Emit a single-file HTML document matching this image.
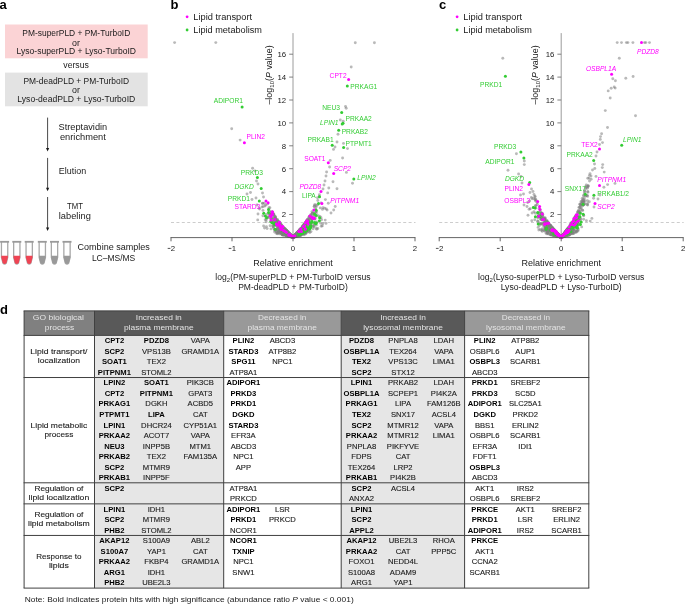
<!DOCTYPE html>
<html><head><meta charset="utf-8"><title>Figure</title>
<style>
html,body{margin:0;padding:0;background:#fff;}
body{width:685px;height:604px;overflow:hidden;}
svg{display:block;font-family:"Liberation Sans",sans-serif;will-change:transform;transform:translateZ(0);}
</style></head><body>
<svg width="685" height="604" viewBox="0 0 685 604" fill="#1a1a1a">
<text x="-0.40" y="9.10" font-size="13" font-weight="bold" fill="#000">a</text>
<rect x="5.00" y="24.50" width="142.70" height="33.80" fill="#fbd3d5"/>
<rect x="5.00" y="72.60" width="142.70" height="33.70" fill="#e3e3e3"/>
<text x="76.30" y="36.12" font-size="8.15" text-anchor="middle" textLength="107.9" lengthAdjust="spacingAndGlyphs">PM-superPLD + PM-TurboID</text>
<text x="76.00" y="45.52" font-size="8.15" text-anchor="middle" textLength="7.9" lengthAdjust="spacingAndGlyphs">or</text>
<text x="76.30" y="53.92" font-size="8.15" text-anchor="middle" textLength="119.4" lengthAdjust="spacingAndGlyphs">Lyso-superPLD + Lyso-TurboID</text>
<text x="76.10" y="68.22" font-size="8.15" text-anchor="middle" textLength="25.6" lengthAdjust="spacingAndGlyphs">versus</text>
<text x="76.30" y="84.12" font-size="8.15" text-anchor="middle" textLength="105.7" lengthAdjust="spacingAndGlyphs">PM-deadPLD + PM-TurboID</text>
<text x="76.00" y="93.32" font-size="8.15" text-anchor="middle" textLength="7.9" lengthAdjust="spacingAndGlyphs">or</text>
<text x="76.30" y="101.92" font-size="8.15" text-anchor="middle" textLength="117.9" lengthAdjust="spacingAndGlyphs">Lyso-deadPLD + Lyso-TurboID</text>
<line x1="47.60" y1="117.60" x2="47.60" y2="149.50" stroke="#1a1a1a" stroke-width="0.8"/>
<path d="M46.00 147.90 L47.60 151.50 L49.20 147.90 Z" fill="#1a1a1a"/>
<line x1="47.60" y1="157.90" x2="47.60" y2="189.30" stroke="#1a1a1a" stroke-width="0.8"/>
<path d="M46.00 187.70 L47.60 191.30 L49.20 187.70 Z" fill="#1a1a1a"/>
<line x1="47.60" y1="197.00" x2="47.60" y2="229.00" stroke="#1a1a1a" stroke-width="0.8"/>
<path d="M46.00 227.40 L47.60 231.00 L49.20 227.40 Z" fill="#1a1a1a"/>
<text x="82.90" y="129.92" font-size="8.15" text-anchor="middle" textLength="48.6" lengthAdjust="spacingAndGlyphs">Streptavidin</text>
<text x="82.90" y="139.72" font-size="8.15" text-anchor="middle" textLength="45.9" lengthAdjust="spacingAndGlyphs">enrichment</text>
<text x="58.80" y="174.32" font-size="8.15" textLength="27.3" lengthAdjust="spacingAndGlyphs">Elution</text>
<text x="75.00" y="209.32" font-size="8.15" text-anchor="middle" textLength="15.9" lengthAdjust="spacingAndGlyphs">TMT</text>
<text x="74.80" y="218.92" font-size="8.15" text-anchor="middle" textLength="32.0" lengthAdjust="spacingAndGlyphs">labeling</text>
<text x="113.70" y="249.52" font-size="8.15" text-anchor="middle" textLength="72.3" lengthAdjust="spacingAndGlyphs">Combine samples</text>
<text x="113.60" y="260.52" font-size="8.15" text-anchor="middle" textLength="43.4" lengthAdjust="spacingAndGlyphs">LC–MS/MS</text>
<path d="M1.45 242.00 L1.45 257.40 L2.90 263.10 Q4.60 265.00 6.30 263.10 L7.75 257.40 L7.75 242.00" fill="none" stroke="#a8a8a8" stroke-width="1.3" stroke-linejoin="round"/>
<path d="M1.30 255.8 L7.90 255.8 L7.90 257.60 L6.50 263.00 Q4.60 264.90 2.70 263.00 L1.30 257.60 Z" fill="#ef4454"/>
<rect x="0.10" y="240.90" width="9.00" height="1.80" fill="#9a9a9a"/>
<path d="M13.65 242.00 L13.65 257.40 L15.10 263.10 Q16.80 265.00 18.50 263.10 L19.95 257.40 L19.95 242.00" fill="none" stroke="#a8a8a8" stroke-width="1.3" stroke-linejoin="round"/>
<path d="M13.50 255.8 L20.10 255.8 L20.10 257.60 L18.70 263.00 Q16.80 264.90 14.90 263.00 L13.50 257.60 Z" fill="#ef4454"/>
<rect x="12.30" y="240.90" width="9.00" height="1.80" fill="#9a9a9a"/>
<path d="M26.05 242.00 L26.05 257.40 L27.50 263.10 Q29.20 265.00 30.90 263.10 L32.35 257.40 L32.35 242.00" fill="none" stroke="#a8a8a8" stroke-width="1.3" stroke-linejoin="round"/>
<path d="M25.90 255.8 L32.50 255.8 L32.50 257.60 L31.10 263.00 Q29.20 264.90 27.30 263.00 L25.90 257.60 Z" fill="#ef4454"/>
<rect x="24.70" y="240.90" width="9.00" height="1.80" fill="#9a9a9a"/>
<path d="M39.15 242.00 L39.15 257.40 L40.60 263.10 Q42.30 265.00 44.00 263.10 L45.45 257.40 L45.45 242.00" fill="none" stroke="#a8a8a8" stroke-width="1.3" stroke-linejoin="round"/>
<path d="M39.00 255.8 L45.60 255.8 L45.60 257.60 L44.20 263.00 Q42.30 264.90 40.40 263.00 L39.00 257.60 Z" fill="#999999"/>
<rect x="37.80" y="240.90" width="9.00" height="1.80" fill="#9a9a9a"/>
<path d="M51.35 242.00 L51.35 257.40 L52.80 263.10 Q54.50 265.00 56.20 263.10 L57.65 257.40 L57.65 242.00" fill="none" stroke="#a8a8a8" stroke-width="1.3" stroke-linejoin="round"/>
<path d="M51.20 255.8 L57.80 255.8 L57.80 257.60 L56.40 263.00 Q54.50 264.90 52.60 263.00 L51.20 257.60 Z" fill="#999999"/>
<rect x="50.00" y="240.90" width="9.00" height="1.80" fill="#9a9a9a"/>
<path d="M63.85 242.00 L63.85 257.40 L65.30 263.10 Q67.00 265.00 68.70 263.10 L70.15 257.40 L70.15 242.00" fill="none" stroke="#a8a8a8" stroke-width="1.3" stroke-linejoin="round"/>
<path d="M63.70 255.8 L70.30 255.8 L70.30 257.60 L68.90 263.00 Q67.00 264.90 65.10 263.00 L63.70 257.60 Z" fill="#999999"/>
<rect x="62.50" y="240.90" width="9.00" height="1.80" fill="#9a9a9a"/>
<line x1="171.00" y1="222.50" x2="415.50" y2="222.50" stroke="#c0c0c0" stroke-width="0.8" stroke-dasharray="3 2.4"/>
<line x1="293.00" y1="33.10" x2="293.00" y2="237.40" stroke="#9c9c9c" stroke-width="1"/>
<line x1="289.20" y1="214.50" x2="293.00" y2="214.50" stroke="#737373" stroke-width="0.9"/>
<text x="286.20" y="217.39" font-size="7.8" text-anchor="end">2</text>
<line x1="289.20" y1="191.60" x2="293.00" y2="191.60" stroke="#737373" stroke-width="0.9"/>
<text x="286.20" y="194.49" font-size="7.8" text-anchor="end">4</text>
<line x1="289.20" y1="168.70" x2="293.00" y2="168.70" stroke="#737373" stroke-width="0.9"/>
<text x="286.20" y="171.59" font-size="7.8" text-anchor="end">6</text>
<line x1="289.20" y1="145.80" x2="293.00" y2="145.80" stroke="#737373" stroke-width="0.9"/>
<text x="286.20" y="148.69" font-size="7.8" text-anchor="end">8</text>
<line x1="289.20" y1="122.90" x2="293.00" y2="122.90" stroke="#737373" stroke-width="0.9"/>
<text x="286.20" y="125.79" font-size="7.8" text-anchor="end">10</text>
<line x1="289.20" y1="100.00" x2="293.00" y2="100.00" stroke="#737373" stroke-width="0.9"/>
<text x="286.20" y="102.89" font-size="7.8" text-anchor="end">12</text>
<line x1="289.20" y1="77.10" x2="293.00" y2="77.10" stroke="#737373" stroke-width="0.9"/>
<text x="286.20" y="79.99" font-size="7.8" text-anchor="end">14</text>
<line x1="289.20" y1="54.20" x2="293.00" y2="54.20" stroke="#737373" stroke-width="0.9"/>
<text x="286.20" y="57.09" font-size="7.8" text-anchor="end">16</text>
<g fill="#808080" fill-opacity="0.55">
<circle cx="282.7" cy="228.8" r="1.45"/>
<circle cx="295.4" cy="235.4" r="1.45"/>
<circle cx="294.1" cy="237.0" r="1.45"/>
<circle cx="306.7" cy="220.5" r="1.45"/>
<circle cx="305.3" cy="232.5" r="1.45"/>
<circle cx="283.6" cy="233.8" r="1.45"/>
<circle cx="292.6" cy="237.2" r="1.45"/>
<circle cx="301.5" cy="231.4" r="1.45"/>
<circle cx="300.1" cy="229.1" r="1.45"/>
<circle cx="314.3" cy="206.6" r="1.45"/>
<circle cx="289.7" cy="236.5" r="1.45"/>
<circle cx="298.9" cy="233.1" r="1.45"/>
<circle cx="293.0" cy="237.4" r="1.45"/>
<circle cx="292.1" cy="236.6" r="1.45"/>
<circle cx="291.9" cy="236.2" r="1.45"/>
<circle cx="294.5" cy="236.9" r="1.45"/>
<circle cx="273.0" cy="221.2" r="1.45"/>
<circle cx="290.4" cy="235.5" r="1.45"/>
<circle cx="280.1" cy="229.6" r="1.45"/>
<circle cx="289.1" cy="233.4" r="1.45"/>
<circle cx="295.7" cy="234.6" r="1.45"/>
<circle cx="294.2" cy="236.2" r="1.45"/>
<circle cx="289.3" cy="233.7" r="1.45"/>
<circle cx="291.8" cy="236.9" r="1.45"/>
<circle cx="298.4" cy="231.3" r="1.45"/>
<circle cx="282.3" cy="227.5" r="1.45"/>
<circle cx="290.9" cy="235.3" r="1.45"/>
<circle cx="276.2" cy="220.3" r="1.45"/>
<circle cx="303.7" cy="233.8" r="1.45"/>
<circle cx="277.7" cy="222.1" r="1.45"/>
<circle cx="297.0" cy="233.7" r="1.45"/>
<circle cx="289.8" cy="234.3" r="1.45"/>
<circle cx="296.8" cy="233.0" r="1.45"/>
<circle cx="285.6" cy="234.7" r="1.45"/>
<circle cx="282.4" cy="231.7" r="1.45"/>
<circle cx="306.6" cy="232.1" r="1.45"/>
<circle cx="292.8" cy="237.2" r="1.45"/>
<circle cx="280.3" cy="226.2" r="1.45"/>
<circle cx="283.1" cy="229.5" r="1.45"/>
<circle cx="311.3" cy="217.6" r="1.45"/>
<circle cx="278.5" cy="223.1" r="1.45"/>
<circle cx="316.1" cy="211.5" r="1.45"/>
<circle cx="282.1" cy="234.2" r="1.45"/>
<circle cx="308.1" cy="222.3" r="1.45"/>
<circle cx="299.7" cy="230.7" r="1.45"/>
<circle cx="275.6" cy="223.4" r="1.45"/>
<circle cx="289.7" cy="235.3" r="1.45"/>
<circle cx="322.3" cy="225.9" r="1.45"/>
<circle cx="278.8" cy="231.9" r="1.45"/>
<circle cx="305.5" cy="223.3" r="1.45"/>
<circle cx="279.3" cy="228.8" r="1.45"/>
<circle cx="284.4" cy="229.7" r="1.45"/>
<circle cx="307.4" cy="219.6" r="1.45"/>
<circle cx="289.0" cy="235.1" r="1.45"/>
<circle cx="300.9" cy="229.3" r="1.45"/>
<circle cx="300.0" cy="235.6" r="1.45"/>
<circle cx="293.5" cy="236.9" r="1.45"/>
<circle cx="297.3" cy="232.9" r="1.45"/>
<circle cx="292.7" cy="237.1" r="1.45"/>
<circle cx="291.1" cy="235.9" r="1.45"/>
<circle cx="280.6" cy="225.6" r="1.45"/>
<circle cx="306.4" cy="227.7" r="1.45"/>
<circle cx="292.9" cy="237.3" r="1.45"/>
<circle cx="289.0" cy="234.1" r="1.45"/>
<circle cx="304.0" cy="227.8" r="1.45"/>
<circle cx="294.1" cy="236.4" r="1.45"/>
<circle cx="294.6" cy="236.1" r="1.45"/>
<circle cx="298.5" cy="231.6" r="1.45"/>
<circle cx="277.0" cy="222.4" r="1.45"/>
<circle cx="264.2" cy="203.2" r="1.45"/>
<circle cx="311.1" cy="215.1" r="1.45"/>
<circle cx="298.0" cy="234.2" r="1.45"/>
<circle cx="309.9" cy="232.5" r="1.45"/>
<circle cx="293.8" cy="236.6" r="1.45"/>
<circle cx="294.8" cy="236.1" r="1.45"/>
<circle cx="314.2" cy="206.4" r="1.45"/>
<circle cx="289.9" cy="235.9" r="1.45"/>
<circle cx="304.8" cy="224.8" r="1.45"/>
<circle cx="297.3" cy="232.9" r="1.45"/>
<circle cx="295.7" cy="234.7" r="1.45"/>
<circle cx="301.6" cy="233.8" r="1.45"/>
<circle cx="301.1" cy="235.3" r="1.45"/>
<circle cx="301.4" cy="229.1" r="1.45"/>
<circle cx="300.8" cy="235.1" r="1.45"/>
<circle cx="299.2" cy="231.2" r="1.45"/>
<circle cx="291.3" cy="235.8" r="1.45"/>
<circle cx="300.5" cy="234.3" r="1.45"/>
<circle cx="290.3" cy="235.2" r="1.45"/>
<circle cx="287.5" cy="235.7" r="1.45"/>
<circle cx="294.5" cy="236.7" r="1.45"/>
<circle cx="283.5" cy="232.3" r="1.45"/>
<circle cx="283.6" cy="233.7" r="1.45"/>
<circle cx="304.8" cy="224.7" r="1.45"/>
<circle cx="315.5" cy="209.1" r="1.45"/>
<circle cx="320.0" cy="216.4" r="1.45"/>
<circle cx="295.9" cy="234.3" r="1.45"/>
<circle cx="294.7" cy="235.9" r="1.45"/>
<circle cx="291.7" cy="236.4" r="1.45"/>
<circle cx="286.5" cy="235.9" r="1.45"/>
<circle cx="278.6" cy="223.6" r="1.45"/>
<circle cx="294.4" cy="236.1" r="1.45"/>
<circle cx="306.4" cy="233.1" r="1.45"/>
<circle cx="292.5" cy="237.1" r="1.45"/>
<circle cx="294.8" cy="236.6" r="1.45"/>
<circle cx="294.2" cy="236.1" r="1.45"/>
<circle cx="274.9" cy="225.0" r="1.45"/>
<circle cx="299.5" cy="235.8" r="1.45"/>
<circle cx="314.6" cy="218.7" r="1.45"/>
<circle cx="299.0" cy="235.1" r="1.45"/>
<circle cx="293.2" cy="237.2" r="1.45"/>
<circle cx="304.5" cy="227.9" r="1.45"/>
<circle cx="296.5" cy="234.5" r="1.45"/>
<circle cx="310.4" cy="222.8" r="1.45"/>
<circle cx="306.8" cy="224.3" r="1.45"/>
<circle cx="299.0" cy="231.5" r="1.45"/>
<circle cx="292.9" cy="237.3" r="1.45"/>
<circle cx="296.1" cy="234.1" r="1.45"/>
<circle cx="297.8" cy="233.7" r="1.45"/>
<circle cx="298.7" cy="232.0" r="1.45"/>
<circle cx="281.0" cy="227.3" r="1.45"/>
<circle cx="286.6" cy="234.9" r="1.45"/>
<circle cx="291.7" cy="236.1" r="1.45"/>
<circle cx="301.2" cy="233.5" r="1.45"/>
<circle cx="312.2" cy="219.1" r="1.45"/>
<circle cx="293.5" cy="236.9" r="1.45"/>
<circle cx="285.0" cy="232.2" r="1.45"/>
<circle cx="293.7" cy="236.8" r="1.45"/>
<circle cx="298.3" cy="232.9" r="1.45"/>
<circle cx="296.9" cy="233.4" r="1.45"/>
<circle cx="292.8" cy="237.4" r="1.45"/>
<circle cx="275.4" cy="218.2" r="1.45"/>
<circle cx="293.6" cy="236.8" r="1.45"/>
<circle cx="299.5" cy="229.9" r="1.45"/>
<circle cx="283.7" cy="227.6" r="1.45"/>
<circle cx="300.3" cy="229.8" r="1.45"/>
<circle cx="280.7" cy="232.4" r="1.45"/>
<circle cx="283.6" cy="231.7" r="1.45"/>
<circle cx="300.0" cy="231.9" r="1.45"/>
<circle cx="274.2" cy="214.9" r="1.45"/>
<circle cx="308.4" cy="231.7" r="1.45"/>
<circle cx="310.8" cy="226.1" r="1.45"/>
<circle cx="278.5" cy="226.2" r="1.45"/>
<circle cx="309.2" cy="229.1" r="1.45"/>
<circle cx="289.0" cy="234.4" r="1.45"/>
<circle cx="283.2" cy="234.5" r="1.45"/>
<circle cx="302.3" cy="232.0" r="1.45"/>
<circle cx="290.0" cy="234.8" r="1.45"/>
<circle cx="293.9" cy="236.5" r="1.45"/>
<circle cx="310.0" cy="225.6" r="1.45"/>
<circle cx="272.2" cy="217.8" r="1.45"/>
<circle cx="297.6" cy="233.1" r="1.45"/>
<circle cx="299.5" cy="235.3" r="1.45"/>
<circle cx="293.9" cy="236.7" r="1.45"/>
<circle cx="278.5" cy="223.7" r="1.45"/>
<circle cx="290.0" cy="236.5" r="1.45"/>
<circle cx="276.8" cy="229.3" r="1.45"/>
<circle cx="287.5" cy="231.8" r="1.45"/>
<circle cx="302.8" cy="226.8" r="1.45"/>
<circle cx="286.6" cy="231.3" r="1.45"/>
<circle cx="287.3" cy="234.2" r="1.45"/>
<circle cx="290.3" cy="234.9" r="1.45"/>
<circle cx="314.0" cy="226.6" r="1.45"/>
<circle cx="317.7" cy="228.5" r="1.45"/>
<circle cx="302.1" cy="227.0" r="1.45"/>
<circle cx="311.9" cy="220.7" r="1.45"/>
<circle cx="294.0" cy="236.5" r="1.45"/>
<circle cx="294.0" cy="237.0" r="1.45"/>
<circle cx="305.1" cy="231.8" r="1.45"/>
<circle cx="301.5" cy="228.3" r="1.45"/>
<circle cx="287.8" cy="232.4" r="1.45"/>
<circle cx="307.8" cy="222.5" r="1.45"/>
<circle cx="299.1" cy="231.6" r="1.45"/>
<circle cx="313.8" cy="216.8" r="1.45"/>
<circle cx="304.8" cy="226.3" r="1.45"/>
<circle cx="299.3" cy="235.0" r="1.45"/>
<circle cx="290.7" cy="236.1" r="1.45"/>
<circle cx="288.4" cy="233.8" r="1.45"/>
<circle cx="295.3" cy="235.9" r="1.45"/>
<circle cx="320.8" cy="223.2" r="1.45"/>
<circle cx="289.9" cy="234.8" r="1.45"/>
<circle cx="295.9" cy="235.9" r="1.45"/>
<circle cx="275.3" cy="223.9" r="1.45"/>
<circle cx="300.6" cy="229.3" r="1.45"/>
<circle cx="297.9" cy="231.9" r="1.45"/>
<circle cx="289.9" cy="234.1" r="1.45"/>
<circle cx="298.6" cy="233.4" r="1.45"/>
<circle cx="296.1" cy="235.3" r="1.45"/>
<circle cx="273.1" cy="214.7" r="1.45"/>
<circle cx="288.1" cy="232.7" r="1.45"/>
<circle cx="304.7" cy="224.1" r="1.45"/>
<circle cx="283.4" cy="228.9" r="1.45"/>
<circle cx="294.2" cy="236.6" r="1.45"/>
<circle cx="303.2" cy="226.2" r="1.45"/>
<circle cx="273.5" cy="215.1" r="1.45"/>
<circle cx="271.1" cy="218.4" r="1.45"/>
<circle cx="295.0" cy="235.2" r="1.45"/>
<circle cx="288.4" cy="233.6" r="1.45"/>
<circle cx="278.5" cy="228.7" r="1.45"/>
<circle cx="305.3" cy="229.8" r="1.45"/>
<circle cx="296.1" cy="235.3" r="1.45"/>
<circle cx="295.7" cy="236.0" r="1.45"/>
<circle cx="283.3" cy="232.4" r="1.45"/>
<circle cx="279.2" cy="231.7" r="1.45"/>
<circle cx="297.6" cy="232.8" r="1.45"/>
<circle cx="307.9" cy="221.1" r="1.45"/>
<circle cx="291.1" cy="235.9" r="1.45"/>
<circle cx="295.3" cy="235.1" r="1.45"/>
<circle cx="294.1" cy="237.0" r="1.45"/>
<circle cx="286.5" cy="230.7" r="1.45"/>
<circle cx="284.0" cy="229.5" r="1.45"/>
<circle cx="298.7" cy="233.9" r="1.45"/>
<circle cx="286.6" cy="230.5" r="1.45"/>
<circle cx="305.5" cy="234.1" r="1.45"/>
<circle cx="287.8" cy="235.8" r="1.45"/>
<circle cx="284.1" cy="228.9" r="1.45"/>
<circle cx="274.8" cy="221.0" r="1.45"/>
<circle cx="298.0" cy="235.5" r="1.45"/>
<circle cx="307.6" cy="221.9" r="1.45"/>
<circle cx="295.6" cy="236.2" r="1.45"/>
<circle cx="306.8" cy="221.0" r="1.45"/>
<circle cx="285.2" cy="229.1" r="1.45"/>
<circle cx="263.0" cy="210.4" r="1.45"/>
<circle cx="294.5" cy="235.8" r="1.45"/>
<circle cx="282.3" cy="230.6" r="1.45"/>
<circle cx="283.1" cy="235.0" r="1.45"/>
<circle cx="305.4" cy="226.1" r="1.45"/>
<circle cx="298.6" cy="231.9" r="1.45"/>
<circle cx="290.2" cy="236.4" r="1.45"/>
<circle cx="282.4" cy="230.3" r="1.45"/>
<circle cx="282.5" cy="229.3" r="1.45"/>
<circle cx="279.1" cy="222.0" r="1.45"/>
<circle cx="300.4" cy="231.4" r="1.45"/>
<circle cx="309.4" cy="229.9" r="1.45"/>
<circle cx="315.4" cy="218.1" r="1.45"/>
<circle cx="320.3" cy="207.9" r="1.45"/>
<circle cx="263.6" cy="225.9" r="1.45"/>
<circle cx="297.2" cy="236.1" r="1.45"/>
<circle cx="285.6" cy="233.2" r="1.45"/>
<circle cx="278.1" cy="230.7" r="1.45"/>
<circle cx="286.7" cy="235.7" r="1.45"/>
<circle cx="316.3" cy="205.7" r="1.45"/>
<circle cx="275.8" cy="218.6" r="1.45"/>
<circle cx="273.3" cy="222.1" r="1.45"/>
<circle cx="293.0" cy="237.4" r="1.45"/>
<circle cx="292.2" cy="236.6" r="1.45"/>
<circle cx="282.0" cy="234.7" r="1.45"/>
<circle cx="297.3" cy="232.7" r="1.45"/>
<circle cx="300.4" cy="233.6" r="1.45"/>
<circle cx="290.6" cy="235.3" r="1.45"/>
<circle cx="295.6" cy="236.3" r="1.45"/>
<circle cx="293.6" cy="236.9" r="1.45"/>
<circle cx="325.2" cy="220.1" r="1.45"/>
<circle cx="288.4" cy="232.9" r="1.45"/>
<circle cx="290.5" cy="235.4" r="1.45"/>
<circle cx="298.4" cy="231.6" r="1.45"/>
<circle cx="296.0" cy="234.1" r="1.45"/>
<circle cx="296.8" cy="236.2" r="1.45"/>
<circle cx="299.7" cy="232.5" r="1.45"/>
<circle cx="281.5" cy="232.3" r="1.45"/>
<circle cx="294.1" cy="236.4" r="1.45"/>
<circle cx="288.9" cy="235.8" r="1.45"/>
<circle cx="285.2" cy="231.9" r="1.45"/>
<circle cx="290.5" cy="235.5" r="1.45"/>
<circle cx="279.6" cy="226.7" r="1.45"/>
<circle cx="301.2" cy="228.8" r="1.45"/>
<circle cx="295.2" cy="235.4" r="1.45"/>
<circle cx="281.3" cy="230.2" r="1.45"/>
<circle cx="310.9" cy="214.4" r="1.45"/>
<circle cx="282.1" cy="234.7" r="1.45"/>
<circle cx="307.5" cy="220.9" r="1.45"/>
<circle cx="290.9" cy="236.1" r="1.45"/>
<circle cx="285.7" cy="230.8" r="1.45"/>
<circle cx="263.2" cy="206.6" r="1.45"/>
<circle cx="291.0" cy="236.9" r="1.45"/>
<circle cx="280.8" cy="231.8" r="1.45"/>
<circle cx="294.1" cy="236.4" r="1.45"/>
<circle cx="289.3" cy="234.4" r="1.45"/>
<circle cx="310.9" cy="225.0" r="1.45"/>
<circle cx="289.9" cy="234.8" r="1.45"/>
<circle cx="285.4" cy="229.6" r="1.45"/>
<circle cx="289.6" cy="234.1" r="1.45"/>
<circle cx="286.1" cy="235.7" r="1.45"/>
<circle cx="309.7" cy="219.3" r="1.45"/>
<circle cx="289.3" cy="235.8" r="1.45"/>
<circle cx="259.3" cy="208.1" r="1.45"/>
<circle cx="293.5" cy="237.0" r="1.45"/>
<circle cx="287.7" cy="232.3" r="1.45"/>
<circle cx="318.2" cy="215.8" r="1.45"/>
<circle cx="298.6" cy="231.1" r="1.45"/>
<circle cx="283.0" cy="233.5" r="1.45"/>
<circle cx="285.1" cy="232.6" r="1.45"/>
<circle cx="306.2" cy="224.0" r="1.45"/>
<circle cx="287.0" cy="232.5" r="1.45"/>
<circle cx="289.0" cy="235.9" r="1.45"/>
<circle cx="286.8" cy="230.8" r="1.45"/>
<circle cx="290.9" cy="235.5" r="1.45"/>
<circle cx="274.8" cy="216.5" r="1.45"/>
<circle cx="286.9" cy="231.4" r="1.45"/>
<circle cx="274.6" cy="232.0" r="1.45"/>
<circle cx="289.6" cy="236.2" r="1.45"/>
<circle cx="293.4" cy="237.2" r="1.45"/>
<circle cx="294.7" cy="235.5" r="1.45"/>
<circle cx="276.8" cy="231.4" r="1.45"/>
<circle cx="288.9" cy="233.7" r="1.45"/>
<circle cx="296.0" cy="235.7" r="1.45"/>
<circle cx="292.5" cy="237.0" r="1.45"/>
<circle cx="312.2" cy="213.5" r="1.45"/>
<circle cx="279.1" cy="222.5" r="1.45"/>
<circle cx="280.5" cy="229.7" r="1.45"/>
<circle cx="292.2" cy="237.0" r="1.45"/>
<circle cx="288.9" cy="235.1" r="1.45"/>
<circle cx="290.7" cy="236.4" r="1.45"/>
<circle cx="287.8" cy="235.6" r="1.45"/>
<circle cx="307.0" cy="224.0" r="1.45"/>
<circle cx="286.8" cy="235.7" r="1.45"/>
<circle cx="292.3" cy="236.9" r="1.45"/>
<circle cx="288.1" cy="236.2" r="1.45"/>
<circle cx="265.2" cy="219.7" r="1.45"/>
<circle cx="295.4" cy="235.5" r="1.45"/>
<circle cx="298.2" cy="231.6" r="1.45"/>
<circle cx="304.4" cy="230.1" r="1.45"/>
<circle cx="289.0" cy="233.6" r="1.45"/>
<circle cx="293.5" cy="237.1" r="1.45"/>
<circle cx="287.4" cy="232.1" r="1.45"/>
<circle cx="290.3" cy="235.2" r="1.45"/>
<circle cx="293.0" cy="237.4" r="1.45"/>
<circle cx="284.5" cy="231.5" r="1.45"/>
<circle cx="302.5" cy="228.2" r="1.45"/>
<circle cx="265.8" cy="205.0" r="1.45"/>
<circle cx="295.0" cy="236.0" r="1.45"/>
<circle cx="298.3" cy="232.4" r="1.45"/>
<circle cx="296.1" cy="235.7" r="1.45"/>
<circle cx="284.0" cy="234.9" r="1.45"/>
<circle cx="291.7" cy="236.0" r="1.45"/>
<circle cx="285.5" cy="230.2" r="1.45"/>
<circle cx="316.6" cy="222.0" r="1.45"/>
<circle cx="311.4" cy="218.1" r="1.45"/>
<circle cx="277.3" cy="228.8" r="1.45"/>
<circle cx="314.4" cy="204.9" r="1.45"/>
<circle cx="299.3" cy="232.0" r="1.45"/>
<circle cx="294.6" cy="236.1" r="1.45"/>
<circle cx="290.4" cy="235.5" r="1.45"/>
<circle cx="278.4" cy="225.5" r="1.45"/>
<circle cx="277.4" cy="233.1" r="1.45"/>
<circle cx="276.6" cy="220.6" r="1.45"/>
<circle cx="283.2" cy="232.1" r="1.45"/>
<circle cx="272.8" cy="215.0" r="1.45"/>
<circle cx="286.8" cy="231.9" r="1.45"/>
<circle cx="298.7" cy="233.1" r="1.45"/>
<circle cx="294.8" cy="236.8" r="1.45"/>
<circle cx="296.4" cy="236.2" r="1.45"/>
<circle cx="292.8" cy="237.3" r="1.45"/>
<circle cx="296.7" cy="234.8" r="1.45"/>
<circle cx="289.2" cy="236.4" r="1.45"/>
<circle cx="297.3" cy="235.7" r="1.45"/>
<circle cx="267.7" cy="217.3" r="1.45"/>
<circle cx="298.8" cy="233.0" r="1.45"/>
<circle cx="304.3" cy="224.4" r="1.45"/>
<circle cx="292.0" cy="236.6" r="1.45"/>
<circle cx="284.0" cy="233.8" r="1.45"/>
<circle cx="293.1" cy="237.3" r="1.45"/>
<circle cx="308.4" cy="220.9" r="1.45"/>
<circle cx="309.9" cy="216.5" r="1.45"/>
<circle cx="277.7" cy="220.9" r="1.45"/>
<circle cx="282.2" cy="231.4" r="1.45"/>
<circle cx="279.6" cy="225.0" r="1.45"/>
<circle cx="288.9" cy="233.9" r="1.45"/>
<circle cx="291.8" cy="236.3" r="1.45"/>
<circle cx="276.0" cy="222.4" r="1.45"/>
<circle cx="291.6" cy="236.7" r="1.45"/>
<circle cx="292.9" cy="237.3" r="1.45"/>
<circle cx="283.4" cy="228.1" r="1.45"/>
<circle cx="275.4" cy="216.8" r="1.45"/>
<circle cx="286.4" cy="233.1" r="1.45"/>
<circle cx="289.0" cy="233.2" r="1.45"/>
<circle cx="290.5" cy="234.7" r="1.45"/>
<circle cx="280.4" cy="227.2" r="1.45"/>
<circle cx="281.0" cy="226.3" r="1.45"/>
<circle cx="302.7" cy="227.5" r="1.45"/>
<circle cx="300.0" cy="233.0" r="1.45"/>
<circle cx="289.7" cy="235.1" r="1.45"/>
<circle cx="293.4" cy="237.2" r="1.45"/>
<circle cx="303.5" cy="227.7" r="1.45"/>
<circle cx="285.1" cy="228.9" r="1.45"/>
<circle cx="289.7" cy="234.4" r="1.45"/>
<circle cx="293.8" cy="236.7" r="1.45"/>
<circle cx="296.3" cy="234.4" r="1.45"/>
<circle cx="295.5" cy="235.3" r="1.45"/>
<circle cx="282.9" cy="227.2" r="1.45"/>
<circle cx="289.5" cy="234.4" r="1.45"/>
<circle cx="291.7" cy="236.7" r="1.45"/>
<circle cx="313.8" cy="226.6" r="1.45"/>
<circle cx="295.7" cy="234.6" r="1.45"/>
<circle cx="295.5" cy="235.8" r="1.45"/>
<circle cx="287.8" cy="233.4" r="1.45"/>
<circle cx="281.4" cy="233.0" r="1.45"/>
<circle cx="278.2" cy="232.2" r="1.45"/>
<circle cx="306.6" cy="222.2" r="1.45"/>
<circle cx="291.0" cy="236.2" r="1.45"/>
<circle cx="299.1" cy="233.1" r="1.45"/>
<circle cx="297.9" cy="232.4" r="1.45"/>
<circle cx="282.2" cy="226.8" r="1.45"/>
<circle cx="268.9" cy="217.5" r="1.45"/>
<circle cx="298.7" cy="231.9" r="1.45"/>
<circle cx="286.2" cy="233.3" r="1.45"/>
<circle cx="297.0" cy="233.9" r="1.45"/>
<circle cx="286.4" cy="230.8" r="1.45"/>
<circle cx="286.2" cy="231.0" r="1.45"/>
<circle cx="303.4" cy="234.0" r="1.45"/>
<circle cx="294.1" cy="236.8" r="1.45"/>
<circle cx="305.8" cy="222.8" r="1.45"/>
<circle cx="293.3" cy="237.2" r="1.45"/>
<circle cx="285.2" cy="231.1" r="1.45"/>
<circle cx="270.9" cy="214.4" r="1.45"/>
<circle cx="293.8" cy="236.9" r="1.45"/>
<circle cx="295.9" cy="234.5" r="1.45"/>
<circle cx="287.2" cy="234.2" r="1.45"/>
<circle cx="294.0" cy="236.5" r="1.45"/>
<circle cx="308.7" cy="220.4" r="1.45"/>
<circle cx="310.3" cy="224.5" r="1.45"/>
<circle cx="283.4" cy="234.4" r="1.45"/>
<circle cx="297.2" cy="235.9" r="1.45"/>
<circle cx="294.6" cy="236.2" r="1.45"/>
<circle cx="274.2" cy="225.4" r="1.45"/>
<circle cx="289.9" cy="235.2" r="1.45"/>
<circle cx="301.6" cy="230.4" r="1.45"/>
<circle cx="292.9" cy="237.3" r="1.45"/>
<circle cx="307.5" cy="226.0" r="1.45"/>
<circle cx="291.5" cy="235.9" r="1.45"/>
<circle cx="314.8" cy="219.3" r="1.45"/>
<circle cx="289.2" cy="233.6" r="1.45"/>
<circle cx="284.6" cy="229.1" r="1.45"/>
<circle cx="302.7" cy="226.9" r="1.45"/>
<circle cx="288.5" cy="232.7" r="1.45"/>
<circle cx="287.3" cy="233.8" r="1.45"/>
<circle cx="286.0" cy="235.6" r="1.45"/>
<circle cx="293.7" cy="236.8" r="1.45"/>
<circle cx="289.8" cy="235.7" r="1.45"/>
<circle cx="284.7" cy="230.2" r="1.45"/>
<circle cx="292.9" cy="237.3" r="1.45"/>
<circle cx="281.7" cy="227.2" r="1.45"/>
<circle cx="288.5" cy="234.1" r="1.45"/>
<circle cx="284.4" cy="229.9" r="1.45"/>
<circle cx="291.8" cy="236.8" r="1.45"/>
<circle cx="299.4" cy="231.4" r="1.45"/>
<circle cx="288.8" cy="236.2" r="1.45"/>
<circle cx="313.6" cy="223.4" r="1.45"/>
<circle cx="311.0" cy="231.6" r="1.45"/>
<circle cx="293.6" cy="237.0" r="1.45"/>
<circle cx="304.8" cy="223.8" r="1.45"/>
<circle cx="303.0" cy="228.0" r="1.45"/>
<circle cx="278.8" cy="222.1" r="1.45"/>
<circle cx="299.7" cy="229.8" r="1.45"/>
<circle cx="285.6" cy="235.0" r="1.45"/>
<circle cx="276.4" cy="231.7" r="1.45"/>
<circle cx="305.7" cy="232.8" r="1.45"/>
<circle cx="288.4" cy="234.5" r="1.45"/>
<circle cx="286.3" cy="231.1" r="1.45"/>
<circle cx="267.1" cy="228.6" r="1.45"/>
<circle cx="287.1" cy="231.3" r="1.45"/>
<circle cx="278.4" cy="223.5" r="1.45"/>
<circle cx="276.0" cy="224.0" r="1.45"/>
<circle cx="287.7" cy="234.6" r="1.45"/>
<circle cx="301.5" cy="230.8" r="1.45"/>
<circle cx="298.1" cy="233.9" r="1.45"/>
<circle cx="297.6" cy="235.3" r="1.45"/>
<circle cx="276.6" cy="229.6" r="1.45"/>
<circle cx="271.2" cy="214.5" r="1.45"/>
<circle cx="281.0" cy="224.2" r="1.45"/>
<circle cx="300.1" cy="234.2" r="1.45"/>
<circle cx="294.3" cy="236.1" r="1.45"/>
<circle cx="278.0" cy="226.2" r="1.45"/>
<circle cx="290.9" cy="235.5" r="1.45"/>
<circle cx="312.0" cy="215.6" r="1.45"/>
<circle cx="290.2" cy="235.3" r="1.45"/>
<circle cx="274.9" cy="217.6" r="1.45"/>
<circle cx="306.5" cy="221.1" r="1.45"/>
<circle cx="297.0" cy="232.8" r="1.45"/>
<circle cx="292.7" cy="237.3" r="1.45"/>
<circle cx="289.4" cy="235.1" r="1.45"/>
<circle cx="288.8" cy="234.6" r="1.45"/>
<circle cx="295.0" cy="235.4" r="1.45"/>
<circle cx="303.9" cy="227.1" r="1.45"/>
<circle cx="305.5" cy="222.4" r="1.45"/>
<circle cx="285.5" cy="231.0" r="1.45"/>
<circle cx="301.2" cy="232.8" r="1.45"/>
<circle cx="257.7" cy="219.9" r="1.45"/>
<circle cx="294.2" cy="237.0" r="1.45"/>
<circle cx="297.3" cy="233.1" r="1.45"/>
<circle cx="279.3" cy="233.9" r="1.45"/>
<circle cx="315.4" cy="204.8" r="1.45"/>
<circle cx="295.4" cy="236.1" r="1.45"/>
<circle cx="290.2" cy="234.4" r="1.45"/>
<circle cx="284.7" cy="232.1" r="1.45"/>
<circle cx="294.7" cy="236.5" r="1.45"/>
<circle cx="325.4" cy="199.6" r="1.45"/>
<circle cx="293.2" cy="237.2" r="1.45"/>
<circle cx="304.0" cy="224.9" r="1.45"/>
<circle cx="283.8" cy="228.8" r="1.45"/>
<circle cx="291.5" cy="235.9" r="1.45"/>
<circle cx="270.8" cy="218.6" r="1.45"/>
<circle cx="309.4" cy="216.6" r="1.45"/>
<circle cx="292.1" cy="236.8" r="1.45"/>
<circle cx="287.9" cy="236.2" r="1.45"/>
<circle cx="296.5" cy="234.8" r="1.45"/>
<circle cx="278.9" cy="231.1" r="1.45"/>
<circle cx="295.2" cy="236.3" r="1.45"/>
<circle cx="273.8" cy="228.4" r="1.45"/>
<circle cx="296.5" cy="235.7" r="1.45"/>
<circle cx="295.4" cy="236.2" r="1.45"/>
<circle cx="276.8" cy="221.5" r="1.45"/>
<circle cx="293.9" cy="236.4" r="1.45"/>
<circle cx="289.9" cy="234.1" r="1.45"/>
<circle cx="287.5" cy="232.6" r="1.45"/>
<circle cx="273.5" cy="213.8" r="1.45"/>
<circle cx="273.4" cy="227.1" r="1.45"/>
<circle cx="308.7" cy="220.3" r="1.45"/>
<circle cx="284.3" cy="235.0" r="1.45"/>
<circle cx="294.8" cy="235.5" r="1.45"/>
<circle cx="277.3" cy="219.8" r="1.45"/>
<circle cx="317.8" cy="200.5" r="1.45"/>
<circle cx="287.2" cy="234.8" r="1.45"/>
<circle cx="293.9" cy="236.9" r="1.45"/>
<circle cx="288.4" cy="235.9" r="1.45"/>
<circle cx="302.0" cy="228.8" r="1.45"/>
<circle cx="327.1" cy="210.1" r="1.45"/>
<circle cx="288.4" cy="233.4" r="1.45"/>
<circle cx="288.0" cy="235.0" r="1.45"/>
<circle cx="281.4" cy="226.0" r="1.45"/>
<circle cx="290.4" cy="234.6" r="1.45"/>
<circle cx="298.9" cy="235.1" r="1.45"/>
<circle cx="276.3" cy="233.2" r="1.45"/>
<circle cx="272.9" cy="219.1" r="1.45"/>
<circle cx="290.5" cy="236.2" r="1.45"/>
<circle cx="289.2" cy="235.4" r="1.45"/>
<circle cx="280.8" cy="230.7" r="1.45"/>
<circle cx="303.1" cy="229.9" r="1.45"/>
<circle cx="287.9" cy="231.9" r="1.45"/>
<circle cx="290.7" cy="235.1" r="1.45"/>
<circle cx="282.0" cy="225.9" r="1.45"/>
<circle cx="291.7" cy="236.7" r="1.45"/>
<circle cx="301.0" cy="229.9" r="1.45"/>
<circle cx="284.4" cy="231.2" r="1.45"/>
<circle cx="300.2" cy="232.4" r="1.45"/>
<circle cx="280.2" cy="223.1" r="1.45"/>
<circle cx="285.7" cy="230.7" r="1.45"/>
<circle cx="282.9" cy="231.1" r="1.45"/>
<circle cx="284.8" cy="229.6" r="1.45"/>
<circle cx="297.9" cy="235.3" r="1.45"/>
<circle cx="311.9" cy="218.2" r="1.45"/>
<circle cx="307.4" cy="222.0" r="1.45"/>
<circle cx="295.2" cy="234.9" r="1.45"/>
<circle cx="293.3" cy="237.3" r="1.45"/>
<circle cx="303.9" cy="226.1" r="1.45"/>
<circle cx="305.0" cy="226.6" r="1.45"/>
<circle cx="297.3" cy="233.6" r="1.45"/>
<circle cx="294.6" cy="236.3" r="1.45"/>
<circle cx="310.8" cy="217.5" r="1.45"/>
<circle cx="292.7" cy="237.1" r="1.45"/>
<circle cx="279.7" cy="223.5" r="1.45"/>
<circle cx="289.0" cy="234.3" r="1.45"/>
<circle cx="297.0" cy="233.8" r="1.45"/>
<circle cx="297.7" cy="234.0" r="1.45"/>
<circle cx="292.5" cy="237.0" r="1.45"/>
<circle cx="296.3" cy="234.8" r="1.45"/>
<circle cx="288.0" cy="236.1" r="1.45"/>
<circle cx="283.6" cy="227.7" r="1.45"/>
<circle cx="299.2" cy="234.6" r="1.45"/>
<circle cx="285.9" cy="231.2" r="1.45"/>
<circle cx="304.9" cy="224.7" r="1.45"/>
<circle cx="295.4" cy="234.8" r="1.45"/>
<circle cx="291.0" cy="236.5" r="1.45"/>
<circle cx="308.0" cy="221.9" r="1.45"/>
<circle cx="307.2" cy="227.7" r="1.45"/>
<circle cx="284.9" cy="229.1" r="1.45"/>
<circle cx="289.1" cy="235.1" r="1.45"/>
<circle cx="286.1" cy="231.4" r="1.45"/>
<circle cx="279.9" cy="227.1" r="1.45"/>
<circle cx="277.5" cy="233.0" r="1.45"/>
<circle cx="292.8" cy="237.3" r="1.45"/>
<circle cx="291.6" cy="235.9" r="1.45"/>
<circle cx="300.7" cy="233.3" r="1.45"/>
<circle cx="294.5" cy="236.7" r="1.45"/>
<circle cx="301.2" cy="232.4" r="1.45"/>
<circle cx="296.4" cy="233.6" r="1.45"/>
<circle cx="285.8" cy="233.9" r="1.45"/>
<circle cx="299.1" cy="231.5" r="1.45"/>
<circle cx="285.0" cy="230.5" r="1.45"/>
<circle cx="287.1" cy="233.2" r="1.45"/>
<circle cx="279.1" cy="222.3" r="1.45"/>
<circle cx="276.9" cy="221.6" r="1.45"/>
<circle cx="279.7" cy="225.1" r="1.45"/>
<circle cx="277.4" cy="227.7" r="1.45"/>
<circle cx="296.5" cy="235.9" r="1.45"/>
<circle cx="262.5" cy="203.3" r="1.45"/>
<circle cx="298.8" cy="232.2" r="1.45"/>
<circle cx="308.9" cy="229.2" r="1.45"/>
<circle cx="302.5" cy="226.3" r="1.45"/>
<circle cx="274.0" cy="219.6" r="1.45"/>
<circle cx="296.7" cy="234.7" r="1.45"/>
<circle cx="290.7" cy="235.1" r="1.45"/>
<circle cx="297.0" cy="233.9" r="1.45"/>
<circle cx="291.0" cy="236.2" r="1.45"/>
<circle cx="288.5" cy="233.7" r="1.45"/>
<circle cx="298.5" cy="234.2" r="1.45"/>
<circle cx="293.3" cy="237.2" r="1.45"/>
<circle cx="288.3" cy="233.0" r="1.45"/>
<circle cx="291.4" cy="236.0" r="1.45"/>
<circle cx="296.6" cy="234.2" r="1.45"/>
<circle cx="306.9" cy="221.6" r="1.45"/>
<circle cx="285.0" cy="232.6" r="1.45"/>
<circle cx="302.8" cy="226.0" r="1.45"/>
<circle cx="289.8" cy="236.3" r="1.45"/>
<circle cx="297.8" cy="234.3" r="1.45"/>
<circle cx="321.6" cy="219.7" r="1.45"/>
<circle cx="277.7" cy="221.2" r="1.45"/>
<circle cx="296.0" cy="236.1" r="1.45"/>
<circle cx="293.6" cy="237.2" r="1.45"/>
<circle cx="302.1" cy="234.5" r="1.45"/>
<circle cx="287.5" cy="233.4" r="1.45"/>
<circle cx="291.7" cy="236.3" r="1.45"/>
<circle cx="289.0" cy="234.1" r="1.45"/>
<circle cx="285.1" cy="231.8" r="1.45"/>
<circle cx="287.4" cy="234.8" r="1.45"/>
<circle cx="292.8" cy="237.3" r="1.45"/>
<circle cx="291.5" cy="236.2" r="1.45"/>
<circle cx="284.0" cy="228.5" r="1.45"/>
<circle cx="304.3" cy="227.1" r="1.45"/>
<circle cx="299.2" cy="233.0" r="1.45"/>
<circle cx="283.6" cy="228.9" r="1.45"/>
<circle cx="295.9" cy="235.9" r="1.45"/>
<circle cx="273.1" cy="226.7" r="1.45"/>
<circle cx="267.6" cy="204.1" r="1.45"/>
<circle cx="286.7" cy="231.2" r="1.45"/>
<circle cx="301.4" cy="228.7" r="1.45"/>
<circle cx="291.0" cy="235.8" r="1.45"/>
<circle cx="282.7" cy="229.7" r="1.45"/>
<circle cx="303.1" cy="230.6" r="1.45"/>
<circle cx="306.0" cy="228.4" r="1.45"/>
<circle cx="297.8" cy="233.5" r="1.45"/>
<circle cx="289.9" cy="236.1" r="1.45"/>
<circle cx="275.0" cy="216.7" r="1.45"/>
<circle cx="294.2" cy="236.8" r="1.45"/>
<circle cx="307.9" cy="221.0" r="1.45"/>
<circle cx="292.6" cy="237.0" r="1.45"/>
<circle cx="290.8" cy="235.1" r="1.45"/>
<circle cx="289.2" cy="233.7" r="1.45"/>
<circle cx="280.4" cy="223.9" r="1.45"/>
<circle cx="282.6" cy="227.7" r="1.45"/>
<circle cx="277.3" cy="226.5" r="1.45"/>
<circle cx="296.2" cy="233.9" r="1.45"/>
<circle cx="293.8" cy="237.0" r="1.45"/>
<circle cx="269.7" cy="213.9" r="1.45"/>
<circle cx="298.6" cy="231.1" r="1.45"/>
<circle cx="292.2" cy="237.0" r="1.45"/>
<circle cx="293.6" cy="236.7" r="1.45"/>
<circle cx="288.0" cy="233.7" r="1.45"/>
<circle cx="295.3" cy="235.8" r="1.45"/>
<circle cx="302.6" cy="233.4" r="1.45"/>
<circle cx="293.9" cy="236.4" r="1.45"/>
<circle cx="269.7" cy="210.9" r="1.45"/>
<circle cx="293.6" cy="236.7" r="1.45"/>
<circle cx="290.8" cy="236.9" r="1.45"/>
<circle cx="298.6" cy="235.9" r="1.45"/>
<circle cx="303.7" cy="225.9" r="1.45"/>
<circle cx="290.3" cy="236.4" r="1.45"/>
<circle cx="295.1" cy="235.8" r="1.45"/>
<circle cx="291.0" cy="236.1" r="1.45"/>
<circle cx="285.0" cy="231.3" r="1.45"/>
<circle cx="287.9" cy="232.3" r="1.45"/>
<circle cx="298.8" cy="231.0" r="1.45"/>
<circle cx="286.9" cy="231.0" r="1.45"/>
<circle cx="277.6" cy="222.3" r="1.45"/>
<circle cx="275.6" cy="217.7" r="1.45"/>
<circle cx="323.0" cy="207.8" r="1.45"/>
<circle cx="309.8" cy="216.1" r="1.45"/>
<circle cx="316.3" cy="211.8" r="1.45"/>
<circle cx="319.4" cy="196.5" r="1.45"/>
<circle cx="305.4" cy="224.1" r="1.45"/>
<circle cx="294.6" cy="235.8" r="1.45"/>
<circle cx="280.6" cy="231.0" r="1.45"/>
<circle cx="295.5" cy="234.8" r="1.45"/>
<circle cx="296.5" cy="234.3" r="1.45"/>
<circle cx="269.3" cy="215.3" r="1.45"/>
<circle cx="293.0" cy="237.4" r="1.45"/>
<circle cx="289.0" cy="233.2" r="1.45"/>
<circle cx="296.1" cy="234.6" r="1.45"/>
<circle cx="324.7" cy="208.3" r="1.45"/>
<circle cx="288.3" cy="232.6" r="1.45"/>
<circle cx="278.5" cy="223.6" r="1.45"/>
<circle cx="295.6" cy="236.4" r="1.45"/>
<circle cx="286.3" cy="231.7" r="1.45"/>
<circle cx="306.0" cy="222.6" r="1.45"/>
<circle cx="285.3" cy="229.3" r="1.45"/>
<circle cx="302.2" cy="227.3" r="1.45"/>
<circle cx="293.3" cy="237.3" r="1.45"/>
<circle cx="292.2" cy="237.1" r="1.45"/>
<circle cx="313.1" cy="228.7" r="1.45"/>
<circle cx="308.1" cy="219.6" r="1.45"/>
<circle cx="303.1" cy="228.3" r="1.45"/>
<circle cx="274.4" cy="224.6" r="1.45"/>
<circle cx="284.9" cy="231.4" r="1.45"/>
<circle cx="301.3" cy="234.4" r="1.45"/>
<circle cx="306.3" cy="228.9" r="1.45"/>
<circle cx="297.0" cy="234.6" r="1.45"/>
<circle cx="298.8" cy="231.9" r="1.45"/>
<circle cx="287.5" cy="231.5" r="1.45"/>
<circle cx="286.6" cy="232.3" r="1.45"/>
<circle cx="291.0" cy="235.9" r="1.45"/>
<circle cx="299.8" cy="233.4" r="1.45"/>
<circle cx="295.8" cy="234.4" r="1.45"/>
<circle cx="291.2" cy="235.6" r="1.45"/>
<circle cx="293.8" cy="237.1" r="1.45"/>
<circle cx="281.4" cy="225.2" r="1.45"/>
<circle cx="291.1" cy="235.4" r="1.45"/>
<circle cx="300.4" cy="229.1" r="1.45"/>
<circle cx="295.7" cy="235.3" r="1.45"/>
<circle cx="288.5" cy="232.9" r="1.45"/>
<circle cx="297.5" cy="233.7" r="1.45"/>
<circle cx="284.2" cy="231.3" r="1.45"/>
<circle cx="316.2" cy="213.5" r="1.45"/>
<circle cx="290.7" cy="235.4" r="1.45"/>
<circle cx="297.8" cy="233.2" r="1.45"/>
<circle cx="300.2" cy="235.1" r="1.45"/>
<circle cx="271.1" cy="216.0" r="1.45"/>
<circle cx="287.2" cy="231.3" r="1.45"/>
<circle cx="294.6" cy="235.9" r="1.45"/>
<circle cx="303.9" cy="226.4" r="1.45"/>
<circle cx="299.1" cy="233.9" r="1.45"/>
<circle cx="287.3" cy="234.4" r="1.45"/>
<circle cx="296.4" cy="236.3" r="1.45"/>
<circle cx="322.5" cy="209.4" r="1.45"/>
<circle cx="291.1" cy="235.5" r="1.45"/>
<circle cx="289.3" cy="234.8" r="1.45"/>
<circle cx="266.7" cy="214.3" r="1.45"/>
<circle cx="288.7" cy="235.4" r="1.45"/>
<circle cx="293.4" cy="237.0" r="1.45"/>
<circle cx="290.3" cy="236.6" r="1.45"/>
<circle cx="303.7" cy="230.2" r="1.45"/>
<circle cx="297.5" cy="234.6" r="1.45"/>
<circle cx="294.1" cy="237.0" r="1.45"/>
<circle cx="286.4" cy="230.3" r="1.45"/>
<circle cx="319.4" cy="194.8" r="1.45"/>
<circle cx="300.4" cy="229.2" r="1.45"/>
<circle cx="299.2" cy="231.8" r="1.45"/>
<circle cx="302.8" cy="227.1" r="1.45"/>
<circle cx="294.1" cy="237.1" r="1.45"/>
<circle cx="285.8" cy="232.3" r="1.45"/>
<circle cx="274.1" cy="217.6" r="1.45"/>
<circle cx="293.0" cy="237.4" r="1.45"/>
<circle cx="293.8" cy="236.6" r="1.45"/>
<circle cx="305.7" cy="227.7" r="1.45"/>
<circle cx="285.2" cy="231.2" r="1.45"/>
<circle cx="291.1" cy="236.1" r="1.45"/>
<circle cx="293.0" cy="237.4" r="1.45"/>
<circle cx="271.1" cy="212.6" r="1.45"/>
<circle cx="275.3" cy="219.1" r="1.45"/>
<circle cx="290.7" cy="235.2" r="1.45"/>
<circle cx="300.4" cy="233.2" r="1.45"/>
<circle cx="279.9" cy="223.3" r="1.45"/>
<circle cx="299.7" cy="232.9" r="1.45"/>
<circle cx="285.4" cy="231.1" r="1.45"/>
<circle cx="282.5" cy="234.7" r="1.45"/>
<circle cx="287.4" cy="235.8" r="1.45"/>
<circle cx="288.3" cy="234.0" r="1.45"/>
<circle cx="298.6" cy="235.5" r="1.45"/>
<circle cx="274.9" cy="220.6" r="1.45"/>
<circle cx="294.0" cy="236.9" r="1.45"/>
<circle cx="308.5" cy="226.3" r="1.45"/>
<circle cx="285.0" cy="229.0" r="1.45"/>
<circle cx="272.2" cy="221.3" r="1.45"/>
<circle cx="295.2" cy="235.6" r="1.45"/>
<circle cx="272.6" cy="225.8" r="1.45"/>
<circle cx="270.1" cy="225.7" r="1.45"/>
<circle cx="316.2" cy="228.4" r="1.45"/>
<circle cx="288.7" cy="232.9" r="1.45"/>
<circle cx="312.8" cy="226.0" r="1.45"/>
<circle cx="297.8" cy="236.0" r="1.45"/>
<circle cx="286.3" cy="233.6" r="1.45"/>
<circle cx="297.0" cy="233.9" r="1.45"/>
<circle cx="284.5" cy="233.6" r="1.45"/>
<circle cx="288.6" cy="236.0" r="1.45"/>
<circle cx="284.8" cy="229.4" r="1.45"/>
<circle cx="285.7" cy="235.7" r="1.45"/>
<circle cx="273.7" cy="223.6" r="1.45"/>
<circle cx="275.6" cy="220.2" r="1.45"/>
<circle cx="301.6" cy="229.3" r="1.45"/>
<circle cx="293.6" cy="236.8" r="1.45"/>
<circle cx="293.6" cy="237.1" r="1.45"/>
<circle cx="295.1" cy="236.6" r="1.45"/>
<circle cx="300.8" cy="229.9" r="1.45"/>
<circle cx="266.1" cy="221.7" r="1.45"/>
<circle cx="317.5" cy="197.7" r="1.45"/>
<circle cx="293.7" cy="236.6" r="1.45"/>
<circle cx="293.4" cy="237.2" r="1.45"/>
<circle cx="279.0" cy="229.9" r="1.45"/>
<circle cx="285.0" cy="231.5" r="1.45"/>
<circle cx="296.0" cy="235.4" r="1.45"/>
<circle cx="303.8" cy="224.5" r="1.45"/>
<circle cx="292.8" cy="237.3" r="1.45"/>
<circle cx="314.3" cy="224.7" r="1.45"/>
<circle cx="273.7" cy="214.1" r="1.45"/>
<circle cx="300.4" cy="229.5" r="1.45"/>
<circle cx="301.3" cy="231.4" r="1.45"/>
<circle cx="297.5" cy="235.7" r="1.45"/>
<circle cx="295.8" cy="234.3" r="1.45"/>
<circle cx="276.5" cy="223.9" r="1.45"/>
<circle cx="293.5" cy="236.9" r="1.45"/>
<circle cx="264.9" cy="206.0" r="1.45"/>
<circle cx="298.3" cy="235.8" r="1.45"/>
<circle cx="307.9" cy="220.4" r="1.45"/>
<circle cx="290.1" cy="235.1" r="1.45"/>
<circle cx="294.3" cy="236.6" r="1.45"/>
<circle cx="289.8" cy="235.5" r="1.45"/>
<circle cx="321.3" cy="226.3" r="1.45"/>
<circle cx="303.9" cy="226.2" r="1.45"/>
<circle cx="292.1" cy="237.2" r="1.45"/>
<circle cx="321.0" cy="202.9" r="1.45"/>
<circle cx="312.4" cy="213.3" r="1.45"/>
<circle cx="292.8" cy="237.3" r="1.45"/>
<circle cx="304.0" cy="234.7" r="1.45"/>
<circle cx="304.4" cy="228.1" r="1.45"/>
<circle cx="264.5" cy="228.1" r="1.45"/>
<circle cx="287.6" cy="232.8" r="1.45"/>
<circle cx="289.0" cy="236.2" r="1.45"/>
<circle cx="286.7" cy="232.8" r="1.45"/>
<circle cx="272.7" cy="212.1" r="1.45"/>
<circle cx="283.5" cy="235.2" r="1.45"/>
<circle cx="283.4" cy="232.4" r="1.45"/>
<circle cx="271.8" cy="211.7" r="1.45"/>
<circle cx="308.7" cy="231.3" r="1.45"/>
<circle cx="314.2" cy="213.3" r="1.45"/>
<circle cx="295.0" cy="235.8" r="1.45"/>
<circle cx="294.7" cy="235.7" r="1.45"/>
<circle cx="298.6" cy="232.5" r="1.45"/>
<circle cx="289.9" cy="235.1" r="1.45"/>
<circle cx="279.3" cy="221.9" r="1.45"/>
<circle cx="293.9" cy="236.4" r="1.45"/>
<circle cx="277.2" cy="233.7" r="1.45"/>
<circle cx="293.7" cy="236.9" r="1.45"/>
<circle cx="300.9" cy="235.3" r="1.45"/>
<circle cx="293.5" cy="236.9" r="1.45"/>
<circle cx="294.4" cy="235.8" r="1.45"/>
<circle cx="303.0" cy="230.1" r="1.45"/>
<circle cx="288.8" cy="233.6" r="1.45"/>
<circle cx="274.5" cy="229.6" r="1.45"/>
<circle cx="293.7" cy="237.2" r="1.45"/>
<circle cx="304.3" cy="224.3" r="1.45"/>
<circle cx="291.0" cy="236.1" r="1.45"/>
<circle cx="287.3" cy="232.0" r="1.45"/>
<circle cx="271.0" cy="228.9" r="1.45"/>
<circle cx="281.2" cy="228.2" r="1.45"/>
<circle cx="278.5" cy="222.2" r="1.45"/>
<circle cx="296.3" cy="233.7" r="1.45"/>
<circle cx="322.8" cy="223.7" r="1.45"/>
<circle cx="262.9" cy="215.7" r="1.45"/>
<circle cx="266.4" cy="226.6" r="1.45"/>
<circle cx="290.1" cy="235.3" r="1.45"/>
<circle cx="294.2" cy="237.1" r="1.45"/>
<circle cx="272.3" cy="214.5" r="1.45"/>
<circle cx="286.7" cy="232.3" r="1.45"/>
<circle cx="307.5" cy="219.2" r="1.45"/>
<circle cx="295.9" cy="235.4" r="1.45"/>
<circle cx="282.9" cy="229.1" r="1.45"/>
<circle cx="292.4" cy="236.7" r="1.45"/>
<circle cx="326.0" cy="223.4" r="1.45"/>
<circle cx="291.9" cy="236.4" r="1.45"/>
<circle cx="280.1" cy="232.9" r="1.45"/>
<circle cx="305.0" cy="224.8" r="1.45"/>
<circle cx="294.7" cy="236.8" r="1.45"/>
<circle cx="292.6" cy="237.1" r="1.45"/>
<circle cx="262.6" cy="203.4" r="1.45"/>
<circle cx="295.8" cy="236.6" r="1.45"/>
<circle cx="300.4" cy="229.1" r="1.45"/>
<circle cx="317.8" cy="204.8" r="1.45"/>
<circle cx="281.0" cy="227.5" r="1.45"/>
<circle cx="301.2" cy="231.1" r="1.45"/>
<circle cx="285.3" cy="232.9" r="1.45"/>
<circle cx="308.6" cy="221.7" r="1.45"/>
<circle cx="273.5" cy="224.9" r="1.45"/>
<circle cx="285.3" cy="234.9" r="1.45"/>
<circle cx="286.1" cy="230.9" r="1.45"/>
<circle cx="316.4" cy="225.1" r="1.45"/>
<circle cx="270.1" cy="214.2" r="1.45"/>
<circle cx="293.6" cy="237.0" r="1.45"/>
<circle cx="326.3" cy="208.9" r="1.45"/>
<circle cx="282.8" cy="226.9" r="1.45"/>
<circle cx="290.1" cy="236.7" r="1.45"/>
<circle cx="316.8" cy="229.2" r="1.45"/>
<circle cx="296.3" cy="233.8" r="1.45"/>
<circle cx="296.8" cy="235.5" r="1.45"/>
<circle cx="296.5" cy="233.6" r="1.45"/>
<circle cx="280.0" cy="233.1" r="1.45"/>
<circle cx="281.2" cy="233.7" r="1.45"/>
<circle cx="294.8" cy="235.4" r="1.45"/>
<circle cx="313.4" cy="212.8" r="1.45"/>
<circle cx="303.7" cy="227.0" r="1.45"/>
<circle cx="287.0" cy="234.8" r="1.45"/>
<circle cx="316.1" cy="207.1" r="1.45"/>
<circle cx="292.6" cy="237.2" r="1.45"/>
<circle cx="302.2" cy="230.0" r="1.45"/>
<circle cx="306.1" cy="226.9" r="1.45"/>
<circle cx="291.3" cy="235.8" r="1.45"/>
<circle cx="297.0" cy="234.5" r="1.45"/>
<circle cx="290.5" cy="235.1" r="1.45"/>
<circle cx="290.2" cy="236.6" r="1.45"/>
<circle cx="295.2" cy="235.7" r="1.45"/>
<circle cx="300.6" cy="233.5" r="1.45"/>
<circle cx="278.4" cy="224.1" r="1.45"/>
<circle cx="302.2" cy="227.4" r="1.45"/>
<circle cx="287.2" cy="232.4" r="1.45"/>
<circle cx="295.4" cy="235.3" r="1.45"/>
<circle cx="304.3" cy="233.7" r="1.45"/>
<circle cx="281.8" cy="225.4" r="1.45"/>
<circle cx="310.7" cy="219.2" r="1.45"/>
<circle cx="304.7" cy="227.0" r="1.45"/>
<circle cx="294.1" cy="236.4" r="1.45"/>
<circle cx="290.7" cy="236.2" r="1.45"/>
<circle cx="299.9" cy="232.8" r="1.45"/>
<circle cx="287.5" cy="232.0" r="1.45"/>
<circle cx="283.3" cy="230.6" r="1.45"/>
<circle cx="303.6" cy="225.2" r="1.45"/>
<circle cx="296.7" cy="233.6" r="1.45"/>
<circle cx="279.9" cy="231.0" r="1.45"/>
<circle cx="289.7" cy="235.5" r="1.45"/>
<circle cx="296.7" cy="234.9" r="1.45"/>
<circle cx="311.9" cy="211.7" r="1.45"/>
<circle cx="297.7" cy="233.1" r="1.45"/>
<circle cx="278.6" cy="222.6" r="1.45"/>
<circle cx="267.5" cy="217.4" r="1.45"/>
<circle cx="301.6" cy="230.9" r="1.45"/>
<circle cx="308.7" cy="217.5" r="1.45"/>
<circle cx="292.3" cy="236.7" r="1.45"/>
<circle cx="284.4" cy="228.6" r="1.45"/>
<circle cx="290.7" cy="236.8" r="1.45"/>
<circle cx="284.5" cy="230.4" r="1.45"/>
<circle cx="321.0" cy="217.8" r="1.45"/>
<circle cx="284.8" cy="229.1" r="1.45"/>
<circle cx="290.2" cy="234.8" r="1.45"/>
<circle cx="281.9" cy="232.6" r="1.45"/>
<circle cx="284.2" cy="233.7" r="1.45"/>
<circle cx="303.2" cy="229.1" r="1.45"/>
<circle cx="297.7" cy="233.2" r="1.45"/>
<circle cx="291.9" cy="237.1" r="1.45"/>
<circle cx="291.9" cy="237.0" r="1.45"/>
<circle cx="274.8" cy="230.5" r="1.45"/>
<circle cx="299.8" cy="231.3" r="1.45"/>
<circle cx="310.8" cy="218.2" r="1.45"/>
<circle cx="291.3" cy="236.8" r="1.45"/>
<circle cx="296.9" cy="233.2" r="1.45"/>
<circle cx="271.8" cy="218.6" r="1.45"/>
<circle cx="286.6" cy="232.4" r="1.45"/>
<circle cx="306.5" cy="227.0" r="1.45"/>
<circle cx="286.8" cy="231.3" r="1.45"/>
<circle cx="284.8" cy="234.6" r="1.45"/>
<circle cx="296.4" cy="235.8" r="1.45"/>
<circle cx="299.5" cy="233.3" r="1.45"/>
<circle cx="302.3" cy="230.9" r="1.45"/>
<circle cx="288.6" cy="234.2" r="1.45"/>
<circle cx="280.6" cy="232.1" r="1.45"/>
<circle cx="292.7" cy="237.1" r="1.45"/>
<circle cx="298.3" cy="232.5" r="1.45"/>
<circle cx="293.5" cy="236.9" r="1.45"/>
<circle cx="309.9" cy="224.2" r="1.45"/>
<circle cx="303.7" cy="232.9" r="1.45"/>
<circle cx="290.4" cy="235.5" r="1.45"/>
<circle cx="280.3" cy="227.2" r="1.45"/>
<circle cx="269.9" cy="207.7" r="1.45"/>
<circle cx="310.1" cy="223.2" r="1.45"/>
<circle cx="291.6" cy="236.8" r="1.45"/>
<circle cx="302.2" cy="231.5" r="1.45"/>
<circle cx="288.5" cy="232.9" r="1.45"/>
<circle cx="288.3" cy="234.6" r="1.45"/>
<circle cx="309.3" cy="217.7" r="1.45"/>
<circle cx="308.0" cy="222.3" r="1.45"/>
<circle cx="297.4" cy="232.6" r="1.45"/>
<circle cx="282.8" cy="232.0" r="1.45"/>
<circle cx="288.9" cy="233.1" r="1.45"/>
<circle cx="266.4" cy="219.6" r="1.45"/>
<circle cx="306.0" cy="223.8" r="1.45"/>
<circle cx="295.3" cy="236.7" r="1.45"/>
<circle cx="284.4" cy="228.8" r="1.45"/>
<circle cx="289.3" cy="234.7" r="1.45"/>
<circle cx="307.5" cy="220.1" r="1.45"/>
<circle cx="302.7" cy="229.3" r="1.45"/>
<circle cx="288.7" cy="234.2" r="1.45"/>
<circle cx="306.2" cy="221.7" r="1.45"/>
<circle cx="290.1" cy="235.1" r="1.45"/>
<circle cx="296.4" cy="235.1" r="1.45"/>
<circle cx="282.1" cy="232.6" r="1.45"/>
<circle cx="292.7" cy="237.1" r="1.45"/>
<circle cx="298.0" cy="233.2" r="1.45"/>
<circle cx="295.3" cy="235.0" r="1.45"/>
<circle cx="287.9" cy="235.6" r="1.45"/>
<circle cx="291.8" cy="236.3" r="1.45"/>
<circle cx="277.4" cy="219.6" r="1.45"/>
<circle cx="307.2" cy="226.6" r="1.45"/>
<circle cx="281.8" cy="231.3" r="1.45"/>
<circle cx="280.8" cy="226.4" r="1.45"/>
<circle cx="286.1" cy="230.9" r="1.45"/>
<circle cx="294.9" cy="236.6" r="1.45"/>
<circle cx="299.2" cy="231.9" r="1.45"/>
<circle cx="289.0" cy="233.2" r="1.45"/>
<circle cx="289.5" cy="234.6" r="1.45"/>
<circle cx="294.0" cy="236.5" r="1.45"/>
<circle cx="278.3" cy="232.7" r="1.45"/>
<circle cx="290.6" cy="236.5" r="1.45"/>
<circle cx="291.5" cy="236.4" r="1.45"/>
<circle cx="295.0" cy="235.6" r="1.45"/>
<circle cx="291.1" cy="236.5" r="1.45"/>
<circle cx="301.2" cy="232.6" r="1.45"/>
<circle cx="271.5" cy="212.5" r="1.45"/>
<circle cx="285.9" cy="234.9" r="1.45"/>
<circle cx="303.7" cy="233.1" r="1.45"/>
<circle cx="299.8" cy="235.5" r="1.45"/>
<circle cx="291.5" cy="235.8" r="1.45"/>
<circle cx="288.8" cy="233.6" r="1.45"/>
<circle cx="293.0" cy="237.4" r="1.45"/>
<circle cx="294.3" cy="236.4" r="1.45"/>
<circle cx="279.8" cy="226.5" r="1.45"/>
<circle cx="284.6" cy="231.7" r="1.45"/>
<circle cx="289.5" cy="233.7" r="1.45"/>
<circle cx="284.9" cy="230.8" r="1.45"/>
<circle cx="286.7" cy="232.0" r="1.45"/>
<circle cx="285.1" cy="231.8" r="1.45"/>
<circle cx="315.9" cy="209.9" r="1.45"/>
<circle cx="279.5" cy="224.7" r="1.45"/>
<circle cx="299.2" cy="234.8" r="1.45"/>
<circle cx="301.4" cy="230.6" r="1.45"/>
<circle cx="305.2" cy="223.0" r="1.45"/>
<circle cx="284.1" cy="234.2" r="1.45"/>
<circle cx="290.4" cy="236.7" r="1.45"/>
<circle cx="305.7" cy="222.3" r="1.45"/>
<circle cx="285.4" cy="230.4" r="1.45"/>
<circle cx="300.3" cy="229.0" r="1.45"/>
<circle cx="276.5" cy="221.3" r="1.45"/>
<circle cx="294.4" cy="236.0" r="1.45"/>
<circle cx="304.7" cy="230.4" r="1.45"/>
<circle cx="294.4" cy="236.5" r="1.45"/>
<circle cx="304.5" cy="233.7" r="1.45"/>
<circle cx="314.4" cy="215.0" r="1.45"/>
<circle cx="275.6" cy="230.4" r="1.45"/>
<circle cx="290.8" cy="235.0" r="1.45"/>
<circle cx="268.9" cy="207.8" r="1.45"/>
<circle cx="294.0" cy="236.5" r="1.45"/>
<circle cx="301.1" cy="230.8" r="1.45"/>
<circle cx="285.6" cy="230.7" r="1.45"/>
<circle cx="297.9" cy="233.5" r="1.45"/>
<circle cx="307.9" cy="221.2" r="1.45"/>
<circle cx="290.0" cy="235.8" r="1.45"/>
<circle cx="174.6" cy="42.6" r="1.45"/>
<circle cx="215.8" cy="42.6" r="1.45"/>
<circle cx="355.3" cy="42.7" r="1.45"/>
<circle cx="374.4" cy="42.7" r="1.45"/>
<circle cx="351.2" cy="67.0" r="1.45"/>
<circle cx="231.7" cy="128.8" r="1.45"/>
<circle cx="240.1" cy="140.1" r="1.45"/>
<circle cx="345.5" cy="106.5" r="1.45"/>
<circle cx="346.2" cy="108.3" r="1.45"/>
<circle cx="340.3" cy="120.0" r="1.45"/>
<circle cx="343.2" cy="121.2" r="1.45"/>
<circle cx="338.0" cy="134.2" r="1.45"/>
<circle cx="337.0" cy="142.0" r="1.45"/>
<circle cx="335.0" cy="147.0" r="1.45"/>
<circle cx="333.5" cy="149.4" r="1.45"/>
<circle cx="343.5" cy="143.4" r="1.45"/>
<circle cx="347.5" cy="148.6" r="1.45"/>
<circle cx="342.6" cy="158.0" r="1.45"/>
<circle cx="330.2" cy="160.4" r="1.45"/>
<circle cx="329.6" cy="167.0" r="1.45"/>
<circle cx="326.6" cy="172.0" r="1.45"/>
<circle cx="326.0" cy="176.0" r="1.45"/>
<circle cx="346.4" cy="172.4" r="1.45"/>
<circle cx="352.5" cy="183.2" r="1.45"/>
<circle cx="337.0" cy="188.8" r="1.45"/>
<circle cx="333.0" cy="181.7" r="1.45"/>
<circle cx="328.8" cy="188.0" r="1.45"/>
<circle cx="327.7" cy="192.9" r="1.45"/>
<circle cx="328.3" cy="203.2" r="1.45"/>
<circle cx="335.2" cy="206.5" r="1.45"/>
<circle cx="333.7" cy="210.0" r="1.45"/>
<circle cx="331.0" cy="213.0" r="1.45"/>
<circle cx="324.0" cy="185.0" r="1.45"/>
<circle cx="323.0" cy="189.0" r="1.45"/>
<circle cx="325.0" cy="181.0" r="1.45"/>
<circle cx="252.6" cy="168.3" r="1.45"/>
<circle cx="255.0" cy="171.0" r="1.45"/>
<circle cx="256.5" cy="181.0" r="1.45"/>
<circle cx="258.0" cy="184.0" r="1.45"/>
<circle cx="247.0" cy="194.0" r="1.45"/>
<circle cx="250.5" cy="192.5" r="1.45"/>
<circle cx="262.5" cy="193.0" r="1.45"/>
<circle cx="263.5" cy="197.0" r="1.45"/>
<circle cx="252.0" cy="199.5" r="1.45"/>
<circle cx="256.0" cy="198.0" r="1.45"/>
<circle cx="257.0" cy="205.0" r="1.45"/>
<circle cx="259.5" cy="209.0" r="1.45"/>
<circle cx="258.0" cy="214.0" r="1.45"/>
<circle cx="262.0" cy="207.0" r="1.45"/>
</g>
<circle cx="310.3" cy="226.3" r="1.5" fill="#33cc33"/>
<circle cx="268.5" cy="212.6" r="1.5" fill="#33cc33"/>
<circle cx="315.6" cy="223.8" r="1.5" fill="#33cc33"/>
<circle cx="308.3" cy="228.0" r="1.5" fill="#33cc33"/>
<circle cx="302.5" cy="233.4" r="1.5" fill="#33cc33"/>
<circle cx="299.0" cy="234.8" r="1.5" fill="#33cc33"/>
<circle cx="311.5" cy="222.5" r="1.5" fill="#33cc33"/>
<circle cx="274.1" cy="224.1" r="1.5" fill="#33cc33"/>
<circle cx="302.9" cy="232.5" r="1.5" fill="#33cc33"/>
<circle cx="306.2" cy="227.4" r="1.5" fill="#33cc33"/>
<circle cx="304.1" cy="229.0" r="1.5" fill="#33cc33"/>
<circle cx="314.7" cy="222.5" r="1.5" fill="#33cc33"/>
<circle cx="314.5" cy="213.9" r="1.5" fill="#33cc33"/>
<circle cx="318.5" cy="203.6" r="1.5" fill="#33cc33"/>
<circle cx="306.0" cy="229.8" r="1.5" fill="#33cc33"/>
<circle cx="300.8" cy="233.5" r="1.5" fill="#33cc33"/>
<circle cx="271.9" cy="222.8" r="1.5" fill="#33cc33"/>
<circle cx="316.1" cy="215.6" r="1.5" fill="#33cc33"/>
<circle cx="305.1" cy="231.9" r="1.5" fill="#33cc33"/>
<circle cx="266.5" cy="217.8" r="1.5" fill="#33cc33"/>
<circle cx="263.8" cy="213.2" r="1.5" fill="#33cc33"/>
<circle cx="308.1" cy="222.3" r="1.5" fill="#33cc33"/>
<circle cx="276.2" cy="224.7" r="1.5" fill="#33cc33"/>
<circle cx="265.4" cy="215.9" r="1.5" fill="#33cc33"/>
<circle cx="299.7" cy="234.4" r="1.5" fill="#33cc33"/>
<circle cx="268.5" cy="209.5" r="1.5" fill="#33cc33"/>
<circle cx="309.9" cy="228.9" r="1.5" fill="#33cc33"/>
<circle cx="309.3" cy="222.7" r="1.5" fill="#33cc33"/>
<circle cx="310.7" cy="227.6" r="1.5" fill="#33cc33"/>
<circle cx="285.7" cy="233.1" r="1.5" fill="#33cc33"/>
<circle cx="319.4" cy="220.7" r="1.5" fill="#33cc33"/>
<circle cx="300.6" cy="233.9" r="1.5" fill="#33cc33"/>
<circle cx="302.8" cy="230.3" r="1.5" fill="#33cc33"/>
<circle cx="306.9" cy="228.6" r="1.5" fill="#33cc33"/>
<circle cx="270.8" cy="221.5" r="1.5" fill="#33cc33"/>
<circle cx="316.4" cy="222.9" r="1.5" fill="#33cc33"/>
<circle cx="305.8" cy="225.2" r="1.5" fill="#33cc33"/>
<circle cx="302.3" cy="231.3" r="1.5" fill="#33cc33"/>
<circle cx="275.2" cy="229.3" r="1.5" fill="#33cc33"/>
<circle cx="275.3" cy="225.0" r="1.5" fill="#33cc33"/>
<circle cx="311.0" cy="225.7" r="1.5" fill="#33cc33"/>
<circle cx="299.1" cy="232.2" r="1.5" fill="#33cc33"/>
<circle cx="301.8" cy="232.4" r="1.5" fill="#33cc33"/>
<circle cx="300.0" cy="231.1" r="1.5" fill="#33cc33"/>
<circle cx="307.1" cy="230.6" r="1.5" fill="#33cc33"/>
<circle cx="319.6" cy="217.8" r="1.5" fill="#33cc33"/>
<circle cx="274.4" cy="223.2" r="1.5" fill="#33cc33"/>
<circle cx="282.4" cy="230.2" r="1.5" fill="#33cc33"/>
<circle cx="298.5" cy="233.1" r="1.5" fill="#33cc33"/>
<circle cx="316.1" cy="210.2" r="1.5" fill="#33cc33"/>
<circle cx="304.9" cy="228.4" r="1.5" fill="#33cc33"/>
<circle cx="312.0" cy="221.6" r="1.5" fill="#33cc33"/>
<circle cx="289.0" cy="234.9" r="1.5" fill="#ff00ff"/>
<circle cx="281.0" cy="229.5" r="1.5" fill="#ff00ff"/>
<circle cx="313.8" cy="218.1" r="1.5" fill="#ff00ff"/>
<circle cx="305.2" cy="229.1" r="1.5" fill="#ff00ff"/>
<circle cx="286.4" cy="232.4" r="1.5" fill="#ff00ff"/>
<circle cx="288.9" cy="234.9" r="1.5" fill="#ff00ff"/>
<circle cx="283.5" cy="230.6" r="1.5" fill="#ff00ff"/>
<circle cx="311.9" cy="217.2" r="1.5" fill="#ff00ff"/>
<circle cx="299.0" cy="231.2" r="1.5" fill="#ff00ff"/>
<circle cx="299.0" cy="231.2" r="1.5" fill="#ff00ff"/>
<circle cx="290.4" cy="235.3" r="1.5" fill="#ff00ff"/>
<circle cx="277.3" cy="225.3" r="1.5" fill="#ff00ff"/>
<circle cx="274.8" cy="219.6" r="1.5" fill="#ff00ff"/>
<circle cx="307.7" cy="221.4" r="1.5" fill="#ff00ff"/>
<circle cx="306.8" cy="220.7" r="1.5" fill="#ff00ff"/>
<circle cx="278.9" cy="224.4" r="1.5" fill="#ff00ff"/>
<circle cx="271.0" cy="216.8" r="1.5" fill="#ff00ff"/>
<circle cx="283.0" cy="229.9" r="1.5" fill="#ff00ff"/>
<circle cx="305.5" cy="228.9" r="1.5" fill="#ff00ff"/>
<circle cx="280.0" cy="226.6" r="1.5" fill="#ff00ff"/>
<circle cx="301.5" cy="231.4" r="1.5" fill="#ff00ff"/>
<circle cx="314.2" cy="218.2" r="1.5" fill="#ff00ff"/>
<circle cx="280.1" cy="225.4" r="1.5" fill="#ff00ff"/>
<circle cx="282.9" cy="226.4" r="1.5" fill="#ff00ff"/>
<circle cx="300.8" cy="229.1" r="1.5" fill="#ff00ff"/>
<circle cx="309.8" cy="215.9" r="1.5" fill="#ff00ff"/>
<circle cx="289.6" cy="235.0" r="1.5" fill="#ff00ff"/>
<circle cx="312.9" cy="218.6" r="1.5" fill="#ff00ff"/>
<circle cx="272.5" cy="214.4" r="1.5" fill="#ff00ff"/>
<circle cx="272.4" cy="211.7" r="1.5" fill="#ff00ff"/>
<circle cx="270.3" cy="215.7" r="1.5" fill="#ff00ff"/>
<circle cx="276.4" cy="224.0" r="1.5" fill="#ff00ff"/>
<circle cx="272.1" cy="212.5" r="1.5" fill="#ff00ff"/>
<circle cx="294.1" cy="236.3" r="1.5" fill="#ff00ff"/>
<circle cx="313.8" cy="210.1" r="1.5" fill="#ff00ff"/>
<circle cx="291.7" cy="236.5" r="1.5" fill="#ff00ff"/>
<circle cx="281.2" cy="228.3" r="1.5" fill="#ff00ff"/>
<circle cx="291.9" cy="236.4" r="1.5" fill="#ff00ff"/>
<circle cx="294.6" cy="235.9" r="1.5" fill="#ff00ff"/>
<circle cx="299.1" cy="231.7" r="1.5" fill="#ff00ff"/>
<circle cx="293.2" cy="237.2" r="1.5" fill="#ff00ff"/>
<circle cx="308.0" cy="224.0" r="1.5" fill="#ff00ff"/>
<circle cx="271.0" cy="220.1" r="1.5" fill="#ff00ff"/>
<circle cx="279.4" cy="222.2" r="1.5" fill="#ff00ff"/>
<circle cx="290.1" cy="235.0" r="1.5" fill="#ff00ff"/>
<circle cx="303.7" cy="226.5" r="1.5" fill="#ff00ff"/>
<circle cx="289.8" cy="234.6" r="1.5" fill="#ff00ff"/>
<circle cx="294.1" cy="236.6" r="1.5" fill="#ff00ff"/>
<circle cx="285.1" cy="231.4" r="1.5" fill="#ff00ff"/>
<circle cx="292.1" cy="236.6" r="1.5" fill="#ff00ff"/>
<circle cx="305.4" cy="222.7" r="1.5" fill="#ff00ff"/>
<circle cx="280.1" cy="226.9" r="1.5" fill="#ff00ff"/>
<circle cx="304.6" cy="225.8" r="1.5" fill="#ff00ff"/>
<circle cx="313.7" cy="218.4" r="1.5" fill="#ff00ff"/>
<circle cx="291.9" cy="236.4" r="1.5" fill="#ff00ff"/>
<circle cx="293.0" cy="236.9" r="1.7" fill="#ff00ff"/>
<line x1="170.60" y1="237.60" x2="415.40" y2="237.60" stroke="#555555" stroke-width="0.9"/>
<line x1="171.00" y1="237.40" x2="171.00" y2="241.30" stroke="#555555" stroke-width="0.9"/>
<text x="172.95" y="250.69" font-size="7.8" text-anchor="middle">2</text>
<line x1="167.70" y1="248.40" x2="170.40" y2="248.40" stroke="#1a1a1a" stroke-width="0.75"/>
<line x1="232.00" y1="237.40" x2="232.00" y2="241.30" stroke="#555555" stroke-width="0.9"/>
<text x="233.95" y="250.69" font-size="7.8" text-anchor="middle">1</text>
<line x1="228.70" y1="248.40" x2="231.40" y2="248.40" stroke="#1a1a1a" stroke-width="0.75"/>
<line x1="293.00" y1="237.40" x2="293.00" y2="241.30" stroke="#555555" stroke-width="0.9"/>
<text x="293.00" y="250.69" font-size="7.8" text-anchor="middle">0</text>
<line x1="354.00" y1="237.40" x2="354.00" y2="241.30" stroke="#555555" stroke-width="0.9"/>
<text x="354.00" y="250.69" font-size="7.8" text-anchor="middle">1</text>
<line x1="415.00" y1="237.40" x2="415.00" y2="241.30" stroke="#555555" stroke-width="0.9"/>
<text x="415.00" y="250.69" font-size="7.8" text-anchor="middle">2</text>
<circle cx="348.6" cy="79.5" r="1.5" fill="#ff00ff"/>
<text x="346.60" y="77.58" font-size="6.65" text-anchor="end" fill="#ff00ff">CPT2</text>
<circle cx="347.3" cy="86.0" r="1.5" fill="#33cc33"/>
<text x="350.30" y="88.98" font-size="6.65" fill="#33cc33">PRKAG1</text>
<circle cx="341.7" cy="112.5" r="1.5" fill="#33cc33"/>
<text x="340.00" y="110.38" font-size="6.65" text-anchor="end" fill="#33cc33">NEU3</text>
<circle cx="343.0" cy="123.3" r="1.5" fill="#33cc33"/>
<text x="345.60" y="120.88" font-size="6.65" fill="#33cc33">PRKAA2</text>
<circle cx="342.2" cy="124.0" r="1.5" fill="#33cc33"/>
<text x="338.50" y="124.98" font-size="6.65" text-anchor="end" font-style="italic" fill="#33cc33">LPIN1</text>
<circle cx="338.7" cy="130.2" r="1.5" fill="#33cc33"/>
<text x="341.70" y="134.08" font-size="6.65" fill="#33cc33">PRKAB2</text>
<circle cx="332.2" cy="145.2" r="1.5" fill="#33cc33"/>
<text x="333.70" y="142.18" font-size="6.65" text-anchor="end" fill="#33cc33">PRKAB1</text>
<circle cx="343.6" cy="147.6" r="1.5" fill="#33cc33"/>
<text x="345.60" y="145.88" font-size="6.65" fill="#33cc33">PTPMT1</text>
<circle cx="328.3" cy="162.7" r="1.5" fill="#ff00ff"/>
<text x="325.50" y="160.98" font-size="6.65" text-anchor="end" fill="#ff00ff">SOAT1</text>
<circle cx="333.7" cy="173.5" r="1.5" fill="#ff00ff"/>
<text x="333.70" y="171.18" font-size="6.65" font-style="italic" fill="#ff00ff">SCP2</text>
<circle cx="353.8" cy="179.1" r="1.5" fill="#33cc33"/>
<text x="357.20" y="179.98" font-size="6.65" font-style="italic" fill="#33cc33">LPIN2</text>
<circle cx="321.0" cy="191.4" r="1.5" fill="#ff00ff"/>
<text x="321.20" y="188.78" font-size="6.65" text-anchor="end" font-style="italic" fill="#ff00ff">PDZD8</text>
<circle cx="319.5" cy="196.8" r="1.5" fill="#33cc33"/>
<text x="315.80" y="198.28" font-size="6.65" text-anchor="end" fill="#33cc33">LIPA</text>
<circle cx="321.9" cy="203.4" r="1.5" fill="#ff00ff"/>
<text x="330.30" y="202.98" font-size="6.65" font-style="italic" fill="#ff00ff">PITPNM1</text>
<circle cx="242.1" cy="107.0" r="1.5" fill="#33cc33"/>
<text x="242.90" y="103.18" font-size="6.65" text-anchor="end" fill="#33cc33">ADIPOR1</text>
<circle cx="244.4" cy="142.7" r="1.5" fill="#ff00ff"/>
<text x="246.60" y="139.08" font-size="6.65" fill="#ff00ff">PLIN2</text>
<circle cx="257.4" cy="177.6" r="1.5" fill="#33cc33"/>
<text x="263.00" y="175.28" font-size="6.65" text-anchor="end" fill="#33cc33">PRKD3</text>
<circle cx="261.2" cy="188.6" r="1.5" fill="#33cc33"/>
<text x="253.70" y="188.78" font-size="6.65" text-anchor="end" font-style="italic" fill="#33cc33">DGKD</text>
<circle cx="259.3" cy="200.9" r="1.5" fill="#33cc33"/>
<text x="250.00" y="200.68" font-size="6.65" text-anchor="end" fill="#33cc33">PRKD1</text>
<circle cx="266.0" cy="201.1" r="1.5" fill="#ff00ff"/>
<circle cx="268.1" cy="202.8" r="1.5" fill="#ff00ff"/>
<text x="260.20" y="209.28" font-size="6.65" text-anchor="end" fill="#ff00ff">STARD3</text>
<text transform="translate(272.3,75.0) rotate(-90)" font-size="8.9" text-anchor="middle">–log<tspan font-size="6.2" dy="1.6">10</tspan><tspan dy="-1.6">(</tspan><tspan font-style="italic">P</tspan> value)</text>
<text x="293.00" y="266.39" font-size="8.9" text-anchor="middle" textLength="79.4" lengthAdjust="spacingAndGlyphs">Relative enrichment</text>
<text x="293.0" y="280.2" font-size="8.9" text-anchor="middle" textLength="155.3" lengthAdjust="spacingAndGlyphs">log<tspan font-size="6.2" dy="1.6">2</tspan><tspan dy="-1.6">(PM-superPLD + PM-TurboID versus</tspan></text>
<text x="293.00" y="289.79" font-size="8.9" text-anchor="middle" textLength="109.7" lengthAdjust="spacingAndGlyphs">PM-deadPLD + PM-TurboID)</text>
<circle cx="187.1" cy="16.8" r="1.4" fill="#ff00ff"/>
<text x="193.30" y="19.79" font-size="8.9" textLength="58.8" lengthAdjust="spacingAndGlyphs">Lipid transport</text>
<circle cx="187.1" cy="30.0" r="1.4" fill="#33cc33"/>
<text x="193.30" y="33.39" font-size="8.9" textLength="68.6" lengthAdjust="spacingAndGlyphs">Lipid metabolism</text>
<text x="170.50" y="9.10" font-size="13" font-weight="bold" fill="#000">b</text>
<line x1="439.20" y1="222.50" x2="683.70" y2="222.50" stroke="#c0c0c0" stroke-width="0.8" stroke-dasharray="3 2.4"/>
<line x1="561.20" y1="33.10" x2="561.20" y2="237.40" stroke="#9c9c9c" stroke-width="1"/>
<line x1="557.40" y1="214.50" x2="561.20" y2="214.50" stroke="#737373" stroke-width="0.9"/>
<text x="554.40" y="217.39" font-size="7.8" text-anchor="end">2</text>
<line x1="557.40" y1="191.60" x2="561.20" y2="191.60" stroke="#737373" stroke-width="0.9"/>
<text x="554.40" y="194.49" font-size="7.8" text-anchor="end">4</text>
<line x1="557.40" y1="168.70" x2="561.20" y2="168.70" stroke="#737373" stroke-width="0.9"/>
<text x="554.40" y="171.59" font-size="7.8" text-anchor="end">6</text>
<line x1="557.40" y1="145.80" x2="561.20" y2="145.80" stroke="#737373" stroke-width="0.9"/>
<text x="554.40" y="148.69" font-size="7.8" text-anchor="end">8</text>
<line x1="557.40" y1="122.90" x2="561.20" y2="122.90" stroke="#737373" stroke-width="0.9"/>
<text x="554.40" y="125.79" font-size="7.8" text-anchor="end">10</text>
<line x1="557.40" y1="100.00" x2="561.20" y2="100.00" stroke="#737373" stroke-width="0.9"/>
<text x="554.40" y="102.89" font-size="7.8" text-anchor="end">12</text>
<line x1="557.40" y1="77.10" x2="561.20" y2="77.10" stroke="#737373" stroke-width="0.9"/>
<text x="554.40" y="79.99" font-size="7.8" text-anchor="end">14</text>
<line x1="557.40" y1="54.20" x2="561.20" y2="54.20" stroke="#737373" stroke-width="0.9"/>
<text x="554.40" y="57.09" font-size="7.8" text-anchor="end">16</text>
<g fill="#808080" fill-opacity="0.55">
<circle cx="562.6" cy="236.3" r="1.45"/>
<circle cx="553.9" cy="235.2" r="1.45"/>
<circle cx="566.7" cy="231.5" r="1.45"/>
<circle cx="560.5" cy="236.7" r="1.45"/>
<circle cx="571.9" cy="222.4" r="1.45"/>
<circle cx="544.0" cy="223.4" r="1.45"/>
<circle cx="565.0" cy="234.4" r="1.45"/>
<circle cx="570.1" cy="228.6" r="1.45"/>
<circle cx="558.8" cy="235.1" r="1.45"/>
<circle cx="559.7" cy="237.0" r="1.45"/>
<circle cx="550.9" cy="226.9" r="1.45"/>
<circle cx="556.8" cy="233.3" r="1.45"/>
<circle cx="564.2" cy="234.0" r="1.45"/>
<circle cx="578.8" cy="218.1" r="1.45"/>
<circle cx="570.2" cy="228.4" r="1.45"/>
<circle cx="554.7" cy="231.2" r="1.45"/>
<circle cx="565.4" cy="234.3" r="1.45"/>
<circle cx="558.6" cy="235.7" r="1.45"/>
<circle cx="563.1" cy="235.3" r="1.45"/>
<circle cx="554.6" cy="230.6" r="1.45"/>
<circle cx="556.1" cy="232.6" r="1.45"/>
<circle cx="566.5" cy="231.2" r="1.45"/>
<circle cx="563.9" cy="235.4" r="1.45"/>
<circle cx="569.3" cy="227.9" r="1.45"/>
<circle cx="549.2" cy="228.3" r="1.45"/>
<circle cx="564.0" cy="235.0" r="1.45"/>
<circle cx="551.2" cy="233.0" r="1.45"/>
<circle cx="567.5" cy="230.7" r="1.45"/>
<circle cx="555.5" cy="232.6" r="1.45"/>
<circle cx="547.4" cy="228.2" r="1.45"/>
<circle cx="560.2" cy="236.7" r="1.45"/>
<circle cx="568.9" cy="230.9" r="1.45"/>
<circle cx="568.1" cy="231.0" r="1.45"/>
<circle cx="570.5" cy="231.5" r="1.45"/>
<circle cx="556.9" cy="233.0" r="1.45"/>
<circle cx="540.8" cy="219.3" r="1.45"/>
<circle cx="557.3" cy="235.7" r="1.45"/>
<circle cx="538.1" cy="227.4" r="1.45"/>
<circle cx="559.6" cy="236.4" r="1.45"/>
<circle cx="564.2" cy="234.0" r="1.45"/>
<circle cx="561.6" cy="236.8" r="1.45"/>
<circle cx="539.3" cy="212.2" r="1.45"/>
<circle cx="547.5" cy="233.1" r="1.45"/>
<circle cx="571.8" cy="222.5" r="1.45"/>
<circle cx="563.2" cy="235.5" r="1.45"/>
<circle cx="545.3" cy="222.5" r="1.45"/>
<circle cx="575.9" cy="219.5" r="1.45"/>
<circle cx="570.1" cy="233.6" r="1.45"/>
<circle cx="537.8" cy="218.1" r="1.45"/>
<circle cx="549.5" cy="225.4" r="1.45"/>
<circle cx="555.8" cy="232.5" r="1.45"/>
<circle cx="564.9" cy="235.2" r="1.45"/>
<circle cx="555.4" cy="231.3" r="1.45"/>
<circle cx="561.6" cy="237.0" r="1.45"/>
<circle cx="568.8" cy="231.9" r="1.45"/>
<circle cx="556.6" cy="233.0" r="1.45"/>
<circle cx="566.5" cy="234.1" r="1.45"/>
<circle cx="567.1" cy="230.5" r="1.45"/>
<circle cx="570.9" cy="228.0" r="1.45"/>
<circle cx="566.8" cy="230.7" r="1.45"/>
<circle cx="555.4" cy="235.9" r="1.45"/>
<circle cx="573.5" cy="229.9" r="1.45"/>
<circle cx="550.1" cy="228.8" r="1.45"/>
<circle cx="569.0" cy="234.7" r="1.45"/>
<circle cx="559.3" cy="236.4" r="1.45"/>
<circle cx="575.0" cy="224.5" r="1.45"/>
<circle cx="556.1" cy="231.7" r="1.45"/>
<circle cx="551.7" cy="228.4" r="1.45"/>
<circle cx="542.4" cy="215.3" r="1.45"/>
<circle cx="547.1" cy="221.3" r="1.45"/>
<circle cx="540.0" cy="229.4" r="1.45"/>
<circle cx="573.9" cy="220.3" r="1.45"/>
<circle cx="568.3" cy="231.0" r="1.45"/>
<circle cx="571.6" cy="224.2" r="1.45"/>
<circle cx="561.9" cy="236.7" r="1.45"/>
<circle cx="558.2" cy="235.0" r="1.45"/>
<circle cx="541.2" cy="216.8" r="1.45"/>
<circle cx="571.3" cy="225.4" r="1.45"/>
<circle cx="550.6" cy="226.3" r="1.45"/>
<circle cx="538.1" cy="221.2" r="1.45"/>
<circle cx="570.6" cy="225.7" r="1.45"/>
<circle cx="541.5" cy="213.0" r="1.45"/>
<circle cx="566.8" cy="231.0" r="1.45"/>
<circle cx="568.9" cy="227.5" r="1.45"/>
<circle cx="579.4" cy="215.5" r="1.45"/>
<circle cx="573.8" cy="220.4" r="1.45"/>
<circle cx="562.6" cy="236.5" r="1.45"/>
<circle cx="552.8" cy="228.1" r="1.45"/>
<circle cx="555.6" cy="231.7" r="1.45"/>
<circle cx="559.1" cy="236.5" r="1.45"/>
<circle cx="550.4" cy="225.7" r="1.45"/>
<circle cx="551.3" cy="228.3" r="1.45"/>
<circle cx="560.5" cy="236.9" r="1.45"/>
<circle cx="545.0" cy="221.1" r="1.45"/>
<circle cx="560.0" cy="236.6" r="1.45"/>
<circle cx="566.4" cy="233.9" r="1.45"/>
<circle cx="563.1" cy="234.9" r="1.45"/>
<circle cx="576.2" cy="231.0" r="1.45"/>
<circle cx="575.9" cy="216.0" r="1.45"/>
<circle cx="571.2" cy="223.5" r="1.45"/>
<circle cx="556.9" cy="234.4" r="1.45"/>
<circle cx="571.3" cy="227.5" r="1.45"/>
<circle cx="566.3" cy="231.6" r="1.45"/>
<circle cx="559.2" cy="236.3" r="1.45"/>
<circle cx="560.2" cy="236.8" r="1.45"/>
<circle cx="576.3" cy="217.4" r="1.45"/>
<circle cx="559.7" cy="236.8" r="1.45"/>
<circle cx="566.7" cy="230.8" r="1.45"/>
<circle cx="560.0" cy="236.4" r="1.45"/>
<circle cx="562.8" cy="236.4" r="1.45"/>
<circle cx="574.3" cy="225.1" r="1.45"/>
<circle cx="580.1" cy="220.2" r="1.45"/>
<circle cx="542.3" cy="231.4" r="1.45"/>
<circle cx="559.7" cy="235.9" r="1.45"/>
<circle cx="559.9" cy="236.7" r="1.45"/>
<circle cx="574.9" cy="221.4" r="1.45"/>
<circle cx="580.2" cy="212.0" r="1.45"/>
<circle cx="552.7" cy="229.7" r="1.45"/>
<circle cx="574.3" cy="220.3" r="1.45"/>
<circle cx="561.6" cy="236.9" r="1.45"/>
<circle cx="580.0" cy="224.3" r="1.45"/>
<circle cx="571.9" cy="233.9" r="1.45"/>
<circle cx="569.8" cy="225.8" r="1.45"/>
<circle cx="575.4" cy="221.0" r="1.45"/>
<circle cx="552.3" cy="230.5" r="1.45"/>
<circle cx="542.4" cy="228.7" r="1.45"/>
<circle cx="561.2" cy="237.4" r="1.45"/>
<circle cx="563.2" cy="234.8" r="1.45"/>
<circle cx="564.7" cy="236.1" r="1.45"/>
<circle cx="558.6" cy="234.9" r="1.45"/>
<circle cx="551.8" cy="229.2" r="1.45"/>
<circle cx="555.6" cy="232.4" r="1.45"/>
<circle cx="553.2" cy="235.0" r="1.45"/>
<circle cx="564.3" cy="233.3" r="1.45"/>
<circle cx="560.0" cy="237.0" r="1.45"/>
<circle cx="559.4" cy="235.6" r="1.45"/>
<circle cx="568.0" cy="229.5" r="1.45"/>
<circle cx="560.6" cy="237.3" r="1.45"/>
<circle cx="571.0" cy="226.4" r="1.45"/>
<circle cx="550.7" cy="227.9" r="1.45"/>
<circle cx="569.1" cy="228.0" r="1.45"/>
<circle cx="578.3" cy="229.7" r="1.45"/>
<circle cx="579.7" cy="204.3" r="1.45"/>
<circle cx="564.9" cy="232.4" r="1.45"/>
<circle cx="561.8" cy="236.7" r="1.45"/>
<circle cx="551.0" cy="226.7" r="1.45"/>
<circle cx="560.0" cy="236.9" r="1.45"/>
<circle cx="559.8" cy="236.4" r="1.45"/>
<circle cx="557.5" cy="236.2" r="1.45"/>
<circle cx="584.3" cy="198.6" r="1.45"/>
<circle cx="545.4" cy="222.1" r="1.45"/>
<circle cx="564.2" cy="235.5" r="1.45"/>
<circle cx="576.3" cy="216.5" r="1.45"/>
<circle cx="558.6" cy="236.3" r="1.45"/>
<circle cx="555.9" cy="231.8" r="1.45"/>
<circle cx="569.3" cy="229.3" r="1.45"/>
<circle cx="541.6" cy="213.6" r="1.45"/>
<circle cx="562.0" cy="236.6" r="1.45"/>
<circle cx="583.8" cy="201.6" r="1.45"/>
<circle cx="593.6" cy="198.3" r="1.45"/>
<circle cx="561.4" cy="237.3" r="1.45"/>
<circle cx="570.9" cy="232.9" r="1.45"/>
<circle cx="544.4" cy="220.9" r="1.45"/>
<circle cx="558.1" cy="236.2" r="1.45"/>
<circle cx="565.4" cy="233.1" r="1.45"/>
<circle cx="556.3" cy="232.2" r="1.45"/>
<circle cx="556.8" cy="235.2" r="1.45"/>
<circle cx="540.5" cy="215.1" r="1.45"/>
<circle cx="551.0" cy="229.5" r="1.45"/>
<circle cx="549.7" cy="226.3" r="1.45"/>
<circle cx="566.4" cy="230.4" r="1.45"/>
<circle cx="547.1" cy="224.0" r="1.45"/>
<circle cx="556.9" cy="236.4" r="1.45"/>
<circle cx="566.1" cy="230.9" r="1.45"/>
<circle cx="577.8" cy="223.6" r="1.45"/>
<circle cx="575.5" cy="230.6" r="1.45"/>
<circle cx="556.6" cy="235.9" r="1.45"/>
<circle cx="562.7" cy="237.0" r="1.45"/>
<circle cx="571.0" cy="224.2" r="1.45"/>
<circle cx="575.0" cy="217.1" r="1.45"/>
<circle cx="557.9" cy="234.8" r="1.45"/>
<circle cx="565.7" cy="231.5" r="1.45"/>
<circle cx="557.2" cy="235.7" r="1.45"/>
<circle cx="567.9" cy="230.1" r="1.45"/>
<circle cx="554.8" cy="231.7" r="1.45"/>
<circle cx="565.5" cy="231.6" r="1.45"/>
<circle cx="547.5" cy="223.1" r="1.45"/>
<circle cx="587.6" cy="196.4" r="1.45"/>
<circle cx="550.8" cy="229.2" r="1.45"/>
<circle cx="542.4" cy="217.9" r="1.45"/>
<circle cx="555.5" cy="232.5" r="1.45"/>
<circle cx="562.9" cy="235.9" r="1.45"/>
<circle cx="567.1" cy="230.9" r="1.45"/>
<circle cx="572.0" cy="229.3" r="1.45"/>
<circle cx="547.5" cy="233.2" r="1.45"/>
<circle cx="560.5" cy="237.0" r="1.45"/>
<circle cx="553.9" cy="234.2" r="1.45"/>
<circle cx="557.1" cy="234.6" r="1.45"/>
<circle cx="561.8" cy="236.9" r="1.45"/>
<circle cx="571.2" cy="223.6" r="1.45"/>
<circle cx="578.6" cy="211.5" r="1.45"/>
<circle cx="566.1" cy="230.9" r="1.45"/>
<circle cx="527.7" cy="202.5" r="1.45"/>
<circle cx="567.3" cy="230.5" r="1.45"/>
<circle cx="556.9" cy="236.4" r="1.45"/>
<circle cx="560.7" cy="237.1" r="1.45"/>
<circle cx="553.7" cy="234.1" r="1.45"/>
<circle cx="565.2" cy="232.2" r="1.45"/>
<circle cx="563.9" cy="234.9" r="1.45"/>
<circle cx="551.9" cy="233.0" r="1.45"/>
<circle cx="560.6" cy="236.8" r="1.45"/>
<circle cx="565.2" cy="232.9" r="1.45"/>
<circle cx="555.2" cy="231.8" r="1.45"/>
<circle cx="562.7" cy="236.7" r="1.45"/>
<circle cx="559.5" cy="236.6" r="1.45"/>
<circle cx="554.8" cy="235.8" r="1.45"/>
<circle cx="561.6" cy="237.0" r="1.45"/>
<circle cx="559.3" cy="236.0" r="1.45"/>
<circle cx="549.3" cy="228.2" r="1.45"/>
<circle cx="538.0" cy="214.5" r="1.45"/>
<circle cx="560.5" cy="236.8" r="1.45"/>
<circle cx="555.5" cy="231.1" r="1.45"/>
<circle cx="567.8" cy="233.6" r="1.45"/>
<circle cx="575.1" cy="220.3" r="1.45"/>
<circle cx="559.2" cy="235.2" r="1.45"/>
<circle cx="584.5" cy="204.3" r="1.45"/>
<circle cx="545.2" cy="227.9" r="1.45"/>
<circle cx="568.1" cy="229.4" r="1.45"/>
<circle cx="557.2" cy="235.8" r="1.45"/>
<circle cx="554.2" cy="231.7" r="1.45"/>
<circle cx="561.7" cy="237.2" r="1.45"/>
<circle cx="553.8" cy="230.0" r="1.45"/>
<circle cx="541.2" cy="215.9" r="1.45"/>
<circle cx="561.8" cy="237.0" r="1.45"/>
<circle cx="561.8" cy="236.8" r="1.45"/>
<circle cx="550.6" cy="229.8" r="1.45"/>
<circle cx="532.1" cy="213.0" r="1.45"/>
<circle cx="557.1" cy="234.1" r="1.45"/>
<circle cx="557.8" cy="234.0" r="1.45"/>
<circle cx="577.8" cy="218.5" r="1.45"/>
<circle cx="565.0" cy="235.3" r="1.45"/>
<circle cx="552.5" cy="233.9" r="1.45"/>
<circle cx="560.9" cy="237.3" r="1.45"/>
<circle cx="577.8" cy="217.8" r="1.45"/>
<circle cx="560.3" cy="236.5" r="1.45"/>
<circle cx="562.8" cy="235.8" r="1.45"/>
<circle cx="563.0" cy="236.2" r="1.45"/>
<circle cx="578.3" cy="223.0" r="1.45"/>
<circle cx="563.1" cy="235.2" r="1.45"/>
<circle cx="567.6" cy="235.2" r="1.45"/>
<circle cx="564.3" cy="233.5" r="1.45"/>
<circle cx="555.1" cy="234.5" r="1.45"/>
<circle cx="573.8" cy="233.6" r="1.45"/>
<circle cx="559.0" cy="236.6" r="1.45"/>
<circle cx="567.6" cy="229.2" r="1.45"/>
<circle cx="548.2" cy="231.4" r="1.45"/>
<circle cx="568.7" cy="228.4" r="1.45"/>
<circle cx="557.0" cy="234.7" r="1.45"/>
<circle cx="562.8" cy="236.7" r="1.45"/>
<circle cx="546.7" cy="222.4" r="1.45"/>
<circle cx="560.8" cy="237.1" r="1.45"/>
<circle cx="544.9" cy="222.9" r="1.45"/>
<circle cx="543.2" cy="217.7" r="1.45"/>
<circle cx="576.6" cy="219.6" r="1.45"/>
<circle cx="560.8" cy="237.1" r="1.45"/>
<circle cx="568.0" cy="235.4" r="1.45"/>
<circle cx="569.6" cy="230.6" r="1.45"/>
<circle cx="567.6" cy="230.1" r="1.45"/>
<circle cx="540.1" cy="223.5" r="1.45"/>
<circle cx="552.5" cy="235.4" r="1.45"/>
<circle cx="574.9" cy="217.3" r="1.45"/>
<circle cx="563.9" cy="235.3" r="1.45"/>
<circle cx="562.2" cy="236.1" r="1.45"/>
<circle cx="544.8" cy="218.0" r="1.45"/>
<circle cx="567.4" cy="231.0" r="1.45"/>
<circle cx="561.0" cy="237.2" r="1.45"/>
<circle cx="577.2" cy="230.8" r="1.45"/>
<circle cx="558.0" cy="234.0" r="1.45"/>
<circle cx="565.0" cy="235.7" r="1.45"/>
<circle cx="561.9" cy="237.1" r="1.45"/>
<circle cx="544.2" cy="230.5" r="1.45"/>
<circle cx="534.8" cy="219.7" r="1.45"/>
<circle cx="534.0" cy="211.8" r="1.45"/>
<circle cx="565.5" cy="232.4" r="1.45"/>
<circle cx="558.2" cy="234.6" r="1.45"/>
<circle cx="572.0" cy="224.4" r="1.45"/>
<circle cx="562.5" cy="236.7" r="1.45"/>
<circle cx="559.3" cy="235.8" r="1.45"/>
<circle cx="551.8" cy="228.3" r="1.45"/>
<circle cx="573.4" cy="233.0" r="1.45"/>
<circle cx="558.6" cy="234.5" r="1.45"/>
<circle cx="554.6" cy="230.1" r="1.45"/>
<circle cx="546.7" cy="221.3" r="1.45"/>
<circle cx="575.7" cy="220.6" r="1.45"/>
<circle cx="566.1" cy="232.7" r="1.45"/>
<circle cx="570.2" cy="230.1" r="1.45"/>
<circle cx="566.0" cy="235.8" r="1.45"/>
<circle cx="559.2" cy="236.3" r="1.45"/>
<circle cx="566.3" cy="231.2" r="1.45"/>
<circle cx="587.8" cy="178.3" r="1.45"/>
<circle cx="561.2" cy="237.4" r="1.45"/>
<circle cx="565.2" cy="233.3" r="1.45"/>
<circle cx="541.6" cy="224.1" r="1.45"/>
<circle cx="582.9" cy="205.6" r="1.45"/>
<circle cx="567.2" cy="232.6" r="1.45"/>
<circle cx="563.6" cy="235.5" r="1.45"/>
<circle cx="551.0" cy="229.9" r="1.45"/>
<circle cx="558.7" cy="235.2" r="1.45"/>
<circle cx="575.7" cy="220.6" r="1.45"/>
<circle cx="561.3" cy="237.3" r="1.45"/>
<circle cx="587.7" cy="205.0" r="1.45"/>
<circle cx="558.6" cy="234.8" r="1.45"/>
<circle cx="578.9" cy="212.6" r="1.45"/>
<circle cx="552.9" cy="233.3" r="1.45"/>
<circle cx="561.2" cy="237.4" r="1.45"/>
<circle cx="533.5" cy="207.4" r="1.45"/>
<circle cx="550.0" cy="234.5" r="1.45"/>
<circle cx="561.5" cy="237.2" r="1.45"/>
<circle cx="563.2" cy="236.3" r="1.45"/>
<circle cx="584.3" cy="193.0" r="1.45"/>
<circle cx="562.7" cy="236.6" r="1.45"/>
<circle cx="556.8" cy="234.1" r="1.45"/>
<circle cx="556.3" cy="235.1" r="1.45"/>
<circle cx="564.6" cy="233.0" r="1.45"/>
<circle cx="552.5" cy="232.3" r="1.45"/>
<circle cx="572.0" cy="223.4" r="1.45"/>
<circle cx="551.0" cy="228.1" r="1.45"/>
<circle cx="568.1" cy="234.9" r="1.45"/>
<circle cx="558.5" cy="234.8" r="1.45"/>
<circle cx="552.9" cy="228.2" r="1.45"/>
<circle cx="568.2" cy="229.3" r="1.45"/>
<circle cx="567.4" cy="230.0" r="1.45"/>
<circle cx="568.5" cy="230.6" r="1.45"/>
<circle cx="564.1" cy="235.7" r="1.45"/>
<circle cx="568.2" cy="228.1" r="1.45"/>
<circle cx="565.4" cy="232.0" r="1.45"/>
<circle cx="567.5" cy="234.2" r="1.45"/>
<circle cx="580.6" cy="218.4" r="1.45"/>
<circle cx="557.0" cy="233.7" r="1.45"/>
<circle cx="562.1" cy="236.8" r="1.45"/>
<circle cx="559.8" cy="236.6" r="1.45"/>
<circle cx="562.5" cy="236.4" r="1.45"/>
<circle cx="561.8" cy="236.7" r="1.45"/>
<circle cx="540.9" cy="218.9" r="1.45"/>
<circle cx="556.1" cy="231.8" r="1.45"/>
<circle cx="558.7" cy="236.0" r="1.45"/>
<circle cx="560.7" cy="236.8" r="1.45"/>
<circle cx="550.1" cy="225.3" r="1.45"/>
<circle cx="561.7" cy="236.8" r="1.45"/>
<circle cx="562.4" cy="236.4" r="1.45"/>
<circle cx="558.8" cy="236.5" r="1.45"/>
<circle cx="562.1" cy="236.3" r="1.45"/>
<circle cx="554.9" cy="233.2" r="1.45"/>
<circle cx="540.6" cy="211.8" r="1.45"/>
<circle cx="557.1" cy="234.1" r="1.45"/>
<circle cx="569.4" cy="232.9" r="1.45"/>
<circle cx="568.8" cy="230.0" r="1.45"/>
<circle cx="562.6" cy="236.1" r="1.45"/>
<circle cx="555.6" cy="233.4" r="1.45"/>
<circle cx="564.3" cy="235.9" r="1.45"/>
<circle cx="565.7" cy="235.3" r="1.45"/>
<circle cx="587.2" cy="204.8" r="1.45"/>
<circle cx="557.9" cy="234.2" r="1.45"/>
<circle cx="564.0" cy="236.2" r="1.45"/>
<circle cx="550.8" cy="234.0" r="1.45"/>
<circle cx="537.8" cy="216.8" r="1.45"/>
<circle cx="563.2" cy="234.9" r="1.45"/>
<circle cx="569.4" cy="235.1" r="1.45"/>
<circle cx="555.9" cy="234.1" r="1.45"/>
<circle cx="572.1" cy="227.9" r="1.45"/>
<circle cx="564.0" cy="235.9" r="1.45"/>
<circle cx="549.7" cy="229.6" r="1.45"/>
<circle cx="553.2" cy="230.8" r="1.45"/>
<circle cx="561.2" cy="237.4" r="1.45"/>
<circle cx="558.7" cy="234.8" r="1.45"/>
<circle cx="531.8" cy="220.8" r="1.45"/>
<circle cx="556.8" cy="233.1" r="1.45"/>
<circle cx="557.9" cy="234.5" r="1.45"/>
<circle cx="567.3" cy="232.0" r="1.45"/>
<circle cx="574.0" cy="221.1" r="1.45"/>
<circle cx="566.4" cy="233.6" r="1.45"/>
<circle cx="578.2" cy="219.3" r="1.45"/>
<circle cx="574.4" cy="226.0" r="1.45"/>
<circle cx="557.4" cy="233.6" r="1.45"/>
<circle cx="591.9" cy="218.4" r="1.45"/>
<circle cx="548.5" cy="226.1" r="1.45"/>
<circle cx="561.9" cy="236.7" r="1.45"/>
<circle cx="541.1" cy="213.7" r="1.45"/>
<circle cx="547.8" cy="225.3" r="1.45"/>
<circle cx="565.1" cy="233.4" r="1.45"/>
<circle cx="554.8" cy="235.2" r="1.45"/>
<circle cx="577.9" cy="228.3" r="1.45"/>
<circle cx="563.7" cy="234.8" r="1.45"/>
<circle cx="564.0" cy="236.1" r="1.45"/>
<circle cx="577.4" cy="223.2" r="1.45"/>
<circle cx="569.9" cy="231.1" r="1.45"/>
<circle cx="561.2" cy="237.4" r="1.45"/>
<circle cx="569.4" cy="231.3" r="1.45"/>
<circle cx="550.6" cy="225.4" r="1.45"/>
<circle cx="564.1" cy="235.2" r="1.45"/>
<circle cx="581.7" cy="203.8" r="1.45"/>
<circle cx="560.5" cy="236.8" r="1.45"/>
<circle cx="561.6" cy="237.0" r="1.45"/>
<circle cx="572.8" cy="229.9" r="1.45"/>
<circle cx="565.2" cy="233.4" r="1.45"/>
<circle cx="565.1" cy="232.1" r="1.45"/>
<circle cx="560.8" cy="237.0" r="1.45"/>
<circle cx="566.2" cy="232.5" r="1.45"/>
<circle cx="552.5" cy="229.9" r="1.45"/>
<circle cx="576.2" cy="218.7" r="1.45"/>
<circle cx="563.8" cy="234.7" r="1.45"/>
<circle cx="561.3" cy="237.3" r="1.45"/>
<circle cx="553.5" cy="235.5" r="1.45"/>
<circle cx="543.7" cy="218.0" r="1.45"/>
<circle cx="548.2" cy="234.1" r="1.45"/>
<circle cx="564.6" cy="233.8" r="1.45"/>
<circle cx="563.3" cy="234.9" r="1.45"/>
<circle cx="565.3" cy="232.0" r="1.45"/>
<circle cx="552.7" cy="229.2" r="1.45"/>
<circle cx="565.8" cy="234.6" r="1.45"/>
<circle cx="554.2" cy="230.5" r="1.45"/>
<circle cx="573.3" cy="223.0" r="1.45"/>
<circle cx="557.5" cy="236.2" r="1.45"/>
<circle cx="572.5" cy="226.2" r="1.45"/>
<circle cx="552.3" cy="229.9" r="1.45"/>
<circle cx="560.1" cy="236.4" r="1.45"/>
<circle cx="561.4" cy="237.3" r="1.45"/>
<circle cx="561.2" cy="237.4" r="1.45"/>
<circle cx="565.3" cy="232.0" r="1.45"/>
<circle cx="558.9" cy="235.0" r="1.45"/>
<circle cx="572.4" cy="229.3" r="1.45"/>
<circle cx="566.8" cy="235.4" r="1.45"/>
<circle cx="561.8" cy="236.7" r="1.45"/>
<circle cx="566.3" cy="233.5" r="1.45"/>
<circle cx="539.5" cy="225.6" r="1.45"/>
<circle cx="546.9" cy="229.7" r="1.45"/>
<circle cx="564.9" cy="233.1" r="1.45"/>
<circle cx="547.1" cy="220.7" r="1.45"/>
<circle cx="551.6" cy="232.4" r="1.45"/>
<circle cx="568.5" cy="231.7" r="1.45"/>
<circle cx="565.2" cy="233.6" r="1.45"/>
<circle cx="565.1" cy="235.1" r="1.45"/>
<circle cx="565.3" cy="233.3" r="1.45"/>
<circle cx="535.3" cy="213.2" r="1.45"/>
<circle cx="561.8" cy="236.8" r="1.45"/>
<circle cx="567.0" cy="230.1" r="1.45"/>
<circle cx="564.2" cy="236.5" r="1.45"/>
<circle cx="556.0" cy="233.0" r="1.45"/>
<circle cx="554.0" cy="232.5" r="1.45"/>
<circle cx="558.3" cy="235.2" r="1.45"/>
<circle cx="563.5" cy="235.3" r="1.45"/>
<circle cx="555.1" cy="232.6" r="1.45"/>
<circle cx="562.4" cy="236.0" r="1.45"/>
<circle cx="562.6" cy="236.8" r="1.45"/>
<circle cx="548.3" cy="226.2" r="1.45"/>
<circle cx="548.0" cy="226.6" r="1.45"/>
<circle cx="563.9" cy="234.5" r="1.45"/>
<circle cx="560.8" cy="237.0" r="1.45"/>
<circle cx="554.2" cy="231.5" r="1.45"/>
<circle cx="542.0" cy="229.9" r="1.45"/>
<circle cx="566.6" cy="232.6" r="1.45"/>
<circle cx="568.1" cy="228.1" r="1.45"/>
<circle cx="549.2" cy="225.5" r="1.45"/>
<circle cx="560.6" cy="236.7" r="1.45"/>
<circle cx="549.6" cy="225.5" r="1.45"/>
<circle cx="558.7" cy="234.9" r="1.45"/>
<circle cx="557.5" cy="235.7" r="1.45"/>
<circle cx="559.2" cy="236.7" r="1.45"/>
<circle cx="546.7" cy="223.4" r="1.45"/>
<circle cx="556.8" cy="234.2" r="1.45"/>
<circle cx="544.6" cy="219.4" r="1.45"/>
<circle cx="550.2" cy="231.5" r="1.45"/>
<circle cx="563.9" cy="233.8" r="1.45"/>
<circle cx="550.1" cy="228.6" r="1.45"/>
<circle cx="562.5" cy="235.7" r="1.45"/>
<circle cx="555.2" cy="231.3" r="1.45"/>
<circle cx="563.2" cy="234.7" r="1.45"/>
<circle cx="564.5" cy="233.7" r="1.45"/>
<circle cx="560.2" cy="236.7" r="1.45"/>
<circle cx="564.3" cy="233.3" r="1.45"/>
<circle cx="567.8" cy="235.5" r="1.45"/>
<circle cx="544.6" cy="222.8" r="1.45"/>
<circle cx="564.7" cy="232.7" r="1.45"/>
<circle cx="563.3" cy="234.9" r="1.45"/>
<circle cx="560.8" cy="237.1" r="1.45"/>
<circle cx="563.1" cy="235.0" r="1.45"/>
<circle cx="548.5" cy="224.2" r="1.45"/>
<circle cx="561.9" cy="236.9" r="1.45"/>
<circle cx="548.4" cy="233.3" r="1.45"/>
<circle cx="561.7" cy="237.0" r="1.45"/>
<circle cx="560.4" cy="236.8" r="1.45"/>
<circle cx="573.5" cy="227.1" r="1.45"/>
<circle cx="562.4" cy="236.7" r="1.45"/>
<circle cx="568.0" cy="229.7" r="1.45"/>
<circle cx="572.2" cy="232.3" r="1.45"/>
<circle cx="560.6" cy="236.7" r="1.45"/>
<circle cx="544.6" cy="229.9" r="1.45"/>
<circle cx="562.1" cy="236.4" r="1.45"/>
<circle cx="551.2" cy="234.0" r="1.45"/>
<circle cx="563.5" cy="236.7" r="1.45"/>
<circle cx="550.6" cy="225.8" r="1.45"/>
<circle cx="565.6" cy="233.8" r="1.45"/>
<circle cx="555.8" cy="235.1" r="1.45"/>
<circle cx="582.6" cy="205.3" r="1.45"/>
<circle cx="567.7" cy="231.0" r="1.45"/>
<circle cx="567.0" cy="229.5" r="1.45"/>
<circle cx="572.4" cy="228.8" r="1.45"/>
<circle cx="581.7" cy="226.9" r="1.45"/>
<circle cx="580.7" cy="209.5" r="1.45"/>
<circle cx="556.6" cy="235.9" r="1.45"/>
<circle cx="578.1" cy="219.4" r="1.45"/>
<circle cx="577.2" cy="227.9" r="1.45"/>
<circle cx="546.4" cy="222.2" r="1.45"/>
<circle cx="566.2" cy="231.1" r="1.45"/>
<circle cx="575.4" cy="217.2" r="1.45"/>
<circle cx="569.5" cy="229.4" r="1.45"/>
<circle cx="559.7" cy="236.5" r="1.45"/>
<circle cx="551.9" cy="228.3" r="1.45"/>
<circle cx="542.2" cy="224.3" r="1.45"/>
<circle cx="544.9" cy="227.9" r="1.45"/>
<circle cx="559.0" cy="235.5" r="1.45"/>
<circle cx="569.6" cy="231.8" r="1.45"/>
<circle cx="560.0" cy="236.2" r="1.45"/>
<circle cx="577.8" cy="215.9" r="1.45"/>
<circle cx="556.1" cy="232.6" r="1.45"/>
<circle cx="549.6" cy="229.6" r="1.45"/>
<circle cx="558.5" cy="234.8" r="1.45"/>
<circle cx="582.5" cy="210.1" r="1.45"/>
<circle cx="582.7" cy="210.4" r="1.45"/>
<circle cx="559.2" cy="235.2" r="1.45"/>
<circle cx="551.8" cy="234.4" r="1.45"/>
<circle cx="554.5" cy="230.4" r="1.45"/>
<circle cx="561.0" cy="237.3" r="1.45"/>
<circle cx="560.6" cy="237.0" r="1.45"/>
<circle cx="563.4" cy="235.1" r="1.45"/>
<circle cx="546.7" cy="233.7" r="1.45"/>
<circle cx="568.8" cy="232.9" r="1.45"/>
<circle cx="551.1" cy="226.1" r="1.45"/>
<circle cx="583.7" cy="215.4" r="1.45"/>
<circle cx="559.6" cy="236.2" r="1.45"/>
<circle cx="558.9" cy="236.4" r="1.45"/>
<circle cx="564.1" cy="236.0" r="1.45"/>
<circle cx="561.3" cy="237.3" r="1.45"/>
<circle cx="562.4" cy="236.1" r="1.45"/>
<circle cx="549.1" cy="227.5" r="1.45"/>
<circle cx="565.9" cy="232.3" r="1.45"/>
<circle cx="552.9" cy="233.3" r="1.45"/>
<circle cx="568.1" cy="233.6" r="1.45"/>
<circle cx="566.1" cy="235.8" r="1.45"/>
<circle cx="547.6" cy="222.5" r="1.45"/>
<circle cx="559.9" cy="236.1" r="1.45"/>
<circle cx="560.4" cy="237.1" r="1.45"/>
<circle cx="550.9" cy="226.9" r="1.45"/>
<circle cx="549.1" cy="228.4" r="1.45"/>
<circle cx="564.7" cy="234.7" r="1.45"/>
<circle cx="567.6" cy="229.3" r="1.45"/>
<circle cx="591.1" cy="179.3" r="1.45"/>
<circle cx="558.0" cy="234.8" r="1.45"/>
<circle cx="539.6" cy="223.9" r="1.45"/>
<circle cx="563.3" cy="235.8" r="1.45"/>
<circle cx="574.8" cy="222.5" r="1.45"/>
<circle cx="577.3" cy="219.8" r="1.45"/>
<circle cx="576.3" cy="215.8" r="1.45"/>
<circle cx="552.0" cy="231.9" r="1.45"/>
<circle cx="561.1" cy="237.4" r="1.45"/>
<circle cx="556.3" cy="234.0" r="1.45"/>
<circle cx="560.3" cy="236.9" r="1.45"/>
<circle cx="568.4" cy="234.9" r="1.45"/>
<circle cx="564.1" cy="235.3" r="1.45"/>
<circle cx="589.4" cy="175.4" r="1.45"/>
<circle cx="548.9" cy="225.7" r="1.45"/>
<circle cx="546.0" cy="230.3" r="1.45"/>
<circle cx="571.1" cy="225.2" r="1.45"/>
<circle cx="566.8" cy="233.6" r="1.45"/>
<circle cx="540.2" cy="215.5" r="1.45"/>
<circle cx="567.4" cy="230.3" r="1.45"/>
<circle cx="563.3" cy="236.7" r="1.45"/>
<circle cx="553.1" cy="229.7" r="1.45"/>
<circle cx="576.6" cy="221.7" r="1.45"/>
<circle cx="560.0" cy="236.2" r="1.45"/>
<circle cx="565.4" cy="235.9" r="1.45"/>
<circle cx="574.0" cy="229.2" r="1.45"/>
<circle cx="563.6" cy="236.5" r="1.45"/>
<circle cx="575.3" cy="226.9" r="1.45"/>
<circle cx="559.0" cy="236.0" r="1.45"/>
<circle cx="551.9" cy="228.3" r="1.45"/>
<circle cx="562.6" cy="236.8" r="1.45"/>
<circle cx="554.0" cy="229.4" r="1.45"/>
<circle cx="565.9" cy="232.8" r="1.45"/>
<circle cx="552.5" cy="233.1" r="1.45"/>
<circle cx="548.5" cy="223.7" r="1.45"/>
<circle cx="555.8" cy="232.5" r="1.45"/>
<circle cx="560.2" cy="236.9" r="1.45"/>
<circle cx="555.6" cy="234.9" r="1.45"/>
<circle cx="573.2" cy="231.9" r="1.45"/>
<circle cx="566.8" cy="235.2" r="1.45"/>
<circle cx="566.9" cy="229.6" r="1.45"/>
<circle cx="571.0" cy="224.4" r="1.45"/>
<circle cx="561.0" cy="237.3" r="1.45"/>
<circle cx="559.5" cy="236.6" r="1.45"/>
<circle cx="563.2" cy="235.7" r="1.45"/>
<circle cx="542.4" cy="218.2" r="1.45"/>
<circle cx="561.9" cy="236.9" r="1.45"/>
<circle cx="572.9" cy="224.3" r="1.45"/>
<circle cx="562.1" cy="236.2" r="1.45"/>
<circle cx="537.3" cy="204.5" r="1.45"/>
<circle cx="562.0" cy="237.0" r="1.45"/>
<circle cx="544.5" cy="226.1" r="1.45"/>
<circle cx="538.8" cy="230.1" r="1.45"/>
<circle cx="572.8" cy="223.8" r="1.45"/>
<circle cx="541.3" cy="219.5" r="1.45"/>
<circle cx="551.7" cy="234.8" r="1.45"/>
<circle cx="577.7" cy="212.0" r="1.45"/>
<circle cx="566.5" cy="235.4" r="1.45"/>
<circle cx="561.7" cy="237.0" r="1.45"/>
<circle cx="587.5" cy="203.5" r="1.45"/>
<circle cx="559.8" cy="236.3" r="1.45"/>
<circle cx="578.4" cy="210.5" r="1.45"/>
<circle cx="558.5" cy="234.9" r="1.45"/>
<circle cx="560.3" cy="236.7" r="1.45"/>
<circle cx="567.6" cy="228.8" r="1.45"/>
<circle cx="569.6" cy="235.0" r="1.45"/>
<circle cx="556.2" cy="234.4" r="1.45"/>
<circle cx="566.7" cy="230.8" r="1.45"/>
<circle cx="576.3" cy="217.1" r="1.45"/>
<circle cx="539.0" cy="208.4" r="1.45"/>
<circle cx="552.8" cy="229.4" r="1.45"/>
<circle cx="551.4" cy="228.6" r="1.45"/>
<circle cx="547.3" cy="228.4" r="1.45"/>
<circle cx="562.9" cy="235.7" r="1.45"/>
<circle cx="570.2" cy="227.5" r="1.45"/>
<circle cx="549.7" cy="225.1" r="1.45"/>
<circle cx="552.1" cy="233.1" r="1.45"/>
<circle cx="557.8" cy="234.9" r="1.45"/>
<circle cx="554.8" cy="231.0" r="1.45"/>
<circle cx="556.4" cy="236.1" r="1.45"/>
<circle cx="550.8" cy="235.0" r="1.45"/>
<circle cx="557.6" cy="234.8" r="1.45"/>
<circle cx="538.6" cy="216.3" r="1.45"/>
<circle cx="567.3" cy="229.5" r="1.45"/>
<circle cx="554.4" cy="231.3" r="1.45"/>
<circle cx="564.8" cy="235.4" r="1.45"/>
<circle cx="542.9" cy="214.8" r="1.45"/>
<circle cx="574.9" cy="232.2" r="1.45"/>
<circle cx="564.2" cy="233.7" r="1.45"/>
<circle cx="552.7" cy="234.0" r="1.45"/>
<circle cx="583.6" cy="215.5" r="1.45"/>
<circle cx="560.1" cy="236.9" r="1.45"/>
<circle cx="557.0" cy="233.9" r="1.45"/>
<circle cx="583.4" cy="200.8" r="1.45"/>
<circle cx="561.7" cy="236.9" r="1.45"/>
<circle cx="567.2" cy="232.2" r="1.45"/>
<circle cx="554.8" cy="232.9" r="1.45"/>
<circle cx="567.0" cy="232.0" r="1.45"/>
<circle cx="555.7" cy="231.7" r="1.45"/>
<circle cx="558.0" cy="233.9" r="1.45"/>
<circle cx="583.6" cy="219.2" r="1.45"/>
<circle cx="552.4" cy="227.5" r="1.45"/>
<circle cx="545.9" cy="233.1" r="1.45"/>
<circle cx="546.7" cy="231.4" r="1.45"/>
<circle cx="549.1" cy="229.4" r="1.45"/>
<circle cx="554.4" cy="231.0" r="1.45"/>
<circle cx="556.9" cy="233.0" r="1.45"/>
<circle cx="543.9" cy="220.3" r="1.45"/>
<circle cx="556.3" cy="233.9" r="1.45"/>
<circle cx="586.7" cy="195.6" r="1.45"/>
<circle cx="555.9" cy="233.8" r="1.45"/>
<circle cx="561.9" cy="236.7" r="1.45"/>
<circle cx="557.6" cy="234.8" r="1.45"/>
<circle cx="561.7" cy="237.0" r="1.45"/>
<circle cx="548.0" cy="231.2" r="1.45"/>
<circle cx="554.8" cy="231.2" r="1.45"/>
<circle cx="559.1" cy="235.9" r="1.45"/>
<circle cx="578.9" cy="207.4" r="1.45"/>
<circle cx="564.5" cy="233.3" r="1.45"/>
<circle cx="562.2" cy="236.8" r="1.45"/>
<circle cx="564.2" cy="233.4" r="1.45"/>
<circle cx="541.2" cy="214.7" r="1.45"/>
<circle cx="555.3" cy="231.5" r="1.45"/>
<circle cx="559.6" cy="235.9" r="1.45"/>
<circle cx="546.5" cy="228.0" r="1.45"/>
<circle cx="558.1" cy="234.6" r="1.45"/>
<circle cx="572.1" cy="231.4" r="1.45"/>
<circle cx="560.7" cy="237.0" r="1.45"/>
<circle cx="565.4" cy="232.7" r="1.45"/>
<circle cx="552.9" cy="231.1" r="1.45"/>
<circle cx="572.6" cy="224.3" r="1.45"/>
<circle cx="553.9" cy="229.7" r="1.45"/>
<circle cx="560.8" cy="237.0" r="1.45"/>
<circle cx="552.6" cy="229.0" r="1.45"/>
<circle cx="573.4" cy="224.8" r="1.45"/>
<circle cx="573.8" cy="218.9" r="1.45"/>
<circle cx="554.2" cy="230.5" r="1.45"/>
<circle cx="559.1" cy="235.3" r="1.45"/>
<circle cx="562.4" cy="236.8" r="1.45"/>
<circle cx="564.4" cy="234.6" r="1.45"/>
<circle cx="571.0" cy="224.1" r="1.45"/>
<circle cx="553.2" cy="228.7" r="1.45"/>
<circle cx="563.3" cy="234.8" r="1.45"/>
<circle cx="580.1" cy="212.2" r="1.45"/>
<circle cx="572.5" cy="231.5" r="1.45"/>
<circle cx="545.1" cy="228.1" r="1.45"/>
<circle cx="563.9" cy="236.6" r="1.45"/>
<circle cx="551.2" cy="232.4" r="1.45"/>
<circle cx="550.9" cy="226.9" r="1.45"/>
<circle cx="576.3" cy="232.3" r="1.45"/>
<circle cx="547.5" cy="226.7" r="1.45"/>
<circle cx="560.2" cy="236.9" r="1.45"/>
<circle cx="529.7" cy="201.0" r="1.45"/>
<circle cx="566.6" cy="231.2" r="1.45"/>
<circle cx="557.1" cy="235.7" r="1.45"/>
<circle cx="550.5" cy="226.5" r="1.45"/>
<circle cx="566.7" cy="232.1" r="1.45"/>
<circle cx="571.5" cy="227.1" r="1.45"/>
<circle cx="538.7" cy="213.3" r="1.45"/>
<circle cx="554.7" cy="233.9" r="1.45"/>
<circle cx="560.6" cy="236.8" r="1.45"/>
<circle cx="570.0" cy="228.0" r="1.45"/>
<circle cx="569.8" cy="233.6" r="1.45"/>
<circle cx="541.8" cy="223.1" r="1.45"/>
<circle cx="559.9" cy="236.4" r="1.45"/>
<circle cx="566.5" cy="231.2" r="1.45"/>
<circle cx="557.5" cy="233.6" r="1.45"/>
<circle cx="546.5" cy="221.0" r="1.45"/>
<circle cx="560.9" cy="237.3" r="1.45"/>
<circle cx="558.7" cy="235.6" r="1.45"/>
<circle cx="547.1" cy="224.5" r="1.45"/>
<circle cx="565.2" cy="235.0" r="1.45"/>
<circle cx="561.9" cy="236.6" r="1.45"/>
<circle cx="559.8" cy="236.3" r="1.45"/>
<circle cx="542.4" cy="213.5" r="1.45"/>
<circle cx="560.2" cy="236.8" r="1.45"/>
<circle cx="573.3" cy="222.4" r="1.45"/>
<circle cx="567.4" cy="230.5" r="1.45"/>
<circle cx="566.8" cy="230.0" r="1.45"/>
<circle cx="535.5" cy="208.1" r="1.45"/>
<circle cx="563.2" cy="235.4" r="1.45"/>
<circle cx="555.8" cy="232.1" r="1.45"/>
<circle cx="573.6" cy="220.5" r="1.45"/>
<circle cx="573.7" cy="230.0" r="1.45"/>
<circle cx="569.1" cy="228.1" r="1.45"/>
<circle cx="550.2" cy="226.0" r="1.45"/>
<circle cx="561.0" cy="237.2" r="1.45"/>
<circle cx="568.9" cy="233.9" r="1.45"/>
<circle cx="551.6" cy="231.9" r="1.45"/>
<circle cx="556.2" cy="233.5" r="1.45"/>
<circle cx="553.5" cy="235.6" r="1.45"/>
<circle cx="560.9" cy="237.1" r="1.45"/>
<circle cx="545.5" cy="227.6" r="1.45"/>
<circle cx="547.4" cy="232.3" r="1.45"/>
<circle cx="530.3" cy="208.8" r="1.45"/>
<circle cx="587.4" cy="200.8" r="1.45"/>
<circle cx="572.5" cy="222.6" r="1.45"/>
<circle cx="549.8" cy="228.2" r="1.45"/>
<circle cx="562.6" cy="236.6" r="1.45"/>
<circle cx="564.1" cy="234.6" r="1.45"/>
<circle cx="552.1" cy="228.5" r="1.45"/>
<circle cx="554.4" cy="231.0" r="1.45"/>
<circle cx="579.0" cy="210.7" r="1.45"/>
<circle cx="567.8" cy="229.0" r="1.45"/>
<circle cx="560.5" cy="237.0" r="1.45"/>
<circle cx="576.7" cy="214.5" r="1.45"/>
<circle cx="566.5" cy="230.7" r="1.45"/>
<circle cx="559.9" cy="236.1" r="1.45"/>
<circle cx="589.0" cy="178.1" r="1.45"/>
<circle cx="563.3" cy="236.3" r="1.45"/>
<circle cx="561.4" cy="237.1" r="1.45"/>
<circle cx="552.8" cy="230.2" r="1.45"/>
<circle cx="552.3" cy="234.9" r="1.45"/>
<circle cx="557.2" cy="235.4" r="1.45"/>
<circle cx="568.5" cy="229.3" r="1.45"/>
<circle cx="578.5" cy="212.8" r="1.45"/>
<circle cx="557.8" cy="235.6" r="1.45"/>
<circle cx="543.9" cy="223.1" r="1.45"/>
<circle cx="566.2" cy="231.4" r="1.45"/>
<circle cx="546.7" cy="224.7" r="1.45"/>
<circle cx="556.3" cy="233.1" r="1.45"/>
<circle cx="559.9" cy="236.4" r="1.45"/>
<circle cx="557.6" cy="234.6" r="1.45"/>
<circle cx="562.8" cy="236.6" r="1.45"/>
<circle cx="560.9" cy="237.1" r="1.45"/>
<circle cx="572.5" cy="226.2" r="1.45"/>
<circle cx="571.0" cy="233.6" r="1.45"/>
<circle cx="553.2" cy="229.4" r="1.45"/>
<circle cx="564.6" cy="234.4" r="1.45"/>
<circle cx="546.3" cy="226.8" r="1.45"/>
<circle cx="556.9" cy="233.5" r="1.45"/>
<circle cx="560.4" cy="236.7" r="1.45"/>
<circle cx="542.6" cy="216.1" r="1.45"/>
<circle cx="561.9" cy="236.9" r="1.45"/>
<circle cx="572.4" cy="224.3" r="1.45"/>
<circle cx="569.2" cy="231.7" r="1.45"/>
<circle cx="560.1" cy="236.7" r="1.45"/>
<circle cx="564.0" cy="235.7" r="1.45"/>
<circle cx="562.0" cy="236.5" r="1.45"/>
<circle cx="560.2" cy="236.5" r="1.45"/>
<circle cx="535.4" cy="199.1" r="1.45"/>
<circle cx="562.7" cy="236.7" r="1.45"/>
<circle cx="551.3" cy="226.4" r="1.45"/>
<circle cx="568.8" cy="234.3" r="1.45"/>
<circle cx="569.0" cy="234.6" r="1.45"/>
<circle cx="574.7" cy="226.8" r="1.45"/>
<circle cx="562.0" cy="236.7" r="1.45"/>
<circle cx="554.2" cy="231.1" r="1.45"/>
<circle cx="565.5" cy="234.6" r="1.45"/>
<circle cx="556.1" cy="233.4" r="1.45"/>
<circle cx="578.0" cy="231.1" r="1.45"/>
<circle cx="554.3" cy="232.8" r="1.45"/>
<circle cx="550.2" cy="231.0" r="1.45"/>
<circle cx="559.4" cy="236.8" r="1.45"/>
<circle cx="562.6" cy="235.6" r="1.45"/>
<circle cx="553.5" cy="233.9" r="1.45"/>
<circle cx="555.8" cy="232.6" r="1.45"/>
<circle cx="583.8" cy="195.1" r="1.45"/>
<circle cx="559.5" cy="236.0" r="1.45"/>
<circle cx="557.1" cy="233.7" r="1.45"/>
<circle cx="572.0" cy="222.5" r="1.45"/>
<circle cx="575.8" cy="225.9" r="1.45"/>
<circle cx="553.7" cy="235.6" r="1.45"/>
<circle cx="544.9" cy="225.2" r="1.45"/>
<circle cx="570.4" cy="224.7" r="1.45"/>
<circle cx="529.1" cy="209.2" r="1.45"/>
<circle cx="566.3" cy="235.4" r="1.45"/>
<circle cx="558.7" cy="234.8" r="1.45"/>
<circle cx="580.9" cy="201.8" r="1.45"/>
<circle cx="563.3" cy="236.3" r="1.45"/>
<circle cx="580.6" cy="205.7" r="1.45"/>
<circle cx="566.1" cy="235.6" r="1.45"/>
<circle cx="582.2" cy="198.5" r="1.45"/>
<circle cx="557.3" cy="236.2" r="1.45"/>
<circle cx="575.7" cy="232.0" r="1.45"/>
<circle cx="570.0" cy="225.4" r="1.45"/>
<circle cx="568.5" cy="228.9" r="1.45"/>
<circle cx="565.6" cy="233.4" r="1.45"/>
<circle cx="562.7" cy="235.8" r="1.45"/>
<circle cx="557.3" cy="233.5" r="1.45"/>
<circle cx="564.5" cy="233.2" r="1.45"/>
<circle cx="562.7" cy="235.8" r="1.45"/>
<circle cx="548.3" cy="222.4" r="1.45"/>
<circle cx="537.6" cy="221.3" r="1.45"/>
<circle cx="558.7" cy="234.6" r="1.45"/>
<circle cx="569.1" cy="233.7" r="1.45"/>
<circle cx="555.5" cy="232.4" r="1.45"/>
<circle cx="564.2" cy="236.4" r="1.45"/>
<circle cx="554.1" cy="230.5" r="1.45"/>
<circle cx="547.7" cy="231.6" r="1.45"/>
<circle cx="561.5" cy="237.3" r="1.45"/>
<circle cx="557.0" cy="232.8" r="1.45"/>
<circle cx="550.6" cy="230.5" r="1.45"/>
<circle cx="576.1" cy="225.4" r="1.45"/>
<circle cx="574.4" cy="218.9" r="1.45"/>
<circle cx="550.5" cy="231.6" r="1.45"/>
<circle cx="546.6" cy="221.1" r="1.45"/>
<circle cx="555.3" cy="233.3" r="1.45"/>
<circle cx="559.4" cy="235.6" r="1.45"/>
<circle cx="548.1" cy="224.1" r="1.45"/>
<circle cx="564.5" cy="236.3" r="1.45"/>
<circle cx="556.8" cy="233.1" r="1.45"/>
<circle cx="544.6" cy="231.0" r="1.45"/>
<circle cx="558.1" cy="234.3" r="1.45"/>
<circle cx="561.2" cy="237.4" r="1.45"/>
<circle cx="563.1" cy="234.8" r="1.45"/>
<circle cx="548.1" cy="222.6" r="1.45"/>
<circle cx="584.6" cy="190.9" r="1.45"/>
<circle cx="556.4" cy="234.7" r="1.45"/>
<circle cx="549.5" cy="230.6" r="1.45"/>
<circle cx="559.1" cy="235.1" r="1.45"/>
<circle cx="565.7" cy="235.8" r="1.45"/>
<circle cx="561.5" cy="237.0" r="1.45"/>
<circle cx="528.0" cy="215.3" r="1.45"/>
<circle cx="553.7" cy="234.9" r="1.45"/>
<circle cx="551.7" cy="230.9" r="1.45"/>
<circle cx="566.6" cy="232.0" r="1.45"/>
<circle cx="577.6" cy="212.2" r="1.45"/>
<circle cx="562.1" cy="236.9" r="1.45"/>
<circle cx="569.9" cy="230.1" r="1.45"/>
<circle cx="554.3" cy="234.3" r="1.45"/>
<circle cx="571.7" cy="225.5" r="1.45"/>
<circle cx="549.4" cy="224.5" r="1.45"/>
<circle cx="566.1" cy="233.5" r="1.45"/>
<circle cx="563.2" cy="236.8" r="1.45"/>
<circle cx="555.3" cy="234.3" r="1.45"/>
<circle cx="569.7" cy="227.4" r="1.45"/>
<circle cx="571.9" cy="224.8" r="1.45"/>
<circle cx="584.8" cy="203.5" r="1.45"/>
<circle cx="565.3" cy="234.6" r="1.45"/>
<circle cx="573.3" cy="221.4" r="1.45"/>
<circle cx="590.2" cy="221.1" r="1.45"/>
<circle cx="572.8" cy="233.6" r="1.45"/>
<circle cx="545.6" cy="227.7" r="1.45"/>
<circle cx="566.3" cy="231.8" r="1.45"/>
<circle cx="559.3" cy="235.4" r="1.45"/>
<circle cx="560.1" cy="236.8" r="1.45"/>
<circle cx="540.3" cy="209.6" r="1.45"/>
<circle cx="544.6" cy="219.8" r="1.45"/>
<circle cx="559.1" cy="235.5" r="1.45"/>
<circle cx="563.0" cy="235.2" r="1.45"/>
<circle cx="556.7" cy="233.6" r="1.45"/>
<circle cx="575.4" cy="219.9" r="1.45"/>
<circle cx="564.0" cy="234.7" r="1.45"/>
<circle cx="548.1" cy="226.0" r="1.45"/>
<circle cx="548.7" cy="225.6" r="1.45"/>
<circle cx="558.0" cy="236.5" r="1.45"/>
<circle cx="566.4" cy="230.9" r="1.45"/>
<circle cx="566.9" cy="233.1" r="1.45"/>
<circle cx="545.2" cy="217.9" r="1.45"/>
<circle cx="568.4" cy="227.9" r="1.45"/>
<circle cx="564.2" cy="234.5" r="1.45"/>
<circle cx="578.9" cy="217.3" r="1.45"/>
<circle cx="572.5" cy="228.5" r="1.45"/>
<circle cx="552.0" cy="227.6" r="1.45"/>
<circle cx="556.1" cy="236.1" r="1.45"/>
<circle cx="545.3" cy="222.2" r="1.45"/>
<circle cx="560.4" cy="236.8" r="1.45"/>
<circle cx="555.8" cy="235.1" r="1.45"/>
<circle cx="544.6" cy="219.6" r="1.45"/>
<circle cx="558.9" cy="235.0" r="1.45"/>
<circle cx="565.6" cy="231.7" r="1.45"/>
<circle cx="567.9" cy="229.8" r="1.45"/>
<circle cx="560.3" cy="236.7" r="1.45"/>
<circle cx="560.3" cy="236.5" r="1.45"/>
<circle cx="585.3" cy="196.3" r="1.45"/>
<circle cx="564.8" cy="234.8" r="1.45"/>
<circle cx="564.3" cy="234.3" r="1.45"/>
<circle cx="562.3" cy="236.1" r="1.45"/>
<circle cx="552.4" cy="231.8" r="1.45"/>
<circle cx="565.9" cy="231.1" r="1.45"/>
<circle cx="566.2" cy="233.6" r="1.45"/>
<circle cx="576.6" cy="231.4" r="1.45"/>
<circle cx="561.0" cy="237.2" r="1.45"/>
<circle cx="552.6" cy="230.5" r="1.45"/>
<circle cx="558.1" cy="235.5" r="1.45"/>
<circle cx="551.6" cy="234.6" r="1.45"/>
<circle cx="553.5" cy="231.6" r="1.45"/>
<circle cx="564.4" cy="233.5" r="1.45"/>
<circle cx="563.6" cy="234.3" r="1.45"/>
<circle cx="546.6" cy="225.3" r="1.45"/>
<circle cx="575.8" cy="224.4" r="1.45"/>
<circle cx="568.7" cy="228.6" r="1.45"/>
<circle cx="575.4" cy="216.3" r="1.45"/>
<circle cx="556.7" cy="233.9" r="1.45"/>
<circle cx="552.1" cy="227.5" r="1.45"/>
<circle cx="572.5" cy="232.6" r="1.45"/>
<circle cx="566.1" cy="233.4" r="1.45"/>
<circle cx="555.5" cy="231.6" r="1.45"/>
<circle cx="549.0" cy="224.1" r="1.45"/>
<circle cx="564.3" cy="234.6" r="1.45"/>
<circle cx="548.2" cy="225.6" r="1.45"/>
<circle cx="586.4" cy="220.8" r="1.45"/>
<circle cx="563.1" cy="235.7" r="1.45"/>
<circle cx="567.3" cy="233.1" r="1.45"/>
<circle cx="541.0" cy="217.7" r="1.45"/>
<circle cx="562.3" cy="236.6" r="1.45"/>
<circle cx="556.4" cy="232.8" r="1.45"/>
<circle cx="551.7" cy="230.7" r="1.45"/>
<circle cx="574.6" cy="218.5" r="1.45"/>
<circle cx="577.9" cy="222.4" r="1.45"/>
<circle cx="587.9" cy="192.3" r="1.45"/>
<circle cx="559.4" cy="235.7" r="1.45"/>
<circle cx="553.9" cy="230.2" r="1.45"/>
<circle cx="564.4" cy="236.3" r="1.45"/>
<circle cx="555.2" cy="233.8" r="1.45"/>
<circle cx="558.8" cy="235.5" r="1.45"/>
<circle cx="547.1" cy="227.2" r="1.45"/>
<circle cx="558.1" cy="234.8" r="1.45"/>
<circle cx="541.5" cy="230.5" r="1.45"/>
<circle cx="547.8" cy="229.7" r="1.45"/>
<circle cx="545.4" cy="218.9" r="1.45"/>
<circle cx="549.1" cy="227.6" r="1.45"/>
<circle cx="573.6" cy="223.3" r="1.45"/>
<circle cx="549.5" cy="231.3" r="1.45"/>
<circle cx="556.7" cy="236.4" r="1.45"/>
<circle cx="562.0" cy="236.6" r="1.45"/>
<circle cx="552.9" cy="228.5" r="1.45"/>
<circle cx="558.6" cy="234.5" r="1.45"/>
<circle cx="550.3" cy="230.2" r="1.45"/>
<circle cx="565.7" cy="234.1" r="1.45"/>
<circle cx="557.3" cy="234.6" r="1.45"/>
<circle cx="551.0" cy="230.6" r="1.45"/>
<circle cx="557.0" cy="234.5" r="1.45"/>
<circle cx="561.9" cy="237.0" r="1.45"/>
<circle cx="568.4" cy="227.9" r="1.45"/>
<circle cx="557.6" cy="233.4" r="1.45"/>
<circle cx="565.4" cy="233.5" r="1.45"/>
<circle cx="540.6" cy="217.8" r="1.45"/>
<circle cx="558.0" cy="236.2" r="1.45"/>
<circle cx="581.7" cy="203.5" r="1.45"/>
<circle cx="568.0" cy="231.7" r="1.45"/>
<circle cx="558.1" cy="234.4" r="1.45"/>
<circle cx="565.3" cy="236.1" r="1.45"/>
<circle cx="552.9" cy="229.9" r="1.45"/>
<circle cx="551.4" cy="227.4" r="1.45"/>
<circle cx="555.0" cy="233.7" r="1.45"/>
<circle cx="551.3" cy="231.7" r="1.45"/>
<circle cx="577.1" cy="217.4" r="1.45"/>
<circle cx="535.0" cy="199.8" r="1.45"/>
<circle cx="554.5" cy="230.2" r="1.45"/>
<circle cx="557.7" cy="233.8" r="1.45"/>
<circle cx="562.1" cy="236.7" r="1.45"/>
<circle cx="564.3" cy="234.6" r="1.45"/>
<circle cx="580.4" cy="219.2" r="1.45"/>
<circle cx="568.3" cy="230.3" r="1.45"/>
<circle cx="552.4" cy="232.2" r="1.45"/>
<circle cx="560.7" cy="236.9" r="1.45"/>
<circle cx="573.4" cy="222.2" r="1.45"/>
<circle cx="562.7" cy="235.5" r="1.45"/>
<circle cx="554.4" cy="230.2" r="1.45"/>
<circle cx="559.8" cy="236.7" r="1.45"/>
<circle cx="587.4" cy="188.2" r="1.45"/>
<circle cx="559.9" cy="236.7" r="1.45"/>
<circle cx="583.3" cy="198.8" r="1.45"/>
<circle cx="556.8" cy="233.4" r="1.45"/>
<circle cx="570.8" cy="233.2" r="1.45"/>
<circle cx="554.3" cy="232.1" r="1.45"/>
<circle cx="570.6" cy="234.1" r="1.45"/>
<circle cx="567.8" cy="230.3" r="1.45"/>
<circle cx="559.4" cy="236.7" r="1.45"/>
<circle cx="563.0" cy="236.4" r="1.45"/>
<circle cx="555.8" cy="235.9" r="1.45"/>
<circle cx="563.4" cy="235.2" r="1.45"/>
<circle cx="550.5" cy="234.6" r="1.45"/>
<circle cx="551.9" cy="234.6" r="1.45"/>
<circle cx="577.2" cy="219.7" r="1.45"/>
<circle cx="575.0" cy="218.4" r="1.45"/>
<circle cx="557.9" cy="235.0" r="1.45"/>
<circle cx="547.2" cy="225.1" r="1.45"/>
<circle cx="565.7" cy="235.9" r="1.45"/>
<circle cx="559.9" cy="236.1" r="1.45"/>
<circle cx="548.0" cy="232.1" r="1.45"/>
<circle cx="557.7" cy="233.5" r="1.45"/>
<circle cx="564.3" cy="234.4" r="1.45"/>
<circle cx="569.9" cy="226.4" r="1.45"/>
<circle cx="543.5" cy="226.1" r="1.45"/>
<circle cx="540.9" cy="223.8" r="1.45"/>
<circle cx="554.7" cy="235.1" r="1.45"/>
<circle cx="541.8" cy="213.1" r="1.45"/>
<circle cx="561.8" cy="236.7" r="1.45"/>
<circle cx="569.3" cy="231.6" r="1.45"/>
<circle cx="559.2" cy="235.2" r="1.45"/>
<circle cx="563.2" cy="235.2" r="1.45"/>
<circle cx="557.5" cy="234.4" r="1.45"/>
<circle cx="569.2" cy="229.4" r="1.45"/>
<circle cx="567.3" cy="230.9" r="1.45"/>
<circle cx="589.3" cy="201.8" r="1.45"/>
<circle cx="556.7" cy="233.2" r="1.45"/>
<circle cx="570.3" cy="225.7" r="1.45"/>
<circle cx="568.5" cy="233.2" r="1.45"/>
<circle cx="577.9" cy="218.2" r="1.45"/>
<circle cx="546.1" cy="229.0" r="1.45"/>
<circle cx="560.2" cy="236.7" r="1.45"/>
<circle cx="583.5" cy="204.8" r="1.45"/>
<circle cx="583.2" cy="201.7" r="1.45"/>
<circle cx="582.3" cy="200.5" r="1.45"/>
<circle cx="583.5" cy="195.9" r="1.45"/>
<circle cx="583.8" cy="200.8" r="1.45"/>
<circle cx="581.5" cy="208.1" r="1.45"/>
<circle cx="587.8" cy="191.5" r="1.45"/>
<circle cx="587.9" cy="186.9" r="1.45"/>
<circle cx="581.9" cy="201.3" r="1.45"/>
<circle cx="586.3" cy="187.6" r="1.45"/>
<circle cx="584.9" cy="200.7" r="1.45"/>
<circle cx="581.4" cy="204.8" r="1.45"/>
<circle cx="584.9" cy="191.5" r="1.45"/>
<circle cx="583.1" cy="204.8" r="1.45"/>
<circle cx="585.5" cy="188.9" r="1.45"/>
<circle cx="585.8" cy="195.4" r="1.45"/>
<circle cx="588.4" cy="186.0" r="1.45"/>
<circle cx="583.6" cy="204.8" r="1.45"/>
<circle cx="587.8" cy="185.9" r="1.45"/>
<circle cx="582.5" cy="202.3" r="1.45"/>
<circle cx="583.3" cy="202.6" r="1.45"/>
<circle cx="580.4" cy="207.8" r="1.45"/>
<circle cx="579.4" cy="207.5" r="1.45"/>
<circle cx="580.2" cy="204.1" r="1.45"/>
<circle cx="585.6" cy="186.8" r="1.45"/>
<circle cx="587.2" cy="195.2" r="1.45"/>
<circle cx="580.4" cy="205.7" r="1.45"/>
<circle cx="586.3" cy="185.0" r="1.45"/>
<circle cx="537.1" cy="202.6" r="1.45"/>
<circle cx="533.6" cy="198.5" r="1.45"/>
<circle cx="535.5" cy="201.1" r="1.45"/>
<circle cx="535.4" cy="205.6" r="1.45"/>
<circle cx="532.1" cy="198.8" r="1.45"/>
<circle cx="531.4" cy="197.4" r="1.45"/>
<circle cx="535.9" cy="205.7" r="1.45"/>
<circle cx="535.0" cy="196.3" r="1.45"/>
<circle cx="617.2" cy="42.6" r="1.45"/>
<circle cx="621.5" cy="42.6" r="1.45"/>
<circle cx="626.4" cy="42.6" r="1.45"/>
<circle cx="627.9" cy="42.6" r="1.45"/>
<circle cx="632.9" cy="42.6" r="1.45"/>
<circle cx="644.5" cy="42.6" r="1.45"/>
<circle cx="645.8" cy="42.6" r="1.45"/>
<circle cx="649.5" cy="42.6" r="1.45"/>
<circle cx="619.3" cy="58.2" r="1.45"/>
<circle cx="612.8" cy="78.8" r="1.45"/>
<circle cx="615.4" cy="80.8" r="1.45"/>
<circle cx="625.8" cy="78.2" r="1.45"/>
<circle cx="633.1" cy="76.5" r="1.45"/>
<circle cx="608.2" cy="90.9" r="1.45"/>
<circle cx="611.2" cy="88.3" r="1.45"/>
<circle cx="614.2" cy="87.0" r="1.45"/>
<circle cx="615.2" cy="88.1" r="1.45"/>
<circle cx="610.2" cy="98.0" r="1.45"/>
<circle cx="605.3" cy="110.6" r="1.45"/>
<circle cx="635.5" cy="115.7" r="1.45"/>
<circle cx="607.5" cy="127.5" r="1.45"/>
<circle cx="601.6" cy="133.8" r="1.45"/>
<circle cx="600.5" cy="136.6" r="1.45"/>
<circle cx="600.3" cy="139.4" r="1.45"/>
<circle cx="602.5" cy="142.6" r="1.45"/>
<circle cx="599.5" cy="144.5" r="1.45"/>
<circle cx="602.7" cy="164.6" r="1.45"/>
<circle cx="602.3" cy="167.6" r="1.45"/>
<circle cx="604.2" cy="172.1" r="1.45"/>
<circle cx="594.8" cy="168.5" r="1.45"/>
<circle cx="596.0" cy="176.4" r="1.45"/>
<circle cx="615.0" cy="183.4" r="1.45"/>
<circle cx="607.6" cy="184.6" r="1.45"/>
<circle cx="603.9" cy="187.2" r="1.45"/>
<circle cx="590.0" cy="173.6" r="1.45"/>
<circle cx="597.0" cy="152.0" r="1.45"/>
<circle cx="596.0" cy="156.0" r="1.45"/>
<circle cx="594.5" cy="164.0" r="1.45"/>
<circle cx="592.5" cy="170.0" r="1.45"/>
<circle cx="591.0" cy="176.0" r="1.45"/>
<circle cx="589.5" cy="181.0" r="1.45"/>
<circle cx="588.0" cy="186.0" r="1.45"/>
<circle cx="600.0" cy="195.0" r="1.45"/>
<circle cx="598.0" cy="199.0" r="1.45"/>
<circle cx="594.0" cy="207.0" r="1.45"/>
<circle cx="502.8" cy="58.2" r="1.45"/>
<circle cx="516.4" cy="153.8" r="1.45"/>
<circle cx="524.3" cy="161.0" r="1.45"/>
<circle cx="524.3" cy="164.6" r="1.45"/>
<circle cx="508.0" cy="170.2" r="1.45"/>
<circle cx="518.6" cy="174.0" r="1.45"/>
<circle cx="521.0" cy="176.5" r="1.45"/>
<circle cx="522.0" cy="183.0" r="1.45"/>
<circle cx="531.5" cy="189.0" r="1.45"/>
<circle cx="533.0" cy="191.5" r="1.45"/>
<circle cx="534.0" cy="194.5" r="1.45"/>
<circle cx="530.0" cy="192.5" r="1.45"/>
<circle cx="520.5" cy="195.0" r="1.45"/>
<circle cx="523.5" cy="194.0" r="1.45"/>
<circle cx="535.0" cy="197.0" r="1.45"/>
<circle cx="536.0" cy="200.0" r="1.45"/>
<circle cx="524.0" cy="205.0" r="1.45"/>
<circle cx="527.0" cy="206.5" r="1.45"/>
</g>
<circle cx="566.9" cy="233.2" r="1.5" fill="#33cc33"/>
<circle cx="577.5" cy="217.4" r="1.5" fill="#33cc33"/>
<circle cx="546.1" cy="229.3" r="1.5" fill="#33cc33"/>
<circle cx="566.9" cy="234.3" r="1.5" fill="#33cc33"/>
<circle cx="537.7" cy="212.4" r="1.5" fill="#33cc33"/>
<circle cx="542.4" cy="219.7" r="1.5" fill="#33cc33"/>
<circle cx="546.0" cy="224.0" r="1.5" fill="#33cc33"/>
<circle cx="533.4" cy="207.4" r="1.5" fill="#33cc33"/>
<circle cx="576.7" cy="226.6" r="1.5" fill="#33cc33"/>
<circle cx="583.0" cy="204.2" r="1.5" fill="#33cc33"/>
<circle cx="551.9" cy="229.1" r="1.5" fill="#33cc33"/>
<circle cx="580.3" cy="224.6" r="1.5" fill="#33cc33"/>
<circle cx="546.5" cy="228.0" r="1.5" fill="#33cc33"/>
<circle cx="556.0" cy="234.2" r="1.5" fill="#33cc33"/>
<circle cx="566.8" cy="232.9" r="1.5" fill="#33cc33"/>
<circle cx="577.8" cy="221.2" r="1.5" fill="#33cc33"/>
<circle cx="579.9" cy="216.8" r="1.5" fill="#33cc33"/>
<circle cx="575.1" cy="221.7" r="1.5" fill="#33cc33"/>
<circle cx="535.4" cy="216.7" r="1.5" fill="#33cc33"/>
<circle cx="580.2" cy="213.3" r="1.5" fill="#33cc33"/>
<circle cx="575.8" cy="224.0" r="1.5" fill="#33cc33"/>
<circle cx="569.6" cy="228.5" r="1.5" fill="#33cc33"/>
<circle cx="550.9" cy="230.2" r="1.5" fill="#33cc33"/>
<circle cx="571.8" cy="225.6" r="1.5" fill="#33cc33"/>
<circle cx="575.9" cy="227.3" r="1.5" fill="#33cc33"/>
<circle cx="570.9" cy="231.6" r="1.5" fill="#33cc33"/>
<circle cx="567.3" cy="233.5" r="1.5" fill="#33cc33"/>
<circle cx="535.1" cy="208.1" r="1.5" fill="#33cc33"/>
<circle cx="538.7" cy="216.0" r="1.5" fill="#33cc33"/>
<circle cx="555.6" cy="234.4" r="1.5" fill="#33cc33"/>
<circle cx="538.2" cy="224.1" r="1.5" fill="#33cc33"/>
<circle cx="553.7" cy="234.0" r="1.5" fill="#33cc33"/>
<circle cx="577.9" cy="219.8" r="1.5" fill="#33cc33"/>
<circle cx="577.3" cy="225.5" r="1.5" fill="#33cc33"/>
<circle cx="583.2" cy="214.2" r="1.5" fill="#33cc33"/>
<circle cx="568.4" cy="233.5" r="1.5" fill="#33cc33"/>
<circle cx="551.8" cy="231.1" r="1.5" fill="#33cc33"/>
<circle cx="569.2" cy="230.1" r="1.5" fill="#33cc33"/>
<circle cx="573.8" cy="222.7" r="1.5" fill="#33cc33"/>
<circle cx="577.2" cy="225.1" r="1.5" fill="#33cc33"/>
<circle cx="573.0" cy="228.1" r="1.5" fill="#33cc33"/>
<circle cx="570.2" cy="228.5" r="1.5" fill="#33cc33"/>
<circle cx="577.4" cy="227.9" r="1.5" fill="#33cc33"/>
<circle cx="540.1" cy="216.6" r="1.5" fill="#33cc33"/>
<circle cx="565.9" cy="234.3" r="1.5" fill="#33cc33"/>
<circle cx="576.5" cy="225.0" r="1.5" fill="#33cc33"/>
<circle cx="581.2" cy="221.9" r="1.5" fill="#33cc33"/>
<circle cx="558.9" cy="234.8" r="1.5" fill="#ff00ff"/>
<circle cx="566.5" cy="232.8" r="1.5" fill="#ff00ff"/>
<circle cx="568.5" cy="231.3" r="1.5" fill="#ff00ff"/>
<circle cx="556.0" cy="232.2" r="1.5" fill="#ff00ff"/>
<circle cx="539.9" cy="209.6" r="1.5" fill="#ff00ff"/>
<circle cx="544.9" cy="223.7" r="1.5" fill="#ff00ff"/>
<circle cx="567.4" cy="231.4" r="1.5" fill="#ff00ff"/>
<circle cx="552.3" cy="229.5" r="1.5" fill="#ff00ff"/>
<circle cx="547.0" cy="223.4" r="1.5" fill="#ff00ff"/>
<circle cx="557.5" cy="234.7" r="1.5" fill="#ff00ff"/>
<circle cx="551.9" cy="229.9" r="1.5" fill="#ff00ff"/>
<circle cx="568.8" cy="231.1" r="1.5" fill="#ff00ff"/>
<circle cx="551.8" cy="230.5" r="1.5" fill="#ff00ff"/>
<circle cx="566.5" cy="230.5" r="1.5" fill="#ff00ff"/>
<circle cx="566.2" cy="231.6" r="1.5" fill="#ff00ff"/>
<circle cx="567.3" cy="232.8" r="1.5" fill="#ff00ff"/>
<circle cx="559.1" cy="235.3" r="1.5" fill="#ff00ff"/>
<circle cx="559.1" cy="235.8" r="1.5" fill="#ff00ff"/>
<circle cx="575.5" cy="218.1" r="1.5" fill="#ff00ff"/>
<circle cx="567.3" cy="232.4" r="1.5" fill="#ff00ff"/>
<circle cx="555.9" cy="233.4" r="1.5" fill="#ff00ff"/>
<circle cx="556.2" cy="231.8" r="1.5" fill="#ff00ff"/>
<circle cx="557.4" cy="233.4" r="1.5" fill="#ff00ff"/>
<circle cx="552.8" cy="230.7" r="1.5" fill="#ff00ff"/>
<circle cx="560.6" cy="236.9" r="1.5" fill="#ff00ff"/>
<circle cx="558.1" cy="234.5" r="1.5" fill="#ff00ff"/>
<circle cx="561.2" cy="237.4" r="1.5" fill="#ff00ff"/>
<circle cx="572.0" cy="224.4" r="1.5" fill="#ff00ff"/>
<circle cx="574.0" cy="218.6" r="1.5" fill="#ff00ff"/>
<circle cx="565.3" cy="232.9" r="1.5" fill="#ff00ff"/>
<circle cx="575.5" cy="224.1" r="1.5" fill="#ff00ff"/>
<circle cx="568.9" cy="230.3" r="1.5" fill="#ff00ff"/>
<circle cx="576.6" cy="217.6" r="1.5" fill="#ff00ff"/>
<circle cx="570.9" cy="224.6" r="1.5" fill="#ff00ff"/>
<circle cx="555.1" cy="231.4" r="1.5" fill="#ff00ff"/>
<circle cx="560.0" cy="236.1" r="1.5" fill="#ff00ff"/>
<circle cx="562.3" cy="236.1" r="1.5" fill="#ff00ff"/>
<circle cx="561.1" cy="237.3" r="1.5" fill="#ff00ff"/>
<circle cx="554.9" cy="230.3" r="1.5" fill="#ff00ff"/>
<circle cx="542.5" cy="219.8" r="1.5" fill="#ff00ff"/>
<circle cx="542.3" cy="213.9" r="1.5" fill="#ff00ff"/>
<circle cx="548.6" cy="223.3" r="1.5" fill="#ff00ff"/>
<circle cx="544.6" cy="224.5" r="1.5" fill="#ff00ff"/>
<circle cx="560.1" cy="236.5" r="1.5" fill="#ff00ff"/>
<circle cx="560.0" cy="236.6" r="1.5" fill="#ff00ff"/>
<circle cx="572.5" cy="221.8" r="1.5" fill="#ff00ff"/>
<circle cx="565.3" cy="234.1" r="1.5" fill="#ff00ff"/>
<circle cx="557.5" cy="234.0" r="1.5" fill="#ff00ff"/>
<circle cx="578.3" cy="220.8" r="1.5" fill="#ff00ff"/>
<circle cx="573.7" cy="221.3" r="1.5" fill="#ff00ff"/>
<circle cx="576.6" cy="222.0" r="1.5" fill="#ff00ff"/>
<circle cx="574.3" cy="225.1" r="1.5" fill="#ff00ff"/>
<circle cx="576.2" cy="214.9" r="1.5" fill="#ff00ff"/>
<circle cx="538.8" cy="216.3" r="1.5" fill="#ff00ff"/>
<circle cx="564.9" cy="233.5" r="1.5" fill="#ff00ff"/>
<circle cx="543.5" cy="219.6" r="1.5" fill="#ff00ff"/>
<circle cx="561.6" cy="237.1" r="1.5" fill="#ff00ff"/>
<circle cx="539.6" cy="206.6" r="1.5" fill="#ff00ff"/>
<circle cx="563.6" cy="234.5" r="1.5" fill="#ff00ff"/>
<circle cx="569.2" cy="226.9" r="1.5" fill="#ff00ff"/>
<circle cx="577.2" cy="214.8" r="1.5" fill="#ff00ff"/>
<circle cx="563.2" cy="235.6" r="1.5" fill="#ff00ff"/>
<circle cx="561.2" cy="236.9" r="1.7" fill="#ff00ff"/>
<line x1="438.80" y1="237.60" x2="683.60" y2="237.60" stroke="#555555" stroke-width="0.9"/>
<line x1="439.20" y1="237.40" x2="439.20" y2="241.30" stroke="#555555" stroke-width="0.9"/>
<text x="441.15" y="250.69" font-size="7.8" text-anchor="middle">2</text>
<line x1="435.90" y1="248.40" x2="438.60" y2="248.40" stroke="#1a1a1a" stroke-width="0.75"/>
<line x1="500.20" y1="237.40" x2="500.20" y2="241.30" stroke="#555555" stroke-width="0.9"/>
<text x="502.15" y="250.69" font-size="7.8" text-anchor="middle">1</text>
<line x1="496.90" y1="248.40" x2="499.60" y2="248.40" stroke="#1a1a1a" stroke-width="0.75"/>
<line x1="561.20" y1="237.40" x2="561.20" y2="241.30" stroke="#555555" stroke-width="0.9"/>
<text x="561.20" y="250.69" font-size="7.8" text-anchor="middle">0</text>
<line x1="622.20" y1="237.40" x2="622.20" y2="241.30" stroke="#555555" stroke-width="0.9"/>
<text x="622.20" y="250.69" font-size="7.8" text-anchor="middle">1</text>
<line x1="683.20" y1="237.40" x2="683.20" y2="241.30" stroke="#555555" stroke-width="0.9"/>
<text x="683.20" y="250.69" font-size="7.8" text-anchor="middle">2</text>
<circle cx="641.5" cy="42.6" r="1.5" fill="#ff00ff"/>
<text x="637.00" y="54.08" font-size="6.65" font-style="italic" fill="#ff00ff">PDZD8</text>
<circle cx="611.6" cy="74.3" r="1.5" fill="#ff00ff"/>
<text x="585.90" y="70.88" font-size="6.65" font-style="italic" fill="#ff00ff">OSBPL1A</text>
<circle cx="599.5" cy="148.9" r="1.5" fill="#ff00ff"/>
<text x="597.80" y="147.18" font-size="6.65" text-anchor="end" fill="#ff00ff">TEX2</text>
<circle cx="621.7" cy="145.2" r="1.5" fill="#33cc33"/>
<text x="623.00" y="142.38" font-size="6.65" font-style="italic" fill="#33cc33">LPIN1</text>
<circle cx="593.7" cy="160.5" r="1.5" fill="#33cc33"/>
<text x="592.80" y="157.28" font-size="6.65" text-anchor="end" fill="#33cc33">PRKAA2</text>
<circle cx="599.5" cy="185.5" r="1.5" fill="#ff00ff"/>
<text x="597.30" y="181.78" font-size="6.65" font-style="italic" fill="#ff00ff">PITPNM1</text>
<circle cx="585.3" cy="194.3" r="1.5" fill="#33cc33"/>
<text x="585.90" y="191.28" font-size="6.65" text-anchor="end" fill="#33cc33">SNX17</text>
<circle cx="593.9" cy="195.2" r="1.5" fill="#33cc33"/>
<text x="597.30" y="196.08" font-size="6.65" fill="#33cc33">PRKAB1/2</text>
<circle cx="595.0" cy="203.4" r="1.5" fill="#ff00ff"/>
<text x="597.30" y="208.58" font-size="6.65" font-style="italic" fill="#ff00ff">SCP2</text>
<circle cx="505.4" cy="76.2" r="1.5" fill="#33cc33"/>
<text x="502.20" y="86.58" font-size="6.65" text-anchor="end" fill="#33cc33">PRKD1</text>
<circle cx="520.9" cy="152.1" r="1.5" fill="#33cc33"/>
<text x="516.20" y="148.68" font-size="6.65" text-anchor="end" fill="#33cc33">PRKD3</text>
<circle cx="523.9" cy="158.1" r="1.5" fill="#33cc33"/>
<text x="514.40" y="164.38" font-size="6.65" text-anchor="end" fill="#33cc33">ADIPOR1</text>
<circle cx="529.7" cy="182.5" r="1.5" fill="#33cc33"/>
<text x="524.10" y="180.58" font-size="6.65" text-anchor="end" font-style="italic" fill="#33cc33">DGKD</text>
<circle cx="528.9" cy="184.6" r="1.5" fill="#ff00ff"/>
<text x="523.00" y="191.28" font-size="6.65" text-anchor="end" fill="#ff00ff">PLIN2</text>
<circle cx="537.7" cy="201.4" r="1.5" fill="#ff00ff"/>
<text x="530.20" y="202.98" font-size="6.65" text-anchor="end" fill="#ff00ff">OSBPL3</text>
<text transform="translate(538.4,75.0) rotate(-90)" font-size="8.9" text-anchor="middle">–log<tspan font-size="6.2" dy="1.6">10</tspan><tspan dy="-1.6">(</tspan><tspan font-style="italic">P</tspan> value)</text>
<text x="561.20" y="266.39" font-size="8.9" text-anchor="middle" textLength="79.4" lengthAdjust="spacingAndGlyphs">Relative enrichment</text>
<text x="561.2" y="280.2" font-size="8.9" text-anchor="middle" textLength="166.3" lengthAdjust="spacingAndGlyphs">log<tspan font-size="6.2" dy="1.6">2</tspan><tspan dy="-1.6">(Lyso-superPLD + Lyso-TurboID versus</tspan></text>
<text x="561.20" y="289.79" font-size="8.9" text-anchor="middle" textLength="121.1" lengthAdjust="spacingAndGlyphs">Lyso-deadPLD + Lyso-TurboID)</text>
<circle cx="457.1" cy="16.8" r="1.4" fill="#ff00ff"/>
<text x="463.30" y="19.79" font-size="8.9" textLength="58.8" lengthAdjust="spacingAndGlyphs">Lipid transport</text>
<circle cx="457.1" cy="30.0" r="1.4" fill="#33cc33"/>
<text x="463.30" y="33.39" font-size="8.9" textLength="68.6" lengthAdjust="spacingAndGlyphs">Lipid metabolism</text>
<text x="438.90" y="9.40" font-size="13" font-weight="bold" fill="#000">c</text>
<text x="0.00" y="313.80" font-size="13" font-weight="bold" fill="#000">d</text>
<rect x="24.10" y="310.90" width="70.40" height="24.50" fill="#808080"/>
<rect x="94.50" y="310.90" width="129.20" height="24.50" fill="#595959"/>
<rect x="223.70" y="310.90" width="117.50" height="24.50" fill="#999999"/>
<rect x="341.20" y="310.90" width="123.40" height="24.50" fill="#595959"/>
<rect x="464.60" y="310.90" width="124.20" height="24.50" fill="#999999"/>
<rect x="94.50" y="335.40" width="129.20" height="252.70" fill="#e6e6e6"/>
<rect x="341.20" y="335.40" width="123.40" height="252.70" fill="#e6e6e6"/>
<text x="58.40" y="320.34" font-size="7.65" text-anchor="middle" fill="#e4e4e4" textLength="51.1" lengthAdjust="spacingAndGlyphs">GO biological</text>
<text x="59.50" y="330.14" font-size="7.65" text-anchor="middle" fill="#e4e4e4" textLength="29.5" lengthAdjust="spacingAndGlyphs">process</text>
<text x="158.80" y="320.34" font-size="7.65" text-anchor="middle" fill="#e4e4e4" textLength="46.0" lengthAdjust="spacingAndGlyphs">Increased in</text>
<text x="158.80" y="330.14" font-size="7.65" text-anchor="middle" fill="#e4e4e4" textLength="69.8" lengthAdjust="spacingAndGlyphs">plasma membrane</text>
<text x="282.20" y="320.34" font-size="7.65" text-anchor="middle" fill="#e4e4e4" textLength="48.4" lengthAdjust="spacingAndGlyphs">Decreased in</text>
<text x="282.20" y="330.14" font-size="7.65" text-anchor="middle" fill="#e4e4e4" textLength="69.2" lengthAdjust="spacingAndGlyphs">plasma membrane</text>
<text x="403.00" y="320.34" font-size="7.65" text-anchor="middle" fill="#e4e4e4" textLength="45.6" lengthAdjust="spacingAndGlyphs">Increased in</text>
<text x="403.00" y="330.14" font-size="7.65" text-anchor="middle" fill="#e4e4e4" textLength="79.7" lengthAdjust="spacingAndGlyphs">lysosomal membrane</text>
<text x="525.90" y="320.34" font-size="7.65" text-anchor="middle" fill="#e4e4e4" textLength="48.3" lengthAdjust="spacingAndGlyphs">Decreased in</text>
<text x="525.90" y="330.14" font-size="7.65" text-anchor="middle" fill="#e4e4e4" textLength="79.6" lengthAdjust="spacingAndGlyphs">lysosomal membrane</text>
<text x="58.90" y="353.80" font-size="7.65" text-anchor="middle" stroke="#1a1a1a" stroke-width=".1" textLength="57.2" lengthAdjust="spacingAndGlyphs">Lipid transport/</text>
<text x="58.90" y="363.00" font-size="7.65" text-anchor="middle" stroke="#1a1a1a" stroke-width=".1" textLength="42.2" lengthAdjust="spacingAndGlyphs">localization</text>
<text x="58.90" y="427.50" font-size="7.65" text-anchor="middle" stroke="#1a1a1a" stroke-width=".1" textLength="56.7" lengthAdjust="spacingAndGlyphs">Lipid metabolic</text>
<text x="58.90" y="436.70" font-size="7.65" text-anchor="middle" stroke="#1a1a1a" stroke-width=".1" textLength="28.9" lengthAdjust="spacingAndGlyphs">process</text>
<text x="58.90" y="490.68" font-size="7.65" text-anchor="middle" stroke="#1a1a1a" stroke-width=".1" textLength="49.0" lengthAdjust="spacingAndGlyphs">Regulation of</text>
<text x="58.90" y="499.88" font-size="7.65" text-anchor="middle" stroke="#1a1a1a" stroke-width=".1" textLength="60.6" lengthAdjust="spacingAndGlyphs">lipid localization</text>
<text x="58.90" y="517.00" font-size="7.65" text-anchor="middle" stroke="#1a1a1a" stroke-width=".1" textLength="49.0" lengthAdjust="spacingAndGlyphs">Regulation of</text>
<text x="58.90" y="526.20" font-size="7.65" text-anchor="middle" stroke="#1a1a1a" stroke-width=".1" textLength="61.8" lengthAdjust="spacingAndGlyphs">lipid metabolism</text>
<text x="58.90" y="559.12" font-size="7.65" text-anchor="middle" stroke="#1a1a1a" stroke-width=".1" textLength="45.2" lengthAdjust="spacingAndGlyphs">Response to</text>
<text x="58.90" y="568.32" font-size="7.65" text-anchor="middle" stroke="#1a1a1a" stroke-width=".1" textLength="19.9" lengthAdjust="spacingAndGlyphs">lipids</text>
<text x="114.40" y="343.30" font-size="7.65" text-anchor="middle" font-weight="bold" fill="#000">CPT2</text>
<text x="156.40" y="343.30" font-size="7.65" text-anchor="middle" font-weight="bold" fill="#000">PDZD8</text>
<text x="200.30" y="343.30" font-size="7.65" text-anchor="middle" stroke="#1a1a1a" stroke-width=".12">VAPA</text>
<text x="114.40" y="353.83" font-size="7.65" text-anchor="middle" font-weight="bold" fill="#000">SCP2</text>
<text x="156.40" y="353.83" font-size="7.65" text-anchor="middle" stroke="#1a1a1a" stroke-width=".12">VPS13B</text>
<text x="200.30" y="353.83" font-size="7.65" text-anchor="middle" stroke="#1a1a1a" stroke-width=".12">GRAMD1A</text>
<text x="114.40" y="364.36" font-size="7.65" text-anchor="middle" font-weight="bold" fill="#000">SOAT1</text>
<text x="156.40" y="364.36" font-size="7.65" text-anchor="middle" stroke="#1a1a1a" stroke-width=".12">TEX2</text>
<text x="114.40" y="374.89" font-size="7.65" text-anchor="middle" font-weight="bold" fill="#000">PITPNM1</text>
<text x="156.40" y="374.89" font-size="7.65" text-anchor="middle" stroke="#1a1a1a" stroke-width=".12">STOML2</text>
<text x="114.40" y="385.42" font-size="7.65" text-anchor="middle" font-weight="bold" fill="#000">LPIN2</text>
<text x="156.40" y="385.42" font-size="7.65" text-anchor="middle" font-weight="bold" fill="#000">SOAT1</text>
<text x="200.30" y="385.42" font-size="7.65" text-anchor="middle" stroke="#1a1a1a" stroke-width=".12">PIK3CB</text>
<text x="114.40" y="395.95" font-size="7.65" text-anchor="middle" font-weight="bold" fill="#000">CPT2</text>
<text x="156.40" y="395.95" font-size="7.65" text-anchor="middle" font-weight="bold" fill="#000">PITPNM1</text>
<text x="200.30" y="395.95" font-size="7.65" text-anchor="middle" stroke="#1a1a1a" stroke-width=".12">GPAT3</text>
<text x="114.40" y="406.48" font-size="7.65" text-anchor="middle" font-weight="bold" fill="#000">PRKAG1</text>
<text x="156.40" y="406.48" font-size="7.65" text-anchor="middle" stroke="#1a1a1a" stroke-width=".12">DGKH</text>
<text x="200.30" y="406.48" font-size="7.65" text-anchor="middle" stroke="#1a1a1a" stroke-width=".12">ACBD5</text>
<text x="114.40" y="417.01" font-size="7.65" text-anchor="middle" font-weight="bold" fill="#000">PTPMT1</text>
<text x="156.40" y="417.01" font-size="7.65" text-anchor="middle" font-weight="bold" fill="#000">LIPA</text>
<text x="200.30" y="417.01" font-size="7.65" text-anchor="middle" stroke="#1a1a1a" stroke-width=".12">CAT</text>
<text x="114.40" y="427.54" font-size="7.65" text-anchor="middle" font-weight="bold" fill="#000">LPIN1</text>
<text x="156.40" y="427.54" font-size="7.65" text-anchor="middle" stroke="#1a1a1a" stroke-width=".12">DHCR24</text>
<text x="200.30" y="427.54" font-size="7.65" text-anchor="middle" stroke="#1a1a1a" stroke-width=".12">CYP51A1</text>
<text x="114.40" y="438.07" font-size="7.65" text-anchor="middle" font-weight="bold" fill="#000">PRKAA2</text>
<text x="156.40" y="438.07" font-size="7.65" text-anchor="middle" stroke="#1a1a1a" stroke-width=".12">ACOT7</text>
<text x="200.30" y="438.07" font-size="7.65" text-anchor="middle" stroke="#1a1a1a" stroke-width=".12">VAPA</text>
<text x="114.40" y="448.59" font-size="7.65" text-anchor="middle" font-weight="bold" fill="#000">NEU3</text>
<text x="156.40" y="448.59" font-size="7.65" text-anchor="middle" stroke="#1a1a1a" stroke-width=".12">INPP5B</text>
<text x="200.30" y="448.59" font-size="7.65" text-anchor="middle" stroke="#1a1a1a" stroke-width=".12">MTM1</text>
<text x="114.40" y="459.12" font-size="7.65" text-anchor="middle" font-weight="bold" fill="#000">PRKAB2</text>
<text x="156.40" y="459.12" font-size="7.65" text-anchor="middle" stroke="#1a1a1a" stroke-width=".12">TEX2</text>
<text x="200.30" y="459.12" font-size="7.65" text-anchor="middle" stroke="#1a1a1a" stroke-width=".12">FAM135A</text>
<text x="114.40" y="469.65" font-size="7.65" text-anchor="middle" font-weight="bold" fill="#000">SCP2</text>
<text x="156.40" y="469.65" font-size="7.65" text-anchor="middle" stroke="#1a1a1a" stroke-width=".12">MTMR9</text>
<text x="114.40" y="480.18" font-size="7.65" text-anchor="middle" font-weight="bold" fill="#000">PRKAB1</text>
<text x="156.40" y="480.18" font-size="7.65" text-anchor="middle" stroke="#1a1a1a" stroke-width=".12">INPP5F</text>
<text x="114.40" y="490.71" font-size="7.65" text-anchor="middle" font-weight="bold" fill="#000">SCP2</text>
<text x="114.40" y="511.77" font-size="7.65" text-anchor="middle" font-weight="bold" fill="#000">LPIN1</text>
<text x="156.40" y="511.77" font-size="7.65" text-anchor="middle" stroke="#1a1a1a" stroke-width=".12">IDH1</text>
<text x="114.40" y="522.30" font-size="7.65" text-anchor="middle" font-weight="bold" fill="#000">SCP2</text>
<text x="156.40" y="522.30" font-size="7.65" text-anchor="middle" stroke="#1a1a1a" stroke-width=".12">MTMR9</text>
<text x="114.40" y="532.83" font-size="7.65" text-anchor="middle" font-weight="bold" fill="#000">PHB2</text>
<text x="156.40" y="532.83" font-size="7.65" text-anchor="middle" stroke="#1a1a1a" stroke-width=".12">STOML2</text>
<text x="114.40" y="543.36" font-size="7.65" text-anchor="middle" font-weight="bold" fill="#000">AKAP12</text>
<text x="156.40" y="543.36" font-size="7.65" text-anchor="middle" stroke="#1a1a1a" stroke-width=".12">S100A9</text>
<text x="200.30" y="543.36" font-size="7.65" text-anchor="middle" stroke="#1a1a1a" stroke-width=".12">ABL2</text>
<text x="114.40" y="553.89" font-size="7.65" text-anchor="middle" font-weight="bold" fill="#000">S100A7</text>
<text x="156.40" y="553.89" font-size="7.65" text-anchor="middle" stroke="#1a1a1a" stroke-width=".12">YAP1</text>
<text x="200.30" y="553.89" font-size="7.65" text-anchor="middle" stroke="#1a1a1a" stroke-width=".12">CAT</text>
<text x="114.40" y="564.42" font-size="7.65" text-anchor="middle" font-weight="bold" fill="#000">PRKAA2</text>
<text x="156.40" y="564.42" font-size="7.65" text-anchor="middle" stroke="#1a1a1a" stroke-width=".12">FKBP4</text>
<text x="200.30" y="564.42" font-size="7.65" text-anchor="middle" stroke="#1a1a1a" stroke-width=".12">GRAMD1A</text>
<text x="114.40" y="574.94" font-size="7.65" text-anchor="middle" font-weight="bold" fill="#000">ARG1</text>
<text x="156.40" y="574.94" font-size="7.65" text-anchor="middle" stroke="#1a1a1a" stroke-width=".12">IDH1</text>
<text x="114.40" y="585.47" font-size="7.65" text-anchor="middle" font-weight="bold" fill="#000">PHB2</text>
<text x="156.40" y="585.47" font-size="7.65" text-anchor="middle" stroke="#1a1a1a" stroke-width=".12">UBE2L3</text>
<text x="243.40" y="343.30" font-size="7.65" text-anchor="middle" font-weight="bold" fill="#000">PLIN2</text>
<text x="282.40" y="343.30" font-size="7.65" text-anchor="middle" stroke="#1a1a1a" stroke-width=".12">ABCD3</text>
<text x="243.40" y="353.83" font-size="7.65" text-anchor="middle" font-weight="bold" fill="#000">STARD3</text>
<text x="282.40" y="353.83" font-size="7.65" text-anchor="middle" stroke="#1a1a1a" stroke-width=".12">ATP8B2</text>
<text x="243.40" y="364.36" font-size="7.65" text-anchor="middle" font-weight="bold" fill="#000">SPG11</text>
<text x="282.40" y="364.36" font-size="7.65" text-anchor="middle" stroke="#1a1a1a" stroke-width=".12">NPC1</text>
<text x="243.40" y="374.89" font-size="7.65" text-anchor="middle" stroke="#1a1a1a" stroke-width=".12">ATP8A1</text>
<text x="243.40" y="385.42" font-size="7.65" text-anchor="middle" font-weight="bold" fill="#000">ADIPOR1</text>
<text x="243.40" y="395.95" font-size="7.65" text-anchor="middle" font-weight="bold" fill="#000">PRKD3</text>
<text x="243.40" y="406.48" font-size="7.65" text-anchor="middle" font-weight="bold" fill="#000">PRKD1</text>
<text x="243.40" y="417.01" font-size="7.65" text-anchor="middle" font-weight="bold" fill="#000">DGKD</text>
<text x="243.40" y="427.54" font-size="7.65" text-anchor="middle" font-weight="bold" fill="#000">STARD3</text>
<text x="243.40" y="438.07" font-size="7.65" text-anchor="middle" stroke="#1a1a1a" stroke-width=".12">EFR3A</text>
<text x="243.40" y="448.59" font-size="7.65" text-anchor="middle" stroke="#1a1a1a" stroke-width=".12">ABCD3</text>
<text x="243.40" y="459.12" font-size="7.65" text-anchor="middle" stroke="#1a1a1a" stroke-width=".12">NPC1</text>
<text x="243.40" y="469.65" font-size="7.65" text-anchor="middle" stroke="#1a1a1a" stroke-width=".12">APP</text>
<text x="243.40" y="490.71" font-size="7.65" text-anchor="middle" stroke="#1a1a1a" stroke-width=".12">ATP8A1</text>
<text x="243.40" y="501.24" font-size="7.65" text-anchor="middle" stroke="#1a1a1a" stroke-width=".12">PRKCD</text>
<text x="243.40" y="511.77" font-size="7.65" text-anchor="middle" font-weight="bold" fill="#000">ADIPOR1</text>
<text x="282.40" y="511.77" font-size="7.65" text-anchor="middle" stroke="#1a1a1a" stroke-width=".12">LSR</text>
<text x="243.40" y="522.30" font-size="7.65" text-anchor="middle" font-weight="bold" fill="#000">PRKD1</text>
<text x="282.40" y="522.30" font-size="7.65" text-anchor="middle" stroke="#1a1a1a" stroke-width=".12">PRKCD</text>
<text x="243.40" y="532.83" font-size="7.65" text-anchor="middle" stroke="#1a1a1a" stroke-width=".12">NCOR1</text>
<text x="243.40" y="543.36" font-size="7.65" text-anchor="middle" font-weight="bold" fill="#000">NCOR1</text>
<text x="243.40" y="553.89" font-size="7.65" text-anchor="middle" font-weight="bold" fill="#000">TXNIP</text>
<text x="243.40" y="564.42" font-size="7.65" text-anchor="middle" stroke="#1a1a1a" stroke-width=".12">NPC1</text>
<text x="243.40" y="574.94" font-size="7.65" text-anchor="middle" stroke="#1a1a1a" stroke-width=".12">SNW1</text>
<text x="361.50" y="343.30" font-size="7.65" text-anchor="middle" font-weight="bold" fill="#000">PDZD8</text>
<text x="403.00" y="343.30" font-size="7.65" text-anchor="middle" stroke="#1a1a1a" stroke-width=".12">PNPLA8</text>
<text x="443.80" y="343.30" font-size="7.65" text-anchor="middle" stroke="#1a1a1a" stroke-width=".12">LDAH</text>
<text x="361.50" y="353.83" font-size="7.65" text-anchor="middle" font-weight="bold" fill="#000">OSBPL1A</text>
<text x="403.00" y="353.83" font-size="7.65" text-anchor="middle" stroke="#1a1a1a" stroke-width=".12">TEX264</text>
<text x="443.80" y="353.83" font-size="7.65" text-anchor="middle" stroke="#1a1a1a" stroke-width=".12">VAPA</text>
<text x="361.50" y="364.36" font-size="7.65" text-anchor="middle" font-weight="bold" fill="#000">TEX2</text>
<text x="403.00" y="364.36" font-size="7.65" text-anchor="middle" stroke="#1a1a1a" stroke-width=".12">VPS13C</text>
<text x="443.80" y="364.36" font-size="7.65" text-anchor="middle" stroke="#1a1a1a" stroke-width=".12">LIMA1</text>
<text x="361.50" y="374.89" font-size="7.65" text-anchor="middle" font-weight="bold" fill="#000">SCP2</text>
<text x="403.00" y="374.89" font-size="7.65" text-anchor="middle" stroke="#1a1a1a" stroke-width=".12">STX12</text>
<text x="361.50" y="385.42" font-size="7.65" text-anchor="middle" font-weight="bold" fill="#000">LPIN1</text>
<text x="403.00" y="385.42" font-size="7.65" text-anchor="middle" stroke="#1a1a1a" stroke-width=".12">PRKAB2</text>
<text x="443.80" y="385.42" font-size="7.65" text-anchor="middle" stroke="#1a1a1a" stroke-width=".12">LDAH</text>
<text x="361.50" y="395.95" font-size="7.65" text-anchor="middle" font-weight="bold" fill="#000">OSBPL1A</text>
<text x="403.00" y="395.95" font-size="7.65" text-anchor="middle" stroke="#1a1a1a" stroke-width=".12">SCPEP1</text>
<text x="443.80" y="395.95" font-size="7.65" text-anchor="middle" stroke="#1a1a1a" stroke-width=".12">PI4K2A</text>
<text x="361.50" y="406.48" font-size="7.65" text-anchor="middle" font-weight="bold" fill="#000">PRKAG1</text>
<text x="403.00" y="406.48" font-size="7.65" text-anchor="middle" stroke="#1a1a1a" stroke-width=".12">LIPA</text>
<text x="443.80" y="406.48" font-size="7.65" text-anchor="middle" stroke="#1a1a1a" stroke-width=".12">FAM126B</text>
<text x="361.50" y="417.01" font-size="7.65" text-anchor="middle" font-weight="bold" fill="#000">TEX2</text>
<text x="403.00" y="417.01" font-size="7.65" text-anchor="middle" stroke="#1a1a1a" stroke-width=".12">SNX17</text>
<text x="443.80" y="417.01" font-size="7.65" text-anchor="middle" stroke="#1a1a1a" stroke-width=".12">ACSL4</text>
<text x="361.50" y="427.54" font-size="7.65" text-anchor="middle" font-weight="bold" fill="#000">SCP2</text>
<text x="403.00" y="427.54" font-size="7.65" text-anchor="middle" stroke="#1a1a1a" stroke-width=".12">MTMR12</text>
<text x="443.80" y="427.54" font-size="7.65" text-anchor="middle" stroke="#1a1a1a" stroke-width=".12">VAPA</text>
<text x="361.50" y="438.07" font-size="7.65" text-anchor="middle" font-weight="bold" fill="#000">PRKAA2</text>
<text x="403.00" y="438.07" font-size="7.65" text-anchor="middle" stroke="#1a1a1a" stroke-width=".12">MTMR12</text>
<text x="443.80" y="438.07" font-size="7.65" text-anchor="middle" stroke="#1a1a1a" stroke-width=".12">LIMA1</text>
<text x="361.50" y="448.59" font-size="7.65" text-anchor="middle" stroke="#1a1a1a" stroke-width=".12">PNPLA8</text>
<text x="403.00" y="448.59" font-size="7.65" text-anchor="middle" stroke="#1a1a1a" stroke-width=".12">PIKFYVE</text>
<text x="361.50" y="459.12" font-size="7.65" text-anchor="middle" stroke="#1a1a1a" stroke-width=".12">FDPS</text>
<text x="403.00" y="459.12" font-size="7.65" text-anchor="middle" stroke="#1a1a1a" stroke-width=".12">CAT</text>
<text x="361.50" y="469.65" font-size="7.65" text-anchor="middle" stroke="#1a1a1a" stroke-width=".12">TEX264</text>
<text x="403.00" y="469.65" font-size="7.65" text-anchor="middle" stroke="#1a1a1a" stroke-width=".12">LRP2</text>
<text x="361.50" y="480.18" font-size="7.65" text-anchor="middle" font-weight="bold" fill="#000">PRKAB1</text>
<text x="403.00" y="480.18" font-size="7.65" text-anchor="middle" stroke="#1a1a1a" stroke-width=".12">PI4K2B</text>
<text x="361.50" y="490.71" font-size="7.65" text-anchor="middle" font-weight="bold" fill="#000">SCP2</text>
<text x="403.00" y="490.71" font-size="7.65" text-anchor="middle" stroke="#1a1a1a" stroke-width=".12">ACSL4</text>
<text x="361.50" y="501.24" font-size="7.65" text-anchor="middle" stroke="#1a1a1a" stroke-width=".12">ANXA2</text>
<text x="361.50" y="511.77" font-size="7.65" text-anchor="middle" font-weight="bold" fill="#000">LPIN1</text>
<text x="361.50" y="522.30" font-size="7.65" text-anchor="middle" font-weight="bold" fill="#000">SCP2</text>
<text x="361.50" y="532.83" font-size="7.65" text-anchor="middle" font-weight="bold" fill="#000">APPL2</text>
<text x="361.50" y="543.36" font-size="7.65" text-anchor="middle" font-weight="bold" fill="#000">AKAP12</text>
<text x="403.00" y="543.36" font-size="7.65" text-anchor="middle" stroke="#1a1a1a" stroke-width=".12">UBE2L3</text>
<text x="443.80" y="543.36" font-size="7.65" text-anchor="middle" stroke="#1a1a1a" stroke-width=".12">RHOA</text>
<text x="361.50" y="553.89" font-size="7.65" text-anchor="middle" font-weight="bold" fill="#000">PRKAA2</text>
<text x="403.00" y="553.89" font-size="7.65" text-anchor="middle" stroke="#1a1a1a" stroke-width=".12">CAT</text>
<text x="443.80" y="553.89" font-size="7.65" text-anchor="middle" stroke="#1a1a1a" stroke-width=".12">PPP5C</text>
<text x="361.50" y="564.42" font-size="7.65" text-anchor="middle" stroke="#1a1a1a" stroke-width=".12">FOXO1</text>
<text x="403.00" y="564.42" font-size="7.65" text-anchor="middle" stroke="#1a1a1a" stroke-width=".12">NEDD4L</text>
<text x="361.50" y="574.94" font-size="7.65" text-anchor="middle" stroke="#1a1a1a" stroke-width=".12">S100A8</text>
<text x="403.00" y="574.94" font-size="7.65" text-anchor="middle" stroke="#1a1a1a" stroke-width=".12">ADAM9</text>
<text x="361.50" y="585.47" font-size="7.65" text-anchor="middle" stroke="#1a1a1a" stroke-width=".12">ARG1</text>
<text x="403.00" y="585.47" font-size="7.65" text-anchor="middle" stroke="#1a1a1a" stroke-width=".12">YAP1</text>
<text x="484.70" y="343.30" font-size="7.65" text-anchor="middle" font-weight="bold" fill="#000">PLIN2</text>
<text x="525.30" y="343.30" font-size="7.65" text-anchor="middle" stroke="#1a1a1a" stroke-width=".12">ATP8B2</text>
<text x="484.70" y="353.83" font-size="7.65" text-anchor="middle" stroke="#1a1a1a" stroke-width=".12">OSBPL6</text>
<text x="525.30" y="353.83" font-size="7.65" text-anchor="middle" stroke="#1a1a1a" stroke-width=".12">AUP1</text>
<text x="484.70" y="364.36" font-size="7.65" text-anchor="middle" font-weight="bold" fill="#000">OSBPL3</text>
<text x="525.30" y="364.36" font-size="7.65" text-anchor="middle" stroke="#1a1a1a" stroke-width=".12">SCARB1</text>
<text x="484.70" y="374.89" font-size="7.65" text-anchor="middle" stroke="#1a1a1a" stroke-width=".12">ABCD3</text>
<text x="484.70" y="385.42" font-size="7.65" text-anchor="middle" font-weight="bold" fill="#000">PRKD1</text>
<text x="525.30" y="385.42" font-size="7.65" text-anchor="middle" stroke="#1a1a1a" stroke-width=".12">SREBF2</text>
<text x="484.70" y="395.95" font-size="7.65" text-anchor="middle" font-weight="bold" fill="#000">PRKD3</text>
<text x="525.30" y="395.95" font-size="7.65" text-anchor="middle" stroke="#1a1a1a" stroke-width=".12">SC5D</text>
<text x="484.70" y="406.48" font-size="7.65" text-anchor="middle" font-weight="bold" fill="#000">ADIPOR1</text>
<text x="525.30" y="406.48" font-size="7.65" text-anchor="middle" stroke="#1a1a1a" stroke-width=".12">SLC25A1</text>
<text x="484.70" y="417.01" font-size="7.65" text-anchor="middle" font-weight="bold" fill="#000">DGKD</text>
<text x="525.30" y="417.01" font-size="7.65" text-anchor="middle" stroke="#1a1a1a" stroke-width=".12">PRKD2</text>
<text x="484.70" y="427.54" font-size="7.65" text-anchor="middle" stroke="#1a1a1a" stroke-width=".12">BBS1</text>
<text x="525.30" y="427.54" font-size="7.65" text-anchor="middle" stroke="#1a1a1a" stroke-width=".12">ERLIN2</text>
<text x="484.70" y="438.07" font-size="7.65" text-anchor="middle" stroke="#1a1a1a" stroke-width=".12">OSBPL6</text>
<text x="525.30" y="438.07" font-size="7.65" text-anchor="middle" stroke="#1a1a1a" stroke-width=".12">SCARB1</text>
<text x="484.70" y="448.59" font-size="7.65" text-anchor="middle" stroke="#1a1a1a" stroke-width=".12">EFR3A</text>
<text x="525.30" y="448.59" font-size="7.65" text-anchor="middle" stroke="#1a1a1a" stroke-width=".12">IDI1</text>
<text x="484.70" y="459.12" font-size="7.65" text-anchor="middle" stroke="#1a1a1a" stroke-width=".12">FDFT1</text>
<text x="484.70" y="469.65" font-size="7.65" text-anchor="middle" font-weight="bold" fill="#000">OSBPL3</text>
<text x="484.70" y="480.18" font-size="7.65" text-anchor="middle" stroke="#1a1a1a" stroke-width=".12">ABCD3</text>
<text x="484.70" y="490.71" font-size="7.65" text-anchor="middle" stroke="#1a1a1a" stroke-width=".12">AKT1</text>
<text x="525.30" y="490.71" font-size="7.65" text-anchor="middle" stroke="#1a1a1a" stroke-width=".12">IRS2</text>
<text x="484.70" y="501.24" font-size="7.65" text-anchor="middle" stroke="#1a1a1a" stroke-width=".12">OSBPL6</text>
<text x="525.30" y="501.24" font-size="7.65" text-anchor="middle" stroke="#1a1a1a" stroke-width=".12">SREBF2</text>
<text x="484.70" y="511.77" font-size="7.65" text-anchor="middle" font-weight="bold" fill="#000">PRKCE</text>
<text x="525.30" y="511.77" font-size="7.65" text-anchor="middle" stroke="#1a1a1a" stroke-width=".12">AKT1</text>
<text x="566.60" y="511.77" font-size="7.65" text-anchor="middle" stroke="#1a1a1a" stroke-width=".12">SREBF2</text>
<text x="484.70" y="522.30" font-size="7.65" text-anchor="middle" font-weight="bold" fill="#000">PRKD1</text>
<text x="525.30" y="522.30" font-size="7.65" text-anchor="middle" stroke="#1a1a1a" stroke-width=".12">LSR</text>
<text x="566.60" y="522.30" font-size="7.65" text-anchor="middle" stroke="#1a1a1a" stroke-width=".12">ERLIN2</text>
<text x="484.70" y="532.83" font-size="7.65" text-anchor="middle" font-weight="bold" fill="#000">ADIPOR1</text>
<text x="525.30" y="532.83" font-size="7.65" text-anchor="middle" stroke="#1a1a1a" stroke-width=".12">IRS2</text>
<text x="566.60" y="532.83" font-size="7.65" text-anchor="middle" stroke="#1a1a1a" stroke-width=".12">SCARB1</text>
<text x="484.70" y="543.36" font-size="7.65" text-anchor="middle" font-weight="bold" fill="#000">PRKCE</text>
<text x="484.70" y="553.89" font-size="7.65" text-anchor="middle" stroke="#1a1a1a" stroke-width=".12">AKT1</text>
<text x="484.70" y="564.42" font-size="7.65" text-anchor="middle" stroke="#1a1a1a" stroke-width=".12">CCNA2</text>
<text x="484.70" y="574.94" font-size="7.65" text-anchor="middle" stroke="#1a1a1a" stroke-width=".12">SCARB1</text>
<line x1="23.60" y1="310.90" x2="589.30" y2="310.90" stroke="#404040" stroke-width="1"/>
<line x1="23.60" y1="335.40" x2="589.30" y2="335.40" stroke="#404040" stroke-width="1"/>
<line x1="23.60" y1="377.52" x2="589.30" y2="377.52" stroke="#404040" stroke-width="1"/>
<line x1="23.60" y1="482.81" x2="589.30" y2="482.81" stroke="#404040" stroke-width="1"/>
<line x1="23.60" y1="503.87" x2="589.30" y2="503.87" stroke="#404040" stroke-width="1"/>
<line x1="23.60" y1="535.45" x2="589.30" y2="535.45" stroke="#404040" stroke-width="1"/>
<line x1="23.60" y1="588.10" x2="589.30" y2="588.10" stroke="#404040" stroke-width="1"/>
<line x1="24.10" y1="310.90" x2="24.10" y2="588.10" stroke="#404040" stroke-width="1"/>
<line x1="94.50" y1="310.90" x2="94.50" y2="588.10" stroke="#404040" stroke-width="1"/>
<line x1="223.70" y1="310.90" x2="223.70" y2="588.10" stroke="#404040" stroke-width="1"/>
<line x1="341.20" y1="310.90" x2="341.20" y2="588.10" stroke="#404040" stroke-width="1"/>
<line x1="464.60" y1="310.90" x2="464.60" y2="588.10" stroke="#404040" stroke-width="1"/>
<line x1="588.80" y1="310.90" x2="588.80" y2="588.10" stroke="#404040" stroke-width="1"/>
<text x="24.80" y="602.24" font-size="7.65" textLength="328.9" lengthAdjust="spacingAndGlyphs">Note: Bold indicates protein hits with high significance (abundance ratio <tspan font-style="italic">P</tspan> value &lt; 0.001)</text>
</svg>
</body></html>
